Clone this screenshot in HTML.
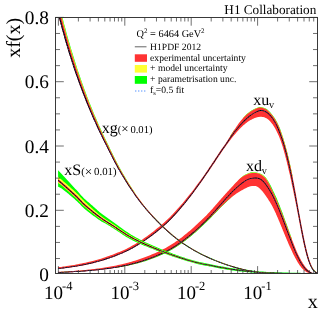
<!DOCTYPE html>
<html><head><meta charset="utf-8"><title>H1PDF 2012</title>
<style>
html,body{margin:0;padding:0;background:#fff;}
body{width:325px;height:314px;overflow:hidden;font-family:"Liberation Serif",serif;}
svg{display:block;will-change:transform;}
text{font-family:"Liberation Serif",serif;fill:#000;text-rendering:geometricPrecision;}
</style></head><body>
<svg width="325" height="314" viewBox="0 0 325 314">
<rect width="325" height="314" fill="#fff"/>
<defs><clipPath id="c"><rect x="58.1" y="17.5" width="259.4" height="256.0"/></clipPath></defs>
<g clip-path="url(#c)">
<g id="xdv">
<path d="M50.0,272.9L51.5,272.9L53.0,272.9L54.5,272.8L56.0,272.8L57.5,272.7L58.9,272.6L60.4,272.6L61.9,272.5L63.4,272.4L64.9,272.3L66.4,272.3L67.9,272.2L69.4,272.1L70.8,272.0L72.3,271.9L73.8,271.8L75.3,271.7L76.8,271.5L78.3,271.4L79.8,271.3L81.2,271.2L82.7,271.0L84.2,270.9L85.7,270.8L87.2,270.6L88.7,270.5L90.1,270.3L91.6,270.2L93.1,270.0L94.6,269.8L96.1,269.6L97.5,269.4L99.0,269.3L100.5,269.1L102.0,268.8L103.4,268.6L104.9,268.4L106.4,268.2L107.8,267.9L109.3,267.7L110.8,267.4L112.2,267.2L113.7,266.9L115.2,266.6L116.6,266.3L118.1,266.0L119.5,265.7L121.0,265.4L122.4,265.1L123.9,264.7L125.3,264.3L126.7,264.0L128.2,263.6L129.6,263.2L131.0,262.8L132.5,262.4L133.9,262.0L135.3,261.5L136.7,261.1L138.1,260.6L139.5,260.2L140.9,259.7L142.3,259.2L143.7,258.7L145.1,258.2L146.4,257.7L147.8,257.1L149.2,256.6L150.5,256.0L151.9,255.4L153.3,254.9L154.6,254.3L156.0,253.7L157.3,253.1L158.7,252.5L160.0,251.9L161.3,251.2L162.6,250.6L163.9,249.9L165.2,249.3L166.5,248.6L167.7,247.9L169.0,247.1L170.2,246.4L171.5,245.6L172.7,244.8L173.9,244.0L175.2,243.2L176.4,242.4L177.6,241.5L178.8,240.7L179.9,239.8L181.1,239.0L182.3,238.1L183.4,237.2L184.6,236.3L185.7,235.3L186.9,234.4L188.0,233.5L189.1,232.5L190.2,231.6L191.4,230.6L192.5,229.6L193.6,228.7L194.7,227.7L195.7,226.7L196.8,225.7L197.9,224.7L199.0,223.7L200.0,222.7L201.1,221.7L202.2,220.6L203.2,219.6L204.3,218.6L205.4,217.6L206.4,216.5L207.4,215.5L208.5,214.4L209.5,213.4L210.5,212.3L211.5,211.2L212.5,210.1L213.4,209.0L214.4,207.9L215.4,206.8L216.4,205.6L217.4,204.5L218.3,203.4L219.3,202.3L220.3,201.1L221.3,200.0L222.3,198.9L223.3,197.8L224.3,196.7L225.3,195.5L226.3,194.4L227.3,193.3L228.3,192.2L229.3,191.1L230.4,189.9L231.4,188.8L232.5,187.7L233.5,186.6L234.5,185.4L235.6,184.3L236.6,183.2L237.7,182.1L238.8,180.9L239.9,179.9L240.6,178.0L242.0,176.9L243.4,175.8L245.0,174.8L246.7,173.9L248.5,173.2L250.4,172.6L252.3,172.3L254.3,172.3L256.3,172.4L258.4,172.9L260.6,173.7L262.6,174.8L264.3,176.2L265.7,177.6L266.8,179.0L267.8,180.5L268.7,181.9L269.4,183.3L270.2,184.7L270.9,186.1L271.6,187.5L272.3,188.9L272.9,190.3L273.6,191.7L274.3,193.1L274.9,194.5L275.5,195.8L276.2,197.2L276.8,198.6L277.4,200.0L277.9,201.4L278.5,202.8L279.1,204.2L279.7,205.6L280.2,207.0L280.7,208.4L281.3,209.8L281.8,211.2L282.4,212.6L282.9,214.0L283.4,215.4L283.9,216.8L284.4,218.2L284.9,219.6L285.4,221.0L286.0,222.4L286.5,223.8L287.0,225.2L287.5,226.6L288.0,228.0L288.5,229.4L289.0,230.8L289.5,232.2L290.0,233.6L290.5,235.0L291.0,236.4L291.5,237.8L292.0,239.2L291.6,241.0L292.1,242.4L292.7,243.8L293.2,245.2L293.7,246.5L294.3,247.9L294.8,249.3L295.4,250.7L296.0,252.0L296.6,253.4L297.2,254.7L297.9,256.1L298.6,257.4L299.2,258.7L299.9,260.0L300.7,261.3L301.4,262.6L302.2,263.9L303.0,265.1L303.8,266.3L304.7,267.5L305.6,268.6L306.6,269.7L307.7,270.7L308.8,271.7L310.0,272.6L311.3,273.3L312.8,273.8L314.3,274.1L315.8,274.3L317.3,274.3L317.3,273.1L315.5,273.1L315.0,273.1L314.5,273.1L314.0,273.1L313.4,273.0L312.8,272.9L312.1,272.9L311.5,272.7L310.8,272.6L310.2,272.5L309.5,272.3L308.8,272.0L308.2,271.8L307.6,271.5L306.9,271.2L306.3,270.8L305.7,270.5L305.2,270.0L304.6,269.6L304.1,269.1L303.6,268.6L303.1,268.1L302.6,267.6L302.1,267.1L301.7,266.5L301.3,265.9L300.8,265.4L300.4,264.8L300.0,264.2L299.6,263.6L299.2,263.0L298.8,262.4L298.4,261.7L298.1,261.1L297.7,260.5L297.3,259.9L297.0,259.2L296.6,258.6L296.3,258.0L295.9,257.3L295.6,256.7L295.3,256.0L294.9,255.4L294.6,254.8L294.3,254.1L294.0,253.5L293.7,252.8L293.3,252.1L293.0,251.5L292.7,250.8L292.4,250.2L292.1,249.5L291.8,248.9L291.5,248.2L291.2,247.5L290.9,246.9L290.6,246.2L290.3,245.6L290.0,244.9L289.7,244.2L289.5,243.6L289.2,242.9L288.9,242.2L288.6,241.6L288.3,240.9L288.0,240.2L287.7,239.6L287.4,238.9L287.2,238.2L286.9,237.6L286.6,236.9L286.3,236.2L286.0,235.6L285.8,234.9L285.5,234.2L285.2,233.6L284.9,232.9L284.7,232.2L284.4,231.5L284.1,230.9L283.8,230.2L283.6,229.5L283.3,228.9L283.0,228.2L282.7,227.5L282.5,226.8L282.2,226.2L281.9,225.5L281.7,224.8L281.4,224.2L281.1,223.5L280.8,222.8L280.5,222.2L280.3,221.5L280.0,220.8L279.7,220.1L279.4,219.5L279.1,218.8L278.9,218.1L278.6,217.5L278.3,216.8L278.0,216.2L277.7,215.5L277.4,214.8L277.1,214.2L276.8,213.5L276.5,212.8L276.2,212.2L275.9,211.5L275.6,210.9L275.3,210.2L275.0,209.6L274.7,208.9L274.3,208.3L274.0,207.6L273.7,207.0L273.4,206.3L273.0,205.7L272.7,205.1L272.3,204.4L272.0,203.8L271.6,203.2L271.2,202.5L270.9,201.9L270.5,201.3L270.1,200.7L269.7,200.1L269.3,199.5L268.9,198.9L268.5,198.3L268.1,197.6L267.7,197.0L267.3,196.4L266.9,195.9L266.5,195.3L266.1,194.7L265.6,194.1L265.2,193.5L264.8,192.9L264.4,192.3L263.9,191.8L263.5,191.2L263.0,190.6L262.5,190.1L262.1,189.5L261.6,189.0L261.1,188.5L260.6,188.0L260.1,187.5L259.5,187.1L259.0,186.7L258.4,186.3L257.8,185.9L257.2,185.6L256.6,185.4L256.0,185.2L255.3,185.1L254.7,185.0L254.0,184.9L253.3,184.9L252.6,185.0L251.9,185.0L251.3,185.2L250.6,185.3L249.9,185.5L249.2,185.7L248.5,186.0L247.9,186.2L247.2,186.5L246.5,186.8L245.9,187.1L245.2,187.4L244.6,187.7L244.0,188.1L243.3,188.4L242.7,188.8L242.1,189.1L241.4,189.5L240.8,189.8L240.2,190.2L239.6,190.6L238.9,190.9L238.3,191.3L237.7,191.7L237.1,192.1L236.6,192.5L236.0,192.9L235.4,193.4L234.9,193.8L234.4,194.3L233.8,194.8L233.3,195.2L232.8,195.7L232.3,196.2L231.8,196.7L231.3,197.2L230.8,197.7L230.3,198.2L229.8,198.7L229.2,199.2L228.7,199.7L228.2,200.2L227.7,200.7L227.1,201.2L226.6,201.7L226.1,202.2L225.6,202.7L225.0,203.2L224.5,203.7L224.0,204.2L223.5,204.7L223.0,205.2L222.4,205.7L221.9,206.2L221.4,206.7L220.9,207.2L220.4,207.8L219.9,208.3L219.4,208.8L218.9,209.3L218.4,209.8L217.9,210.4L217.4,210.9L216.9,211.4L216.4,211.9L215.9,212.5L215.4,213.0L214.9,213.5L214.4,214.0L213.9,214.6L213.4,215.1L212.9,215.6L212.4,216.1L211.9,216.7L211.4,217.2L210.9,217.7L210.4,218.2L209.9,218.7L209.4,219.3L208.9,219.8L208.3,220.3L207.8,220.8L207.3,221.3L206.8,221.8L206.3,222.3L205.8,222.8L205.2,223.3L204.7,223.8L204.2,224.3L203.7,224.8L203.2,225.3L202.6,225.8L202.1,226.3L201.6,226.8L201.0,227.3L200.5,227.8L200.0,228.3L199.4,228.8L198.9,229.3L198.4,229.8L197.8,230.3L197.3,230.8L196.8,231.2L196.2,231.7L195.7,232.2L195.1,232.7L194.6,233.1L194.0,233.6L193.5,234.1L192.9,234.6L192.4,235.0L191.8,235.5L191.2,235.9L190.7,236.4L190.1,236.9L189.6,237.3L189.0,237.8L188.4,238.2L187.9,238.7L187.3,239.1L186.7,239.6L186.2,240.0L185.6,240.5L185.0,240.9L184.4,241.3L183.8,241.8L183.3,242.2L182.7,242.6L182.1,243.0L181.5,243.5L180.9,243.9L180.3,244.3L179.7,244.7L179.1,245.1L178.5,245.5L177.9,245.9L177.3,246.3L176.7,246.7L176.1,247.1L175.5,247.5L174.9,247.9L174.2,248.3L173.6,248.6L173.0,249.0L172.4,249.4L171.8,249.7L171.1,250.1L170.5,250.5L169.9,250.8L169.2,251.2L168.6,251.5L167.9,251.8L167.3,252.2L166.7,252.5L166.0,252.8L165.4,253.1L164.7,253.5L164.1,253.8L163.4,254.1L162.7,254.4L162.1,254.7L161.4,255.0L160.8,255.3L160.1,255.6L159.4,255.8L158.8,256.1L158.1,256.4L157.4,256.7L156.8,257.0L156.1,257.2L155.4,257.5L154.7,257.8L154.1,258.0L153.4,258.3L152.7,258.5L152.0,258.8L151.3,259.0L150.7,259.3L150.0,259.5L149.3,259.8L148.6,260.0L147.9,260.3L147.2,260.5L146.6,260.7L145.9,260.9L145.2,261.2L144.5,261.4L143.8,261.6L143.1,261.8L142.4,262.0L141.7,262.2L141.0,262.4L140.3,262.6L139.6,262.8L138.9,263.0L138.2,263.2L137.5,263.4L136.8,263.6L136.1,263.8L135.4,264.0L134.7,264.1L134.0,264.3L133.3,264.5L132.6,264.6L131.9,264.8L131.2,265.0L130.5,265.1L129.8,265.3L129.1,265.4L128.4,265.6L127.7,265.7L127.0,265.9L126.2,266.0L125.5,266.2L124.8,266.3L124.1,266.5L123.4,266.6L122.7,266.7L122.0,266.9L121.3,267.0L120.5,267.1L119.8,267.2L119.1,267.3L118.4,267.5L117.7,267.6L117.0,267.7L116.3,267.7L115.6,267.8L114.9,267.9L114.1,267.9L113.4,268.0L112.7,268.0L112.0,268.1L111.3,268.1L110.6,268.1L109.9,268.1L109.2,268.2L108.5,268.2L107.8,268.3L107.1,268.3L106.3,268.4L105.6,268.5L104.9,268.5L104.2,268.6L103.5,268.7L102.8,268.8L102.0,268.9L101.3,268.9L100.6,269.0L99.9,269.1L99.2,269.2L98.4,269.3L97.7,269.3L97.0,269.4L96.3,269.5L95.6,269.6L94.8,269.6L94.1,269.7L93.4,269.8L92.7,269.9L91.9,269.9L91.2,270.0L90.5,270.0L89.8,270.1L89.1,270.2L88.3,270.2L87.6,270.3L86.9,270.4L86.2,270.4L85.4,270.5L84.7,270.5L84.0,270.6L83.3,270.6L82.6,270.7L81.8,270.7L81.1,270.8L80.4,270.8L79.7,270.9L78.9,270.9L78.2,271.0L77.5,271.0L76.8,271.1L76.0,271.1L75.3,271.2L74.6,271.2L73.9,271.2L73.2,271.3L72.4,271.3L71.7,271.4L71.0,271.4L70.3,271.4L69.5,271.5L68.8,271.5L68.1,271.5L67.4,271.6L66.6,271.6L65.9,271.6L65.2,271.7L64.5,271.7L63.7,271.7L63.0,271.8L62.3,271.8L61.6,271.8L60.9,271.9L60.1,271.9L59.4,271.9L58.7,271.9L58.0,272.0L57.3,272.0L56.6,272.0L55.9,272.1L55.2,272.1L54.5,272.1L53.9,272.1L53.3,272.1L52.8,272.2L52.3,272.2L51.8,272.2L50.0,272.2Z" fill="#00ff00"/>
<path d="M50.0,272.5L51.5,272.5L53.0,272.4L54.5,272.4L55.9,272.3L57.4,272.3L58.9,272.2L60.4,272.1L61.9,272.0L63.4,272.0L64.9,271.9L66.4,271.8L67.8,271.7L69.3,271.6L70.8,271.5L72.3,271.4L73.8,271.3L75.3,271.2L76.8,271.1L78.2,271.0L79.7,270.9L81.2,270.7L82.7,270.6L84.2,270.5L85.7,270.3L87.1,270.2L88.6,270.0L90.1,269.9L91.6,269.7L93.1,269.5L94.5,269.4L96.0,269.2L97.5,269.0L99.0,268.8L100.4,268.6L101.9,268.4L103.4,268.2L104.8,268.0L106.3,267.7L107.8,267.5L109.2,267.2L110.7,267.0L112.2,266.7L113.6,266.4L115.1,266.2L116.5,265.9L118.0,265.6L119.4,265.3L120.9,264.9L122.3,264.6L123.8,264.3L125.2,263.9L126.6,263.5L128.1,263.2L129.5,262.8L130.9,262.4L132.3,262.0L133.8,261.5L135.2,261.1L136.6,260.7L138.0,260.2L139.4,259.7L140.8,259.3L142.1,258.8L143.5,258.3L144.9,257.8L146.3,257.2L147.6,256.7L149.0,256.2L150.4,255.6L151.7,255.0L153.1,254.5L154.5,253.9L155.8,253.3L157.1,252.7L158.5,252.1L159.8,251.5L161.1,250.8L162.4,250.2L163.7,249.5L165.0,248.9L166.3,248.2L167.5,247.5L168.8,246.7L170.0,246.0L171.3,245.2L172.5,244.4L173.7,243.6L174.9,242.8L176.1,242.0L177.3,241.2L178.5,240.3L179.7,239.5L180.8,238.6L182.0,237.7L183.2,236.8L184.3,235.9L185.4,235.0L186.6,234.1L187.7,233.1L188.8,232.2L189.9,231.2L191.1,230.3L192.2,229.3L193.3,228.3L194.4,227.4L195.4,226.4L196.5,225.4L197.6,224.4L198.7,223.4L199.7,222.4L200.8,221.3L201.9,220.3L202.9,219.3L204.0,218.3L205.0,217.2L206.1,216.2L207.1,215.2L208.1,214.1L209.1,213.0L210.2,212.0L211.1,210.9L212.1,209.8L213.1,208.7L214.1,207.6L215.1,206.5L216.0,205.3L217.0,204.2L218.0,203.1L219.0,202.0L220.0,200.8L221.0,199.7L221.9,198.6L222.9,197.5L223.9,196.4L224.9,195.2L225.9,194.1L227.0,193.0L228.0,191.9L229.0,190.7L230.0,189.6L231.1,188.5L232.1,187.4L233.2,186.3L234.2,185.1L235.3,183.9L236.3,182.8L237.4,181.7L238.5,180.6L239.6,179.5L240.6,178.0L242.0,176.9L243.5,175.9L245.1,175.0L246.7,174.2L248.5,173.5L250.4,172.9L252.4,172.6L254.3,172.6L256.3,172.7L258.4,173.2L260.5,174.0L262.4,175.1L264.1,176.4L265.5,177.8L266.6,179.3L267.5,180.7L268.3,182.2L269.0,183.6L269.7,185.0L270.4,186.5L271.0,187.9L271.7,189.3L272.3,190.6L273.0,192.0L273.6,193.4L274.3,194.8L274.9,196.2L275.5,197.5L276.1,198.9L276.7,200.3L277.3,201.7L277.9,203.1L278.4,204.5L279.0,205.9L279.6,207.2L280.1,208.6L280.7,210.0L281.2,211.4L281.8,212.8L282.3,214.2L282.9,215.6L283.4,217.0L283.9,218.4L284.5,219.8L285.0,221.2L285.5,222.6L286.0,224.0L286.6,225.4L287.1,226.8L287.6,228.2L288.1,229.6L288.6,231.0L289.2,232.4L289.7,233.7L290.2,235.1L290.8,236.5L291.4,237.9L291.9,239.3L292.0,240.8L292.5,242.2L293.1,243.6L293.6,245.0L294.2,246.4L294.7,247.7L295.3,249.1L295.8,250.5L296.4,251.9L297.0,253.2L297.6,254.5L298.3,255.9L299.0,257.2L299.6,258.5L300.3,259.8L301.1,261.1L301.8,262.4L302.6,263.6L303.3,264.8L304.2,266.0L305.0,267.2L305.9,268.3L306.9,269.4L307.9,270.4L309.0,271.3L310.2,272.2L311.5,272.9L312.9,273.4L314.3,273.7L315.8,273.8L317.3,273.9L317.3,273.6L315.5,273.6L315.0,273.6L314.5,273.5L314.0,273.5L313.4,273.5L312.8,273.4L312.2,273.3L311.5,273.2L310.8,273.1L310.2,272.9L309.5,272.7L308.8,272.5L308.2,272.3L307.6,272.0L306.9,271.7L306.3,271.4L305.7,271.0L305.2,270.6L304.6,270.2L304.1,269.7L303.6,269.2L303.0,268.7L302.6,268.2L302.1,267.7L301.6,267.1L301.2,266.6L300.7,266.0L300.3,265.4L299.9,264.9L299.5,264.3L299.1,263.7L298.7,263.1L298.3,262.4L298.0,261.8L297.6,261.2L297.2,260.6L296.9,260.0L296.5,259.3L296.2,258.7L295.8,258.1L295.5,257.4L295.1,256.8L294.8,256.1L294.5,255.5L294.2,254.9L293.8,254.2L293.5,253.6L293.2,252.9L292.9,252.3L292.6,251.6L292.3,251.0L292.0,250.3L291.7,249.6L291.4,249.0L291.1,248.3L290.8,247.7L290.5,247.0L290.2,246.4L289.9,245.7L289.6,245.0L289.3,244.4L289.0,243.7L288.7,243.1L288.5,242.4L288.2,241.7L287.9,241.1L287.6,240.4L287.3,239.7L287.0,239.1L286.7,238.4L286.5,237.7L286.2,237.1L285.9,236.4L285.6,235.7L285.3,235.1L285.1,234.4L284.8,233.7L284.5,233.1L284.2,232.4L284.0,231.7L283.7,231.1L283.4,230.4L283.2,229.7L282.9,229.1L282.6,228.4L282.3,227.7L282.1,227.1L281.8,226.4L281.5,225.7L281.3,225.1L281.0,224.4L280.7,223.7L280.4,223.0L280.2,222.4L279.9,221.7L279.6,221.0L279.3,220.4L279.0,219.7L278.8,219.1L278.5,218.4L278.2,217.7L277.9,217.1L277.6,216.4L277.3,215.7L277.0,215.1L276.7,214.4L276.4,213.8L276.1,213.1L275.8,212.4L275.5,211.8L275.2,211.1L274.9,210.5L274.6,209.8L274.3,209.2L274.0,208.5L273.7,207.9L273.3,207.2L273.0,206.6L272.7,206.0L272.3,205.3L272.0,204.7L271.6,204.1L271.2,203.5L270.9,202.8L270.5,202.2L270.1,201.6L269.8,201.0L269.4,200.4L269.0,199.8L268.6,199.2L268.2,198.6L267.8,198.0L267.4,197.4L267.0,196.8L266.6,196.2L266.2,195.6L265.7,195.0L265.3,194.4L264.9,193.8L264.5,193.2L264.0,192.7L263.6,192.1L263.1,191.5L262.7,191.0L262.2,190.4L261.8,189.9L261.3,189.4L260.8,188.8L260.3,188.4L259.8,187.9L259.2,187.4L258.7,187.0L258.1,186.7L257.5,186.3L256.9,186.0L256.3,185.8L255.7,185.6L255.0,185.5L254.4,185.4L253.7,185.4L253.0,185.4L252.4,185.5L251.7,185.6L251.0,185.7L250.3,185.9L249.6,186.1L249.0,186.3L248.3,186.5L247.6,186.8L247.0,187.1L246.3,187.4L245.7,187.7L245.0,188.0L244.4,188.3L243.8,188.7L243.1,189.0L242.5,189.4L241.9,189.7L241.2,190.1L240.6,190.4L240.0,190.8L239.4,191.2L238.8,191.5L238.1,191.9L237.5,192.3L236.9,192.7L236.3,193.1L235.7,193.5L235.1,193.9L234.6,194.3L234.0,194.8L233.4,195.2L232.8,195.6L232.3,196.1L231.7,196.5L231.1,197.0L230.6,197.4L230.0,197.9L229.5,198.4L228.9,198.8L228.4,199.3L227.8,199.8L227.3,200.2L226.7,200.7L226.2,201.2L225.7,201.7L225.1,202.2L224.6,202.7L224.1,203.2L223.6,203.7L223.0,204.2L222.5,204.7L222.0,205.2L221.5,205.7L221.0,206.2L220.4,206.7L219.9,207.2L219.4,207.7L218.9,208.2L218.4,208.7L217.9,209.2L217.4,209.7L216.9,210.3L216.4,210.8L215.9,211.3L215.4,211.8L214.9,212.3L214.4,212.8L213.9,213.4L213.4,213.9L212.9,214.4L212.4,214.9L211.9,215.4L211.3,216.0L210.8,216.5L210.3,217.0L209.8,217.5L209.3,218.0L208.8,218.5L208.3,219.0L207.8,219.5L207.3,220.1L206.8,220.6L206.2,221.1L205.7,221.6L205.2,222.1L204.7,222.6L204.2,223.1L203.6,223.6L203.1,224.1L202.6,224.6L202.1,225.1L201.6,225.6L201.0,226.1L200.5,226.6L200.0,227.0L199.4,227.5L198.9,228.0L198.4,228.5L197.8,229.0L197.3,229.5L196.8,230.0L196.2,230.4L195.7,230.9L195.1,231.4L194.6,231.9L194.0,232.3L193.5,232.8L193.0,233.3L192.4,233.7L191.8,234.2L191.3,234.7L190.7,235.1L190.2,235.6L189.6,236.0L189.1,236.5L188.5,237.0L187.9,237.4L187.4,237.9L186.8,238.3L186.2,238.7L185.7,239.2L185.1,239.6L184.5,240.1L183.9,240.5L183.4,240.9L182.8,241.4L182.2,241.8L181.6,242.2L181.0,242.6L180.4,243.0L179.8,243.4L179.2,243.9L178.7,244.3L178.1,244.7L177.5,245.1L176.8,245.5L176.2,245.9L175.6,246.3L175.0,246.6L174.4,247.0L173.8,247.4L173.2,247.8L172.6,248.2L172.0,248.5L171.3,248.9L170.7,249.2L170.1,249.6L169.4,250.0L168.8,250.3L168.2,250.6L167.5,251.0L166.9,251.3L166.3,251.6L165.6,252.0L165.0,252.3L164.3,252.6L163.7,252.9L163.0,253.2L162.4,253.5L161.7,253.8L161.0,254.1L160.4,254.4L159.7,254.7L159.1,255.0L158.4,255.3L157.7,255.6L157.1,255.8L156.4,256.1L155.7,256.4L155.1,256.7L154.4,256.9L153.7,257.2L153.0,257.4L152.4,257.7L151.7,258.0L151.0,258.2L150.3,258.5L149.7,258.7L149.0,259.0L148.3,259.2L147.6,259.4L146.9,259.7L146.3,259.9L145.6,260.1L144.9,260.4L144.2,260.6L143.5,260.8L142.8,261.0L142.1,261.3L141.5,261.5L140.8,261.7L140.1,261.9L139.4,262.1L138.7,262.3L138.0,262.5L137.3,262.7L136.6,262.9L135.9,263.1L135.2,263.3L134.5,263.4L133.8,263.6L133.1,263.8L132.4,264.0L131.7,264.1L131.0,264.3L130.3,264.5L129.6,264.7L128.9,264.8L128.2,265.0L127.5,265.1L126.8,265.3L126.1,265.4L125.4,265.6L124.7,265.7L124.0,265.9L123.3,266.0L122.5,266.2L121.8,266.3L121.1,266.4L120.4,266.6L119.7,266.7L119.0,266.8L118.3,267.0L117.6,267.1L116.9,267.2L116.2,267.3L115.4,267.4L114.7,267.6L114.0,267.7L113.3,267.8L112.6,267.9L111.9,268.0L111.2,268.1L110.4,268.2L109.7,268.3L109.0,268.4L108.3,268.5L107.6,268.6L106.9,268.7L106.2,268.8L105.4,268.9L104.7,269.0L104.0,269.1L103.3,269.2L102.6,269.3L101.9,269.3L101.1,269.4L100.4,269.5L99.7,269.6L99.0,269.7L98.3,269.7L97.6,269.8L96.8,269.9L96.1,270.0L95.4,270.0L94.7,270.1L94.0,270.2L93.2,270.2L92.5,270.3L91.8,270.4L91.1,270.4L90.4,270.5L89.6,270.6L88.9,270.6L88.2,270.7L87.5,270.8L86.8,270.8L86.0,270.9L85.3,270.9L84.6,271.0L83.9,271.0L83.2,271.1L82.4,271.1L81.7,271.2L81.0,271.2L80.3,271.3L79.6,271.3L78.8,271.4L78.1,271.4L77.4,271.5L76.7,271.5L76.0,271.6L75.2,271.6L74.5,271.7L73.8,271.7L73.1,271.7L72.4,271.8L71.6,271.8L70.9,271.9L70.2,271.9L69.5,271.9L68.8,272.0L68.0,272.0L67.3,272.0L66.6,272.1L65.9,272.1L65.2,272.1L64.4,272.2L63.7,272.2L63.0,272.2L62.3,272.3L61.5,272.3L60.8,272.3L60.1,272.3L59.4,272.4L58.7,272.4L58.0,272.4L57.2,272.5L56.5,272.5L55.9,272.5L55.2,272.5L54.5,272.5L53.9,272.6L53.3,272.6L52.8,272.6L52.3,272.6L51.8,272.6L50.0,272.7Z" fill="#ffff33"/>
<path d="M50.0,272.0L51.5,272.0L53.0,272.0L54.4,271.9L55.9,271.9L57.4,271.8L58.9,271.7L60.4,271.7L61.9,271.6L63.4,271.5L64.9,271.4L66.3,271.4L67.8,271.3L69.3,271.2L70.8,271.1L72.3,271.0L73.8,270.9L75.3,270.8L76.7,270.6L78.2,270.5L79.7,270.4L81.2,270.3L82.7,270.2L84.1,270.0L85.6,269.9L87.1,269.7L88.6,269.6L90.1,269.4L91.5,269.3L93.0,269.1L94.5,268.9L96.0,268.7L97.4,268.6L98.9,268.4L100.4,268.2L101.9,268.0L103.3,267.7L104.8,267.5L106.3,267.3L107.7,267.0L109.2,266.8L110.6,266.5L112.1,266.3L113.6,266.0L115.0,265.7L116.5,265.4L117.9,265.1L119.4,264.8L120.8,264.5L122.2,264.2L123.7,263.8L125.1,263.5L126.5,263.1L128.0,262.7L129.4,262.3L130.8,261.9L132.2,261.5L133.6,261.1L135.0,260.7L136.4,260.2L137.8,259.8L139.2,259.3L140.6,258.8L142.0,258.3L143.4,257.8L144.8,257.3L146.1,256.8L147.5,256.3L148.8,255.7L150.2,255.2L151.6,254.6L152.9,254.0L154.3,253.5L155.6,252.9L157.0,252.3L158.3,251.7L159.6,251.1L160.9,250.4L162.2,249.8L163.5,249.1L164.8,248.5L166.1,247.8L167.3,247.1L168.5,246.3L169.8,245.6L171.0,244.8L172.2,244.1L173.5,243.3L174.7,242.5L175.9,241.6L177.1,240.8L178.2,240.0L179.4,239.1L180.6,238.2L181.7,237.4L182.9,236.5L184.0,235.6L185.2,234.6L186.3,233.7L187.4,232.8L188.5,231.8L189.7,230.9L190.8,229.9L191.9,229.0L193.0,228.0L194.1,227.0L195.1,226.0L196.2,225.0L197.3,224.0L198.3,223.0L199.4,222.0L200.5,221.0L201.6,220.0L202.6,219.0L203.7,218.0L204.7,216.9L205.8,215.9L206.8,214.9L207.8,213.8L208.8,212.7L209.8,211.7L210.8,210.6L211.8,209.5L212.8,208.4L213.7,207.3L214.7,206.2L215.7,205.0L216.7,203.9L217.7,202.8L218.6,201.7L219.6,200.6L220.6,199.4L221.6,198.3L222.6,197.2L223.6,196.1L224.6,194.9L225.6,193.8L226.6,192.7L227.6,191.5L228.7,190.4L229.7,189.3L230.8,188.2L231.8,187.1L232.9,185.9L233.9,184.8L235.0,183.6L236.0,182.5L237.1,181.4L238.2,180.2L239.4,179.1L240.7,178.1L242.1,177.0L243.6,176.1L245.1,175.2L246.8,174.4L248.6,173.7L250.5,173.2L252.4,172.9L254.3,172.9L256.2,173.0L258.3,173.5L260.4,174.3L262.3,175.4L263.9,176.7L265.3,178.1L266.4,179.5L267.3,180.9L268.1,182.3L268.9,183.7L269.6,185.1L270.3,186.5L270.9,187.9L271.6,189.3L272.2,190.7L272.9,192.1L273.5,193.5L274.2,194.8L274.8,196.2L275.4,197.6L276.0,199.0L276.6,200.4L277.2,201.7L277.8,203.1L278.4,204.5L278.9,205.9L279.5,207.3L280.1,208.7L280.6,210.1L281.2,211.5L281.7,212.8L282.2,214.2L282.8,215.6L283.3,217.0L283.9,218.4L284.4,219.8L284.9,221.2L285.4,222.6L286.0,224.0L286.5,225.4L287.0,226.8L287.5,228.2L288.0,229.6L288.6,231.0L289.1,232.4L289.6,233.8L290.1,235.2L290.7,236.5L291.3,237.9L291.9,239.3L292.4,240.7L293.0,242.0L293.5,243.4L294.0,244.8L294.6,246.2L295.1,247.6L295.7,249.0L296.2,250.3L296.8,251.7L297.4,253.0L298.1,254.4L298.7,255.7L299.4,257.0L300.0,258.3L300.7,259.6L301.4,260.9L302.2,262.1L302.9,263.4L303.7,264.6L304.5,265.8L305.4,266.9L306.3,268.0L307.2,269.0L308.2,270.0L309.3,270.9L310.4,271.8L311.6,272.4L313.0,272.9L314.4,273.2L315.8,273.4L317.3,273.4L317.3,274.0L315.5,274.0L315.0,274.0L314.5,274.0L314.0,274.0L313.4,273.9L312.8,273.8L312.2,273.8L311.5,273.7L310.8,273.5L310.2,273.4L309.5,273.2L308.8,273.0L308.2,272.8L307.5,272.5L306.9,272.2L306.3,271.9L305.7,271.5L305.1,271.1L304.6,270.7L304.0,270.3L303.5,269.8L303.0,269.3L302.5,268.8L302.0,268.3L301.5,267.7L301.1,267.2L300.6,266.6L300.2,266.0L299.8,265.5L299.4,264.9L299.0,264.3L298.6,263.7L298.2,263.1L297.8,262.5L297.4,261.8L297.1,261.2L296.7,260.6L296.4,260.0L296.0,259.3L295.7,258.7L295.3,258.1L295.0,257.4L294.6,256.8L294.3,256.1L294.0,255.5L293.7,254.9L293.3,254.2L293.0,253.6L292.7,252.9L292.4,252.3L292.1,251.6L291.8,251.0L291.5,250.3L291.2,249.6L290.9,249.0L290.6,248.3L290.3,247.7L290.0,247.0L289.7,246.4L289.4,245.7L289.1,245.0L288.8,244.4L288.5,243.7L288.2,243.0L288.0,242.4L287.7,241.7L287.4,241.1L287.1,240.4L286.8,239.7L286.5,239.1L286.3,238.4L286.0,237.7L285.7,237.1L285.4,236.4L285.1,235.7L284.9,235.1L284.6,234.4L284.3,233.7L284.0,233.1L283.8,232.4L283.5,231.7L283.2,231.1L282.9,230.4L282.7,229.7L282.4,229.1L282.1,228.4L281.9,227.7L281.6,227.1L281.3,226.4L281.0,225.7L280.8,225.0L280.5,224.4L280.2,223.7L279.9,223.0L279.7,222.4L279.4,221.7L279.1,221.0L278.8,220.4L278.5,219.7L278.3,219.0L278.0,218.4L277.7,217.7L277.4,217.1L277.1,216.4L276.8,215.7L276.5,215.1L276.2,214.4L276.0,213.8L275.7,213.1L275.4,212.4L275.0,211.8L274.7,211.1L274.4,210.5L274.1,209.8L273.8,209.2L273.5,208.5L273.2,207.9L272.8,207.3L272.5,206.6L272.2,206.0L271.8,205.3L271.5,204.7L271.1,204.1L270.7,203.5L270.4,202.8L270.0,202.2L269.6,201.6L269.2,201.0L268.8,200.4L268.5,199.8L268.1,199.2L267.7,198.6L267.3,198.0L266.9,197.4L266.5,196.8L266.0,196.2L265.6,195.6L265.2,195.0L264.8,194.4L264.4,193.8L263.9,193.3L263.5,192.7L263.1,192.1L262.6,191.6L262.1,191.0L261.7,190.5L261.2,189.9L260.7,189.4L260.2,188.9L259.7,188.4L259.2,188.0L258.6,187.6L258.1,187.2L257.5,186.8L256.9,186.6L256.3,186.3L255.7,186.1L255.0,186.0L254.4,185.9L253.7,185.9L253.0,185.9L252.4,185.9L251.7,186.0L251.0,186.2L250.3,186.3L249.6,186.5L249.0,186.8L248.3,187.0L247.6,187.3L247.0,187.6L246.3,187.9L245.7,188.2L245.1,188.5L244.4,188.8L243.8,189.2L243.1,189.5L242.5,189.9L241.9,190.2L241.3,190.6L240.6,190.9L240.0,191.3L239.4,191.7L238.8,192.0L238.2,192.4L237.6,192.8L237.0,193.2L236.4,193.6L235.8,194.0L235.2,194.4L234.6,194.9L234.0,195.3L233.4,195.7L232.9,196.2L232.3,196.6L231.7,197.1L231.2,197.5L230.6,198.0L230.1,198.4L229.5,198.9L229.0,199.4L228.4,199.8L227.9,200.3L227.3,200.8L226.8,201.3L226.3,201.8L225.7,202.2L225.2,202.7L224.7,203.2L224.1,203.7L223.6,204.2L223.1,204.7L222.6,205.2L222.1,205.7L221.5,206.2L221.0,206.7L220.5,207.2L220.0,207.7L219.5,208.2L219.0,208.8L218.5,209.3L218.0,209.8L217.4,210.3L216.9,210.8L216.4,211.3L215.9,211.9L215.4,212.4L214.9,212.9L214.4,213.4L213.9,213.9L213.4,214.5L212.9,215.0L212.4,215.5L211.9,216.0L211.4,216.5L210.9,217.0L210.4,217.6L209.9,218.1L209.4,218.6L208.9,219.1L208.4,219.6L207.9,220.1L207.3,220.6L206.8,221.1L206.3,221.6L205.8,222.1L205.3,222.6L204.8,223.1L204.2,223.6L203.7,224.1L203.2,224.6L202.7,225.1L202.1,225.6L201.6,226.1L201.1,226.6L200.6,227.1L200.0,227.6L199.5,228.1L199.0,228.6L198.4,229.1L197.9,229.5L197.4,230.0L196.8,230.5L196.3,231.0L195.7,231.5L195.2,231.9L194.7,232.4L194.1,232.9L193.6,233.3L193.0,233.8L192.5,234.3L191.9,234.7L191.4,235.2L190.8,235.7L190.2,236.1L189.7,236.6L189.1,237.0L188.6,237.5L188.0,237.9L187.4,238.4L186.9,238.8L186.3,239.3L185.7,239.7L185.1,240.2L184.6,240.6L184.0,241.0L183.4,241.4L182.8,241.9L182.2,242.3L181.7,242.7L181.1,243.1L180.5,243.6L179.9,244.0L179.3,244.4L178.7,244.8L178.1,245.2L177.5,245.6L176.9,246.0L176.3,246.4L175.7,246.8L175.1,247.1L174.5,247.5L173.8,247.9L173.2,248.3L172.6,248.7L172.0,249.0L171.4,249.4L170.7,249.7L170.1,250.1L169.5,250.5L168.8,250.8L168.2,251.1L167.6,251.5L166.9,251.8L166.3,252.1L165.6,252.5L165.0,252.8L164.3,253.1L163.7,253.4L163.0,253.7L162.4,254.0L161.7,254.3L161.1,254.6L160.4,254.9L159.7,255.2L159.1,255.5L158.4,255.8L157.8,256.0L157.1,256.3L156.4,256.6L155.7,256.9L155.1,257.1L154.4,257.4L153.7,257.7L153.1,257.9L152.4,258.2L151.7,258.4L151.0,258.7L150.4,258.9L149.7,259.2L149.0,259.4L148.3,259.7L147.6,259.9L147.0,260.1L146.3,260.4L145.6,260.6L144.9,260.8L144.2,261.1L143.5,261.3L142.9,261.5L142.2,261.7L141.5,261.9L140.8,262.2L140.1,262.4L139.4,262.6L138.7,262.8L138.0,263.0L137.3,263.2L136.6,263.3L135.9,263.5L135.2,263.7L134.5,263.9L133.8,264.1L133.1,264.3L132.4,264.4L131.7,264.6L131.0,264.8L130.3,264.9L129.6,265.1L128.9,265.3L128.2,265.4L127.5,265.6L126.8,265.7L126.1,265.9L125.4,266.0L124.7,266.2L124.0,266.3L123.3,266.5L122.6,266.6L121.9,266.8L121.1,266.9L120.4,267.0L119.7,267.2L119.0,267.3L118.3,267.4L117.6,267.5L116.9,267.7L116.2,267.8L115.5,267.9L114.7,268.0L114.0,268.1L113.3,268.2L112.6,268.3L111.9,268.5L111.2,268.6L110.5,268.7L109.7,268.8L109.0,268.9L108.3,269.0L107.6,269.1L106.9,269.2L106.2,269.3L105.5,269.3L104.7,269.4L104.0,269.5L103.3,269.6L102.6,269.7L101.9,269.8L101.2,269.9L100.4,270.0L99.7,270.0L99.0,270.1L98.3,270.2L97.6,270.3L96.8,270.3L96.1,270.4L95.4,270.5L94.7,270.6L94.0,270.6L93.3,270.7L92.5,270.8L91.8,270.8L91.1,270.9L90.4,271.0L89.7,271.0L88.9,271.1L88.2,271.1L87.5,271.2L86.8,271.3L86.1,271.3L85.3,271.4L84.6,271.4L83.9,271.5L83.2,271.5L82.5,271.6L81.7,271.6L81.0,271.7L80.3,271.7L79.6,271.8L78.9,271.8L78.1,271.9L77.4,271.9L76.7,272.0L76.0,272.0L75.3,272.1L74.5,272.1L73.8,272.1L73.1,272.2L72.4,272.2L71.7,272.3L70.9,272.3L70.2,272.3L69.5,272.4L68.8,272.4L68.0,272.4L67.3,272.5L66.6,272.5L65.9,272.6L65.2,272.6L64.4,272.6L63.7,272.6L63.0,272.7L62.3,272.7L61.6,272.7L60.8,272.8L60.1,272.8L59.4,272.8L58.7,272.8L58.0,272.9L57.3,272.9L56.6,272.9L55.9,273.0L55.2,273.0L54.5,273.0L53.9,273.0L53.3,273.0L52.8,273.1L52.3,273.1L51.8,273.1L50.0,273.1Z" fill="#ff3333"/>
<path d="M50.0,272.4L51.5,272.4L53.0,272.3L54.5,272.3L55.9,272.2L57.4,272.2L58.9,272.1L60.4,272.0L61.9,272.0L63.4,271.9L64.9,271.8L66.4,271.8L67.8,271.7L69.3,271.6L70.8,271.5L72.3,271.4L73.8,271.4L75.3,271.3L76.8,271.2L78.3,271.1L79.7,271.0L81.2,270.9L82.7,270.8L84.2,270.6L85.7,270.5L87.2,270.4L88.6,270.3L90.1,270.1L91.6,270.0L93.1,269.9L94.6,269.7L96.1,269.6L97.5,269.4L99.0,269.2L100.5,269.1L102.0,268.9L103.4,268.7L104.9,268.5L106.4,268.3L107.9,268.1L109.3,267.9L110.8,267.7L112.3,267.4L113.8,267.2L115.2,267.0L116.7,266.7L118.2,266.5L119.6,266.2L121.1,265.9L122.5,265.6L124.0,265.3L125.4,265.0L126.9,264.7L128.4,264.4L129.8,264.0L131.2,263.7L132.7,263.3L134.1,263.0L135.6,262.6L137.0,262.2L138.4,261.8L139.9,261.3L141.3,260.9L142.7,260.5L144.1,260.0L145.5,259.5L146.9,259.0L148.3,258.5L149.7,258.0L151.1,257.5L152.5,257.0L153.9,256.4L155.3,255.9L156.6,255.3L158.0,254.7L159.4,254.1L160.7,253.5L162.1,252.9L163.4,252.3L164.8,251.7L166.1,251.0L167.4,250.3L168.7,249.6L170.0,248.9L171.3,248.1L172.5,247.3L173.8,246.6L175.1,245.8L176.3,245.0L177.5,244.1L178.8,243.3L180.0,242.4L181.2,241.6L182.4,240.7L183.6,239.8L184.8,238.9L186.0,238.0L187.1,237.1L188.3,236.2L189.4,235.2L190.6,234.3L191.7,233.3L192.8,232.3L194.0,231.4L195.1,230.4L196.2,229.4L197.3,228.4L198.4,227.4L199.5,226.4L200.6,225.4L201.6,224.3L202.7,223.3L203.8,222.3L204.8,221.2L205.9,220.2L206.9,219.1L208.0,218.0L209.0,217.0L210.0,215.9L211.0,214.8L212.0,213.7L213.0,212.6L214.0,211.5L215.0,210.4L216.0,209.3L217.0,208.1L218.0,207.0L218.9,205.9L219.9,204.8L220.9,203.7L221.9,202.5L222.9,201.4L223.9,200.3L224.8,199.2L225.8,198.1L226.8,197.0L227.9,195.9L228.9,194.8L229.9,193.7L230.9,192.6L232.0,191.5L233.0,190.5L234.1,189.4L235.2,188.4L236.3,187.4L237.4,186.4L238.6,185.5L239.7,184.5L240.9,183.5L242.0,182.6L243.2,181.7L244.5,180.9L245.8,180.1L247.1,179.4L248.5,178.8L250.0,178.3L251.5,177.9L253.0,177.7L254.5,177.6L256.0,177.6L257.5,177.7L259.0,178.1L260.4,178.8L261.7,179.6L262.9,180.6L264.0,181.7L265.0,182.8L265.9,184.0L266.8,185.2L267.7,186.4L268.5,187.7L269.3,188.9L270.1,190.2L270.8,191.5L271.6,192.8L272.3,194.1L273.0,195.5L273.7,196.8L274.3,198.1L275.0,199.5L275.6,200.8L276.2,202.2L276.8,203.5L277.4,204.9L278.0,206.3L278.6,207.7L279.2,209.0L279.8,210.4L280.3,211.8L280.9,213.2L281.4,214.6L282.0,215.9L282.5,217.3L283.1,218.7L283.6,220.1L284.1,221.5L284.7,222.9L285.2,224.3L285.7,225.7L286.2,227.1L286.8,228.5L287.3,229.9L287.8,231.3L288.3,232.7L288.9,234.1L289.4,235.5L289.9,236.8L290.4,238.2L291.0,239.6L291.5,241.0L292.0,242.4L292.6,243.8L293.1,245.2L293.7,246.6L294.3,247.9L294.8,249.3L295.4,250.7L296.0,252.0L296.6,253.4L297.2,254.7L297.9,256.1L298.5,257.4L299.2,258.7L299.9,260.1L300.6,261.4L301.3,262.6L302.1,263.9L302.9,265.1L303.8,266.3L304.7,267.5L305.6,268.6L306.7,269.6L307.8,270.6L308.9,271.4L310.2,272.1L311.5,272.7L312.9,273.0L314.4,273.2L315.8,273.3L317.3,273.3L317.3,274.1L315.8,274.1L314.3,274.0L312.8,273.8L311.3,273.4L309.9,272.8L308.5,272.1L307.3,271.2L306.1,270.2L305.0,269.1L304.1,268.0L303.1,266.8L302.2,265.6L301.4,264.3L300.6,263.1L299.9,261.8L299.2,260.4L298.5,259.1L297.8,257.8L297.1,256.4L296.5,255.1L295.9,253.7L295.3,252.4L294.7,251.0L294.1,249.6L293.5,248.2L293.0,246.9L292.4,245.5L291.8,244.1L291.3,242.7L290.8,241.3L290.2,239.9L289.7,238.5L289.2,237.1L288.6,235.7L288.1,234.3L287.6,232.9L287.1,231.6L286.5,230.2L286.0,228.8L285.5,227.4L285.0,226.0L284.4,224.6L283.9,223.2L283.4,221.8L282.9,220.4L282.3,219.0L281.8,217.6L281.2,216.2L280.7,214.9L280.1,213.5L279.6,212.1L279.0,210.7L278.5,209.3L277.9,208.0L277.3,206.6L276.7,205.2L276.1,203.9L275.5,202.5L274.9,201.2L274.2,199.8L273.6,198.5L272.9,197.1L272.3,195.8L271.6,194.5L270.9,193.2L270.1,191.9L269.4,190.6L268.6,189.4L267.8,188.1L267.0,186.9L266.2,185.7L265.3,184.5L264.4,183.3L263.4,182.2L262.4,181.2L261.3,180.2L260.1,179.5L258.8,178.9L257.4,178.5L256.0,178.4L254.5,178.4L253.0,178.5L251.6,178.7L250.2,179.1L248.8,179.5L247.5,180.1L246.2,180.8L244.9,181.5L243.7,182.4L242.5,183.2L241.4,184.2L240.2,185.1L239.1,186.1L237.9,187.0L236.8,188.0L235.7,189.0L234.7,190.0L233.6,191.0L232.5,192.1L231.5,193.2L230.5,194.2L229.5,195.3L228.4,196.4L227.4,197.5L226.4,198.6L225.4,199.7L224.5,200.8L223.5,201.9L222.5,203.1L221.5,204.2L220.5,205.3L219.5,206.4L218.6,207.5L217.6,208.7L216.6,209.8L215.6,210.9L214.6,212.0L213.6,213.1L212.6,214.2L211.6,215.3L210.6,216.4L209.6,217.5L208.5,218.6L207.5,219.7L206.4,220.7L205.4,221.8L204.3,222.8L203.3,223.9L202.2,224.9L201.1,225.9L200.0,227.0L198.9,228.0L197.8,229.0L196.7,230.0L195.6,231.0L194.5,232.0L193.4,232.9L192.2,233.9L191.1,234.9L189.9,235.8L188.8,236.8L187.6,237.7L186.4,238.6L185.3,239.6L184.1,240.5L182.9,241.4L181.7,242.2L180.5,243.1L179.2,244.0L178.0,244.8L176.8,245.6L175.5,246.4L174.2,247.2L173.0,248.0L171.7,248.8L170.4,249.6L169.1,250.3L167.8,251.0L166.4,251.7L165.1,252.4L163.8,253.0L162.4,253.7L161.1,254.3L159.7,254.9L158.3,255.5L156.9,256.0L155.6,256.6L154.2,257.2L152.8,257.7L151.4,258.2L150.0,258.8L148.6,259.3L147.2,259.8L145.8,260.3L144.4,260.8L142.9,261.2L141.5,261.7L140.1,262.1L138.6,262.5L137.2,262.9L135.8,263.3L134.3,263.7L132.9,264.1L131.4,264.5L130.0,264.8L128.5,265.2L127.1,265.5L125.6,265.8L124.2,266.1L122.7,266.4L121.2,266.7L119.8,267.0L118.3,267.2L116.8,267.5L115.4,267.7L113.9,268.0L112.4,268.2L110.9,268.4L109.5,268.7L108.0,268.9L106.5,269.1L105.0,269.3L103.5,269.5L102.1,269.6L100.6,269.8L99.1,270.0L97.6,270.2L96.1,270.3L94.6,270.5L93.2,270.6L91.7,270.8L90.2,270.9L88.7,271.0L87.2,271.1L85.7,271.3L84.3,271.4L82.8,271.5L81.3,271.6L79.8,271.7L78.3,271.8L76.8,271.9L75.3,272.0L73.8,272.1L72.3,272.2L70.9,272.3L69.4,272.3L67.9,272.4L66.4,272.5L64.9,272.5L63.4,272.6L61.9,272.7L60.4,272.7L58.9,272.8L57.5,272.8L56.0,272.9L54.5,273.0L53.0,273.0L51.5,273.1L50.0,273.1Z" fill="#000"/>
<path d="M50.0,272.7L51.5,272.7L53.0,272.7L54.5,272.6L56.0,272.6L57.4,272.5L58.9,272.4L60.4,272.4L61.9,272.3L63.4,272.3L64.9,272.2L66.4,272.1L67.9,272.0L69.4,272.0L70.8,271.9L72.3,271.8L73.8,271.7L75.3,271.6L76.8,271.5L78.3,271.4L79.8,271.3L81.3,271.2L82.7,271.1L84.2,271.0L85.7,270.9L87.2,270.8L88.7,270.6L90.2,270.5L91.6,270.4L93.1,270.2L94.6,270.1L96.1,269.9L97.6,269.8L99.1,269.6L100.5,269.4L102.0,269.3L103.5,269.1L105.0,268.9L106.4,268.7L107.9,268.5L109.4,268.3L110.9,268.1L112.3,267.8L113.8,267.6L115.3,267.4L116.8,267.1L118.2,266.8L119.7,266.6L121.2,266.3L122.6,266.0L124.1,265.7L125.5,265.4L127.0,265.1L128.4,264.8L129.9,264.4L131.3,264.1L132.8,263.7L134.2,263.3L135.7,263.0L137.1,262.6L138.5,262.1L140.0,261.7L141.4,261.3L142.8,260.8L144.2,260.4L145.6,259.9L147.0,259.4L148.4,258.9L149.8,258.4L151.2,257.9L152.6,257.3L154.0,256.8L155.4,256.2L156.8,255.7L158.2,255.1L159.5,254.5L160.9,253.9L162.2,253.3L163.6,252.7L164.9,252.0L166.3,251.3L167.6,250.6L168.9,249.9L170.2,249.2L171.5,248.5L172.8,247.7L174.0,246.9L175.3,246.1L176.5,245.3L177.8,244.5L179.0,243.6L180.2,242.8L181.4,241.9L182.6,241.0L183.8,240.1L185.0,239.2L186.2,238.3L187.4,237.4L188.5,236.5L189.7,235.5L190.8,234.6L192.0,233.6L193.1,232.6L194.2,231.7L195.3,230.7L196.5,229.7L197.6,228.7L198.7,227.7L199.8,226.7L200.8,225.6L201.9,224.6L203.0,223.6L204.0,222.5L205.1,221.5L206.2,220.4L207.2,219.4L208.2,218.3L209.3,217.2L210.3,216.2L211.3,215.1L212.3,214.0L213.3,212.9L214.3,211.8L215.3,210.6L216.3,209.5L217.3,208.4L218.3,207.3L219.2,206.2L220.2,205.0L221.2,203.9L222.2,202.8L223.2,201.7L224.2,200.6L225.1,199.4L226.1,198.3L227.1,197.2L228.1,196.1L229.2,195.0L230.2,194.0L231.2,192.9L232.3,191.8L233.3,190.8L234.4,189.7L235.5,188.7L236.6,187.7L237.7,186.7L238.8,185.8L240.0,184.8L241.1,183.8L242.3,182.9L243.5,182.0L244.7,181.2L246.0,180.4L247.3,179.8L248.7,179.2L250.1,178.7L251.5,178.3L253.0,178.1L254.5,178.0L256.0,178.0L257.5,178.1L258.9,178.5L260.3,179.1L261.5,179.9L262.6,180.9L263.7,181.9L264.7,183.1L265.6,184.2L266.5,185.4L267.3,186.7L268.2,187.9L268.9,189.2L269.7,190.4L270.5,191.7L271.2,193.0L271.9,194.3L272.6,195.6L273.3,197.0L274.0,198.3L274.6,199.6L275.2,201.0L275.9,202.3L276.5,203.7L277.1,205.1L277.7,206.4L278.2,207.8L278.8,209.2L279.4,210.6L280.0,211.9L280.5,213.3L281.1,214.7L281.6,216.1L282.2,217.5L282.7,218.9L283.2,220.3L283.8,221.6L284.3,223.0L284.8,224.4L285.3,225.8L285.9,227.2L286.4,228.6L286.9,230.0L287.4,231.4L288.0,232.8L288.5,234.2L289.0,235.6L289.5,237.0L290.1,238.4L290.6,239.8L291.1,241.2L291.7,242.6L292.2,243.9L292.8,245.3L293.3,246.7L293.9,248.1L294.5,249.5L295.0,250.8L295.6,252.2L296.2,253.6L296.9,254.9L297.5,256.3L298.1,257.6L298.8,258.9L299.5,260.3L300.2,261.6L301.0,262.8L301.8,264.1L302.6,265.4L303.4,266.6L304.4,267.7L305.3,268.9L306.4,269.9L307.5,270.9L308.7,271.8L310.0,272.5L311.4,273.0L312.8,273.4L314.3,273.6L315.8,273.7L317.3,273.7" fill="none" stroke="#4a6cf0" stroke-width="0.77" stroke-dasharray="1.1,1.7" opacity="0.7"/>
</g>
<g id="xuv">
<path d="M50.0,269.0L51.9,268.8L53.7,268.7L55.6,268.5L57.5,268.3L59.4,268.0L61.3,267.8L63.2,267.5L65.0,267.2L66.9,267.0L68.8,266.7L70.7,266.4L72.5,266.1L74.4,265.7L76.3,265.4L78.1,265.1L80.0,264.7L81.9,264.3L83.7,263.9L85.6,263.5L87.4,263.1L89.3,262.7L91.1,262.2L92.9,261.8L94.8,261.3L96.6,260.8L98.4,260.3L100.2,259.8L102.0,259.2L103.8,258.6L105.6,258.1L107.4,257.4L109.2,256.8L111.0,256.2L112.8,255.5L114.5,254.8L116.3,254.2L118.0,253.5L119.8,252.7L121.5,252.0L123.3,251.3L125.0,250.5L126.7,249.7L128.4,248.8L130.0,247.9L131.7,247.0L133.3,246.1L135.0,245.2L136.6,244.2L138.2,243.2L139.8,242.2L141.4,241.2L142.9,240.1L144.5,239.1L146.1,238.0L147.6,236.9L149.1,235.8L150.6,234.7L152.2,233.5L153.6,232.4L155.1,231.2L156.6,230.0L158.1,228.8L159.5,227.6L161.0,226.4L162.4,225.2L163.9,224.0L165.3,222.7L166.7,221.5L168.0,220.2L169.4,218.8L170.7,217.5L172.0,216.1L173.3,214.8L174.6,213.4L175.9,212.0L177.2,210.6L178.5,209.2L179.7,207.8L181.0,206.4L182.2,204.9L183.5,203.5L184.7,202.0L185.9,200.6L187.1,199.1L188.3,197.7L189.5,196.2L190.7,194.7L191.9,193.2L193.0,191.7L194.2,190.2L195.3,188.7L196.5,187.2L197.6,185.7L198.8,184.1L199.9,182.6L201.0,181.1L202.1,179.5L203.2,178.0L204.3,176.4L205.4,174.9L206.5,173.3L207.6,171.7L208.6,170.2L209.7,168.6L210.8,167.0L211.8,165.4L212.9,163.8L213.9,162.2L215.0,160.7L216.0,159.1L217.1,157.5L218.1,155.9L219.2,154.3L220.2,152.7L221.3,151.2L222.4,149.6L223.5,148.1L224.6,146.5L225.6,144.9L226.7,143.4L227.7,141.8L228.8,140.2L229.8,138.6L230.0,136.4L231.0,134.8L232.1,133.2L233.2,131.6L234.2,130.0L236.0,129.0L237.1,127.3L238.2,125.8L239.3,124.2L240.5,122.6L241.7,121.1L242.9,119.6L243.6,117.5L244.9,116.0L246.3,114.6L247.8,113.2L249.4,111.9L251.2,110.7L253.0,109.7L254.8,108.8L256.7,107.9L259.4,107.1L262.1,107.3L264.5,108.0L266.7,109.1L268.4,110.5L270.0,112.1L271.4,113.7L272.6,115.3L273.9,116.9L275.0,118.6L276.0,120.3L277.0,122.0L277.8,123.7L278.7,125.5L279.4,127.3L280.2,129.1L280.8,130.9L281.5,132.7L282.1,134.5L282.7,136.4L283.3,138.2L283.8,140.0L284.4,141.9L284.9,143.7L285.4,145.5L285.9,147.4L286.4,149.2L286.9,151.1L287.4,152.9L287.8,154.8L288.3,156.6L288.7,158.5L289.2,160.3L289.6,162.2L290.0,164.1L290.4,165.9L290.8,167.8L291.2,169.7L291.6,171.5L292.0,173.4L292.4,175.2L291.8,177.3L292.2,179.2L292.5,181.0L292.9,182.9L293.2,184.8L293.6,186.6L293.9,188.5L294.3,190.4L294.6,192.3L295.0,194.1L295.3,196.0L295.6,197.9L296.0,199.7L296.3,201.6L296.6,203.5L297.0,205.3L297.3,207.2L297.6,209.1L298.0,211.0L298.3,212.8L298.7,214.7L299.0,216.6L299.4,218.4L299.7,220.3L300.0,222.2L300.4,224.0L300.7,225.9L301.1,227.8L301.5,229.7L301.8,231.5L302.2,233.4L302.6,235.2L302.9,237.1L303.3,239.0L303.7,240.8L304.1,242.7L304.5,244.6L304.9,246.4L305.4,248.3L305.8,250.1L306.2,252.0L306.7,253.8L307.2,255.6L307.7,257.5L308.3,259.3L308.9,261.1L309.5,262.9L310.2,264.7L310.9,266.4L311.8,268.1L312.8,269.8L314.0,271.3L315.4,272.6L317.2,273.4L317.4,272.8L315.6,271.4L315.2,271.1L314.8,270.6L314.3,270.1L313.8,269.6L313.3,269.0L312.9,268.3L312.4,267.6L311.9,266.9L311.5,266.1L311.1,265.3L310.7,264.5L310.3,263.7L309.9,262.8L309.6,261.9L309.3,261.1L308.9,260.2L308.6,259.3L308.4,258.4L308.1,257.5L307.8,256.7L307.5,255.8L307.3,254.9L307.0,254.0L306.8,253.1L306.6,252.2L306.3,251.3L306.1,250.4L305.9,249.4L305.7,248.5L305.5,247.6L305.2,246.7L305.0,245.8L304.8,244.9L304.6,244.0L304.4,243.1L304.2,242.2L304.0,241.3L303.8,240.3L303.6,239.4L303.4,238.5L303.3,237.6L303.1,236.7L302.9,235.8L302.7,234.9L302.5,233.9L302.3,233.0L302.2,232.1L302.0,231.2L301.8,230.3L301.6,229.4L301.4,228.4L301.3,227.5L301.1,226.6L300.9,225.7L300.7,224.8L300.6,223.9L300.4,222.9L300.2,222.0L300.1,221.1L299.9,220.2L299.7,219.3L299.5,218.4L299.4,217.4L299.2,216.5L299.0,215.6L298.9,214.7L298.7,213.8L298.5,212.9L298.3,211.9L298.2,211.0L298.0,210.1L297.8,209.2L297.6,208.3L297.5,207.3L297.3,206.4L297.1,205.5L296.9,204.6L296.8,203.7L296.6,202.8L296.4,201.9L296.2,200.9L296.0,200.0L295.8,199.1L295.7,198.2L295.5,197.3L295.3,196.4L295.1,195.4L294.9,194.5L294.7,193.6L294.5,192.7L294.4,191.8L294.2,190.9L294.0,190.0L293.8,189.0L293.6,188.1L293.4,187.2L293.2,186.3L293.0,185.4L292.8,184.5L292.6,183.6L292.4,182.7L292.2,181.7L292.0,180.8L291.8,179.9L291.6,179.0L291.4,178.1L291.2,177.2L291.0,176.3L290.8,175.4L290.6,174.4L290.4,173.5L290.2,172.6L290.0,171.7L289.8,170.8L289.6,169.9L289.4,169.0L289.2,168.1L289.0,167.2L288.8,166.3L288.5,165.4L288.3,164.4L288.1,163.5L287.9,162.6L287.7,161.7L287.4,160.8L287.2,159.9L287.0,159.0L286.7,158.1L286.5,157.2L286.3,156.3L286.0,155.4L285.8,154.5L285.6,153.6L285.3,152.7L285.1,151.8L284.8,150.9L284.6,150.0L284.3,149.1L284.0,148.2L283.8,147.3L283.5,146.4L283.2,145.5L283.0,144.6L282.7,143.7L282.4,142.9L282.1,142.0L281.8,141.1L281.5,140.2L281.1,139.3L280.8,138.5L280.5,137.6L280.1,136.7L279.8,135.9L279.4,135.0L279.0,134.2L278.6,133.3L278.2,132.5L277.8,131.6L277.4,130.8L277.0,130.0L276.5,129.2L276.1,128.3L275.6,127.5L275.2,126.7L274.7,125.9L274.2,125.1L273.7,124.4L273.1,123.6L272.6,122.9L272.0,122.1L271.5,121.4L270.9,120.7L270.2,120.1L269.6,119.5L268.9,118.9L268.2,118.3L267.5,117.8L266.7,117.4L265.9,117.0L265.1,116.6L264.3,116.4L263.5,116.1L262.6,116.0L261.8,115.9L260.9,115.9L260.0,115.9L259.1,116.0L258.2,116.1L257.4,116.3L256.5,116.5L255.6,116.8L254.8,117.1L253.9,117.4L253.1,117.8L252.2,118.2L251.4,118.6L250.6,119.0L249.8,119.5L249.0,120.0L248.2,120.5L247.4,121.0L246.7,121.5L245.9,122.1L245.2,122.6L244.5,123.2L243.8,123.8L243.0,124.4L242.4,125.0L241.7,125.7L241.0,126.3L240.3,126.9L239.7,127.6L239.0,128.3L238.4,128.9L237.7,129.6L237.1,130.3L236.5,131.0L235.9,131.7L235.3,132.4L234.7,133.1L234.1,133.8L233.5,134.6L232.9,135.3L232.3,136.0L231.7,136.7L231.1,137.5L230.5,138.2L230.0,138.9L229.4,139.7L228.8,140.4L228.3,141.2L227.7,141.9L227.2,142.7L226.6,143.4L226.1,144.2L225.5,144.9L225.0,145.7L224.5,146.5L223.9,147.2L223.4,148.0L222.8,148.8L222.3,149.5L221.8,150.3L221.3,151.1L220.7,151.8L220.2,152.6L219.7,153.4L219.1,154.1L218.6,154.9L218.1,155.7L217.6,156.5L217.1,157.2L216.6,158.0L216.0,158.8L215.5,159.6L215.0,160.3L214.5,161.1L214.0,161.9L213.5,162.7L212.9,163.5L212.4,164.2L211.9,165.0L211.4,165.8L210.9,166.6L210.3,167.3L209.8,168.1L209.3,168.9L208.8,169.7L208.3,170.4L207.7,171.2L207.2,172.0L206.7,172.7L206.1,173.5L205.6,174.3L205.1,175.1L204.6,175.8L204.0,176.6L203.5,177.3L202.9,178.1L202.4,178.9L201.9,179.6L201.3,180.4L200.8,181.2L200.2,181.9L199.7,182.7L199.1,183.4L198.6,184.2L198.1,184.9L197.5,185.7L197.0,186.4L196.4,187.2L195.9,188.0L195.3,188.7L194.7,189.5L194.2,190.2L193.6,191.0L193.1,191.7L192.5,192.4L191.9,193.2L191.4,193.9L190.8,194.7L190.2,195.4L189.7,196.2L189.1,196.9L188.5,197.6L188.0,198.4L187.4,199.1L186.8,199.8L186.2,200.6L185.6,201.3L185.1,202.0L184.5,202.7L183.9,203.5L183.3,204.2L182.7,204.9L182.1,205.6L181.5,206.3L180.9,207.1L180.3,207.8L179.7,208.5L179.1,209.2L178.5,209.9L177.9,210.6L177.2,211.3L176.6,212.0L176.0,212.7L175.4,213.4L174.7,214.1L174.1,214.8L173.5,215.4L172.8,216.1L172.2,216.8L171.6,217.5L170.9,218.2L170.3,218.8L169.6,219.5L168.9,220.1L168.3,220.8L167.6,221.4L166.9,222.1L166.3,222.7L165.6,223.4L164.9,224.0L164.2,224.6L163.5,225.2L162.8,225.9L162.1,226.5L161.4,227.1L160.7,227.7L159.9,228.3L159.2,228.9L158.5,229.5L157.8,230.1L157.1,230.6L156.3,231.2L155.6,231.8L154.9,232.4L154.1,233.0L153.4,233.5L152.7,234.1L151.9,234.7L151.2,235.2L150.4,235.8L149.7,236.3L148.9,236.9L148.2,237.4L147.4,238.0L146.6,238.5L145.9,239.0L145.1,239.6L144.3,240.1L143.6,240.6L142.8,241.1L142.0,241.7L141.2,242.2L140.4,242.7L139.7,243.2L138.9,243.7L138.1,244.2L137.3,244.6L136.5,245.1L135.7,245.6L134.9,246.1L134.1,246.5L133.2,247.0L132.4,247.5L131.6,247.9L130.8,248.3L130.0,248.8L129.1,249.2L128.3,249.6L127.5,250.0L126.6,250.5L125.8,250.9L125.0,251.3L124.1,251.7L123.3,252.0L122.4,252.4L121.5,252.8L120.7,253.2L119.8,253.5L119.0,253.9L118.1,254.2L117.2,254.6L116.4,254.9L115.5,255.3L114.6,255.6L113.8,255.9L112.9,256.2L112.0,256.6L111.1,256.9L110.2,257.2L109.4,257.5L108.5,257.8L107.6,258.1L106.7,258.4L105.8,258.7L104.9,259.0L104.0,259.2L103.2,259.5L102.3,259.8L101.4,260.0L100.5,260.3L99.6,260.6L98.7,260.8L97.8,261.1L96.9,261.3L96.0,261.5L95.1,261.8L94.2,262.0L93.3,262.2L92.4,262.5L91.4,262.7L90.5,262.9L89.6,263.1L88.7,263.3L87.8,263.5L86.9,263.7L86.0,263.9L85.1,264.1L84.2,264.3L83.2,264.5L82.3,264.6L81.4,264.8L80.5,265.0L79.6,265.1L78.6,265.3L77.7,265.5L76.8,265.6L75.9,265.8L75.0,265.9L74.0,266.1L73.1,266.2L72.2,266.4L71.3,266.5L70.4,266.6L69.4,266.8L68.5,266.9L67.6,267.0L66.7,267.1L65.7,267.3L64.8,267.4L63.9,267.5L63.0,267.6L62.0,267.7L61.1,267.8L60.2,267.9L59.3,268.0L58.4,268.2L57.5,268.2L56.6,268.3L55.8,268.4L55.0,268.5L54.2,268.6L53.5,268.7L52.9,268.7L52.3,268.8L50.0,269.0Z" fill="#00ff00"/>
<path d="M49.9,268.6L51.8,268.4L53.7,268.2L55.6,268.0L57.5,267.8L59.4,267.6L61.2,267.3L63.1,267.1L65.0,266.8L66.9,266.5L68.7,266.2L70.6,265.9L72.5,265.6L74.3,265.3L76.2,265.0L78.1,264.6L79.9,264.3L81.8,263.9L83.6,263.5L85.5,263.1L87.3,262.7L89.2,262.3L91.0,261.8L92.8,261.4L94.7,260.9L96.5,260.4L98.3,259.9L100.1,259.3L101.9,258.8L103.7,258.2L105.5,257.6L107.3,257.0L109.1,256.4L110.8,255.8L112.6,255.1L114.4,254.4L116.1,253.7L117.9,253.0L119.6,252.3L121.4,251.6L123.1,250.8L124.8,250.1L126.5,249.3L128.2,248.4L129.8,247.6L131.5,246.7L133.1,245.7L134.7,244.8L136.3,243.8L137.9,242.8L139.5,241.8L141.1,240.8L142.7,239.8L144.3,238.7L145.8,237.6L147.3,236.6L148.9,235.4L150.4,234.3L151.9,233.2L153.4,232.0L154.8,230.9L156.3,229.7L157.8,228.5L159.3,227.3L160.7,226.1L162.1,224.9L163.6,223.6L165.0,222.4L166.4,221.1L167.7,219.8L169.1,218.5L170.4,217.2L171.7,215.8L173.0,214.5L174.3,213.1L175.6,211.7L176.9,210.3L178.1,208.9L179.4,207.5L180.6,206.1L181.9,204.6L183.1,203.2L184.3,201.8L185.5,200.3L186.8,198.8L188.0,197.4L189.1,195.9L190.3,194.4L191.5,192.9L192.7,191.4L193.8,189.9L195.0,188.4L196.1,186.9L197.3,185.4L198.4,183.9L199.5,182.3L200.7,180.8L201.8,179.3L202.9,177.7L204.0,176.2L205.1,174.6L206.1,173.1L207.2,171.5L208.3,169.9L209.3,168.3L210.4,166.7L211.4,165.2L212.5,163.6L213.5,162.0L214.6,160.4L215.6,158.8L216.7,157.2L217.7,155.7L218.8,154.1L219.8,152.5L220.9,150.9L222.0,149.3L223.1,147.8L224.2,146.3L225.3,144.7L226.3,143.1L227.4,141.5L228.4,139.9L229.4,138.3L230.4,136.7L231.5,135.1L232.5,133.5L233.6,131.9L234.6,130.3L235.7,128.7L236.7,127.1L237.8,125.5L239.0,123.9L240.1,122.3L241.3,120.8L242.6,119.3L243.6,117.5L245.0,116.1L246.4,114.7L247.9,113.4L249.6,112.1L251.4,111.0L253.2,109.9L254.9,109.1L256.8,108.1L259.4,107.4L262.1,107.6L264.4,108.3L266.5,109.4L268.3,110.8L269.8,112.3L271.1,113.9L272.4,115.5L273.6,117.1L274.7,118.7L275.8,120.4L276.7,122.1L277.6,123.9L278.4,125.6L279.2,127.4L279.9,129.2L280.6,131.0L281.3,132.8L281.9,134.6L282.5,136.4L283.1,138.3L283.6,140.1L284.2,141.9L284.8,143.8L285.3,145.6L285.8,147.4L286.3,149.3L286.8,151.1L287.3,153.0L287.7,154.8L288.2,156.7L288.6,158.5L289.1,160.4L289.5,162.2L289.9,164.1L290.3,165.9L290.8,167.8L291.2,169.7L291.5,171.5L291.9,173.4L292.3,175.3L292.2,177.2L292.6,179.1L293.0,181.0L293.3,182.8L293.7,184.7L294.0,186.6L294.4,188.4L294.7,190.3L295.1,192.2L295.4,194.0L295.8,195.9L296.1,197.8L296.4,199.7L296.8,201.5L297.1,203.4L297.4,205.3L297.8,207.1L298.1,209.0L298.4,210.9L298.8,212.8L299.1,214.6L299.4,216.5L299.8,218.4L300.1,220.2L300.5,222.1L300.8,224.0L301.2,225.8L301.5,227.7L301.9,229.6L302.3,231.4L302.6,233.3L303.0,235.2L303.4,237.0L303.8,238.9L304.1,240.7L304.5,242.6L304.9,244.5L305.4,246.3L305.8,248.2L306.2,250.0L306.7,251.8L307.2,253.7L307.6,255.5L308.2,257.3L308.7,259.2L309.3,261.0L309.9,262.7L310.6,264.5L311.3,266.2L312.2,267.9L313.1,269.5L314.3,271.0L315.7,272.2L317.3,273.0L317.3,273.2L315.4,271.9L315.0,271.5L314.6,271.1L314.1,270.6L313.6,270.0L313.1,269.4L312.6,268.8L312.1,268.1L311.7,267.3L311.2,266.6L310.8,265.8L310.4,265.0L310.0,264.1L309.6,263.3L309.3,262.4L309.0,261.6L308.6,260.7L308.3,259.8L308.0,258.9L307.8,258.1L307.5,257.2L307.2,256.3L307.0,255.4L306.7,254.5L306.5,253.6L306.2,252.7L306.0,251.8L305.8,250.9L305.6,250.0L305.3,249.1L305.1,248.2L304.9,247.2L304.7,246.3L304.5,245.4L304.3,244.5L304.1,243.6L303.9,242.7L303.7,241.8L303.5,240.9L303.3,240.0L303.1,239.0L302.9,238.1L302.7,237.2L302.5,236.3L302.4,235.4L302.2,234.5L302.0,233.6L301.8,232.6L301.6,231.7L301.4,230.8L301.3,229.9L301.1,229.0L300.9,228.1L300.7,227.1L300.6,226.2L300.4,225.3L300.2,224.4L300.0,223.5L299.9,222.6L299.7,221.6L299.5,220.7L299.4,219.8L299.2,218.9L299.0,218.0L298.8,217.1L298.7,216.1L298.5,215.2L298.3,214.3L298.2,213.4L298.0,212.5L297.8,211.6L297.6,210.6L297.5,209.7L297.3,208.8L297.1,207.9L296.9,207.0L296.8,206.1L296.6,205.1L296.4,204.2L296.2,203.3L296.0,202.4L295.9,201.5L295.7,200.6L295.5,199.7L295.3,198.7L295.1,197.8L294.9,196.9L294.8,196.0L294.6,195.1L294.4,194.2L294.2,193.3L294.0,192.3L293.8,191.4L293.6,190.5L293.4,189.6L293.2,188.7L293.1,187.8L292.9,186.9L292.7,185.9L292.5,185.0L292.3,184.1L292.1,183.2L291.9,182.3L291.7,181.4L291.5,180.5L291.3,179.6L291.1,178.6L290.9,177.7L290.7,176.8L290.5,175.9L290.3,175.0L290.1,174.1L289.9,173.2L289.7,172.3L289.5,171.4L289.3,170.5L289.1,169.5L288.9,168.6L288.6,167.7L288.4,166.8L288.2,165.9L288.0,165.0L287.8,164.1L287.6,163.2L287.3,162.3L287.1,161.4L286.9,160.5L286.7,159.6L286.4,158.7L286.2,157.8L286.0,156.9L285.7,156.0L285.5,155.1L285.2,154.2L285.0,153.3L284.8,152.4L284.5,151.5L284.3,150.6L284.0,149.7L283.7,148.8L283.5,147.9L283.2,147.0L282.9,146.1L282.7,145.2L282.4,144.3L282.1,143.4L281.8,142.5L281.5,141.7L281.2,140.8L280.9,139.9L280.5,139.0L280.2,138.2L279.9,137.3L279.5,136.4L279.1,135.6L278.8,134.7L278.4,133.9L278.0,133.0L277.6,132.2L277.2,131.3L276.8,130.5L276.3,129.7L275.9,128.9L275.4,128.1L275.0,127.3L274.5,126.5L274.0,125.7L273.5,124.9L273.0,124.1L272.4,123.4L271.9,122.6L271.3,121.9L270.7,121.2L270.1,120.6L269.4,119.9L268.7,119.4L268.1,118.8L267.3,118.3L266.6,117.8L265.8,117.4L265.0,117.1L264.2,116.8L263.4,116.6L262.5,116.4L261.7,116.4L260.8,116.3L259.9,116.4L259.0,116.5L258.2,116.6L257.3,116.8L256.4,117.0L255.6,117.3L254.7,117.6L253.9,118.0L253.0,118.3L252.2,118.7L251.4,119.1L250.5,119.6L249.7,120.0L249.0,120.5L248.2,121.0L247.4,121.6L246.7,122.1L245.9,122.6L245.2,123.2L244.5,123.8L243.7,124.4L243.0,125.0L242.4,125.6L241.7,126.3L241.0,126.9L240.3,127.6L239.7,128.2L239.0,128.9L238.4,129.6L237.8,130.3L237.1,130.9L236.5,131.6L235.9,132.3L235.3,133.1L234.7,133.8L234.1,134.5L233.5,135.2L232.9,135.9L232.3,136.6L231.8,137.4L231.2,138.1L230.6,138.8L230.0,139.6L229.5,140.3L228.9,141.1L228.4,141.8L227.8,142.6L227.3,143.3L226.7,144.1L226.2,144.8L225.6,145.6L225.1,146.4L224.5,147.1L224.0,147.9L223.5,148.6L222.9,149.4L222.4,150.2L221.9,150.9L221.3,151.7L220.8,152.5L220.3,153.3L219.8,154.0L219.2,154.8L218.7,155.6L218.2,156.3L217.7,157.1L217.2,157.9L216.7,158.7L216.1,159.5L215.6,160.2L215.1,161.0L214.6,161.8L214.1,162.6L213.6,163.3L213.0,164.1L212.5,164.9L212.0,165.7L211.5,166.4L211.0,167.2L210.4,168.0L209.9,168.8L209.4,169.5L208.9,170.3L208.4,171.1L207.8,171.9L207.3,172.6L206.8,173.4L206.2,174.2L205.7,174.9L205.2,175.7L204.7,176.5L204.1,177.2L203.6,178.0L203.0,178.8L202.5,179.5L202.0,180.3L201.4,181.0L200.9,181.8L200.3,182.6L199.8,183.3L199.2,184.1L198.7,184.8L198.1,185.6L197.6,186.3L197.0,187.1L196.5,187.8L195.9,188.6L195.4,189.3L194.8,190.1L194.3,190.8L193.7,191.6L193.2,192.3L192.6,193.1L192.0,193.8L191.5,194.6L190.9,195.3L190.3,196.0L189.8,196.8L189.2,197.5L188.6,198.3L188.0,199.0L187.5,199.7L186.9,200.5L186.3,201.2L185.7,201.9L185.1,202.6L184.6,203.4L184.0,204.1L183.4,204.8L182.8,205.5L182.2,206.2L181.6,207.0L181.0,207.7L180.4,208.4L179.8,209.1L179.2,209.8L178.5,210.5L177.9,211.2L177.3,211.9L176.7,212.6L176.1,213.3L175.4,214.0L174.8,214.7L174.2,215.4L173.5,216.0L172.9,216.7L172.3,217.4L171.6,218.1L171.0,218.7L170.3,219.4L169.7,220.1L169.0,220.7L168.3,221.4L167.7,222.0L167.0,222.7L166.3,223.3L165.6,223.9L164.9,224.6L164.2,225.2L163.5,225.8L162.8,226.4L162.1,227.0L161.4,227.6L160.7,228.2L160.0,228.8L159.3,229.4L158.5,230.0L157.8,230.6L157.1,231.2L156.4,231.8L155.6,232.4L154.9,232.9L154.2,233.5L153.4,234.1L152.7,234.6L151.9,235.2L151.2,235.8L150.5,236.3L149.7,236.9L148.9,237.4L148.2,238.0L147.4,238.5L146.7,239.0L145.9,239.6L145.1,240.1L144.4,240.6L143.6,241.1L142.8,241.7L142.0,242.2L141.2,242.7L140.5,243.2L139.7,243.7L138.9,244.2L138.1,244.7L137.3,245.2L136.5,245.6L135.7,246.1L134.9,246.6L134.1,247.0L133.3,247.5L132.5,248.0L131.6,248.4L130.8,248.8L130.0,249.3L129.2,249.7L128.3,250.1L127.5,250.5L126.7,251.0L125.8,251.4L125.0,251.7L124.1,252.1L123.3,252.5L122.4,252.9L121.6,253.3L120.7,253.6L119.8,254.0L119.0,254.4L118.1,254.7L117.3,255.1L116.4,255.4L115.5,255.7L114.6,256.1L113.8,256.4L112.9,256.7L112.0,257.0L111.1,257.3L110.3,257.7L109.4,258.0L108.5,258.3L107.6,258.6L106.7,258.9L105.8,259.1L105.0,259.4L104.1,259.7L103.2,260.0L102.3,260.2L101.4,260.5L100.5,260.8L99.6,261.0L98.7,261.3L97.8,261.5L96.9,261.8L96.0,262.0L95.1,262.2L94.2,262.5L93.3,262.7L92.4,262.9L91.5,263.1L90.6,263.3L89.7,263.6L88.7,263.8L87.8,264.0L86.9,264.2L86.0,264.4L85.1,264.5L84.2,264.7L83.3,264.9L82.3,265.1L81.4,265.3L80.5,265.4L79.6,265.6L78.7,265.8L77.8,265.9L76.8,266.1L75.9,266.2L75.0,266.4L74.1,266.5L73.2,266.7L72.2,266.8L71.3,266.9L70.4,267.1L69.5,267.2L68.5,267.3L67.6,267.5L66.7,267.6L65.8,267.7L64.8,267.8L63.9,268.0L63.0,268.1L62.1,268.2L61.1,268.3L60.2,268.4L59.3,268.5L58.4,268.6L57.5,268.7L56.7,268.8L55.8,268.9L55.0,269.0L54.3,269.0L53.6,269.1L52.9,269.2L52.4,269.2L50.0,269.5Z" fill="#ffff33"/>
<path d="M49.9,268.1L51.8,268.0L53.7,267.8L55.5,267.6L57.4,267.4L59.3,267.1L61.2,266.9L63.1,266.6L64.9,266.4L66.8,266.1L68.7,265.8L70.5,265.5L72.4,265.2L74.3,264.9L76.1,264.5L78.0,264.2L79.8,263.8L81.7,263.4L83.5,263.1L85.4,262.7L87.2,262.2L89.1,261.8L90.9,261.4L92.7,260.9L94.6,260.4L96.4,259.9L98.2,259.4L100.0,258.9L101.8,258.4L103.6,257.8L105.4,257.2L107.1,256.6L108.9,256.0L110.7,255.3L112.5,254.7L114.2,254.0L116.0,253.3L117.7,252.6L119.5,251.9L121.2,251.2L122.9,250.4L124.6,249.7L126.3,248.9L127.9,248.0L129.6,247.2L131.2,246.3L132.9,245.3L134.5,244.4L136.1,243.4L137.7,242.5L139.3,241.5L140.9,240.4L142.4,239.4L144.0,238.3L145.5,237.3L147.1,236.2L148.6,235.1L150.1,234.0L151.6,232.8L153.1,231.7L154.6,230.5L156.0,229.3L157.5,228.1L159.0,226.9L160.4,225.7L161.9,224.5L163.3,223.3L164.7,222.1L166.0,220.8L167.4,219.5L168.7,218.2L170.1,216.9L171.4,215.5L172.7,214.2L174.0,212.8L175.2,211.4L176.5,210.0L177.8,208.6L179.0,207.2L180.3,205.8L181.5,204.4L182.8,202.9L184.0,201.5L185.2,200.0L186.4,198.6L187.6,197.1L188.8,195.6L190.0,194.1L191.2,192.7L192.3,191.2L193.5,189.7L194.6,188.2L195.8,186.6L196.9,185.1L198.0,183.6L199.2,182.1L200.3,180.6L201.4,179.0L202.5,177.5L203.6,175.9L204.7,174.4L205.8,172.8L206.8,171.2L207.9,169.7L208.9,168.1L210.0,166.5L211.1,164.9L212.1,163.3L213.2,161.7L214.2,160.2L215.3,158.6L216.3,157.0L217.4,155.4L218.4,153.8L219.5,152.2L220.5,150.6L221.6,149.1L222.7,147.5L223.8,146.0L224.9,144.4L226.0,142.9L227.0,141.3L228.0,139.7L229.0,138.1L230.1,136.4L231.1,134.8L232.2,133.2L233.2,131.6L234.3,130.0L235.3,128.4L236.4,126.8L237.5,125.2L238.6,123.6L239.8,122.0L241.0,120.5L242.3,119.0L243.6,117.6L245.0,116.2L246.5,114.8L248.0,113.5L249.7,112.3L251.5,111.1L253.3,110.1L255.0,109.3L256.9,108.3L259.4,107.6L262.1,107.8L264.4,108.5L266.4,109.6L268.2,111.0L269.6,112.5L271.0,114.1L272.3,115.6L273.5,117.2L274.6,118.8L275.6,120.5L276.6,122.2L277.5,123.9L278.3,125.7L279.1,127.4L279.8,129.2L280.5,131.0L281.1,132.9L281.7,134.7L282.3,136.5L282.9,138.3L283.5,140.1L284.1,142.0L284.6,143.8L285.2,145.6L285.7,147.5L286.2,149.3L286.7,151.1L287.2,153.0L287.6,154.8L288.1,156.7L288.5,158.5L289.0,160.4L289.4,162.2L289.8,164.1L290.3,166.0L290.7,167.8L291.1,169.7L291.5,171.5L291.9,173.4L292.3,175.3L292.7,177.1L293.0,179.0L293.4,180.9L293.8,182.7L294.1,184.6L294.5,186.5L294.8,188.3L295.2,190.2L295.5,192.1L295.9,194.0L296.2,195.8L296.5,197.7L296.9,199.6L297.2,201.4L297.5,203.3L297.9,205.2L298.2,207.1L298.5,208.9L298.9,210.8L299.2,212.7L299.5,214.5L299.9,216.4L300.2,218.3L300.6,220.1L300.9,222.0L301.3,223.9L301.6,225.7L302.0,227.6L302.3,229.5L302.7,231.3L303.1,233.2L303.4,235.1L303.8,236.9L304.2,238.8L304.6,240.7L305.0,242.5L305.4,244.4L305.8,246.2L306.2,248.1L306.7,249.9L307.1,251.7L307.6,253.6L308.1,255.4L308.6,257.2L309.1,259.0L309.7,260.8L310.3,262.6L311.0,264.3L311.7,266.0L312.6,267.7L313.5,269.3L314.6,270.7L315.9,271.8L317.5,272.6L317.1,273.6L315.2,272.3L314.8,271.9L314.4,271.5L313.9,271.0L313.4,270.5L312.9,269.9L312.4,269.2L311.9,268.5L311.4,267.8L311.0,267.1L310.5,266.3L310.1,265.5L309.7,264.6L309.4,263.8L309.0,262.9L308.7,262.1L308.3,261.2L308.0,260.3L307.7,259.5L307.5,258.6L307.2,257.7L306.9,256.8L306.6,255.9L306.4,255.0L306.1,254.1L305.9,253.2L305.7,252.3L305.4,251.4L305.2,250.5L305.0,249.6L304.8,248.7L304.6,247.8L304.3,246.9L304.1,245.9L303.9,245.0L303.7,244.1L303.5,243.2L303.3,242.3L303.1,241.4L302.9,240.5L302.8,239.6L302.6,238.7L302.4,237.7L302.2,236.8L302.0,235.9L301.8,235.0L301.6,234.1L301.4,233.2L301.3,232.3L301.1,231.3L300.9,230.4L300.7,229.5L300.6,228.6L300.4,227.7L300.2,226.8L300.0,225.8L299.9,224.9L299.7,224.0L299.5,223.1L299.3,222.2L299.2,221.3L299.0,220.4L298.8,219.4L298.7,218.5L298.5,217.6L298.3,216.7L298.1,215.8L298.0,214.8L297.8,213.9L297.6,213.0L297.5,212.1L297.3,211.2L297.1,210.3L296.9,209.4L296.8,208.4L296.6,207.5L296.4,206.6L296.2,205.7L296.0,204.8L295.9,203.9L295.7,202.9L295.5,202.0L295.3,201.1L295.1,200.2L295.0,199.3L294.8,198.4L294.6,197.5L294.4,196.5L294.2,195.6L294.0,194.7L293.8,193.8L293.7,192.9L293.5,192.0L293.3,191.1L293.1,190.1L292.9,189.2L292.7,188.3L292.5,187.4L292.3,186.5L292.1,185.6L291.9,184.7L291.7,183.8L291.5,182.8L291.4,181.9L291.2,181.0L291.0,180.1L290.8,179.2L290.6,178.3L290.4,177.4L290.2,176.5L290.0,175.6L289.8,174.6L289.6,173.7L289.4,172.8L289.1,171.9L288.9,171.0L288.7,170.1L288.5,169.2L288.3,168.3L288.1,167.4L287.9,166.5L287.7,165.6L287.4,164.7L287.2,163.7L287.0,162.8L286.8,161.9L286.6,161.0L286.3,160.1L286.1,159.2L285.9,158.3L285.6,157.4L285.4,156.5L285.2,155.6L284.9,154.7L284.7,153.8L284.4,152.9L284.2,152.0L283.9,151.1L283.7,150.2L283.4,149.3L283.2,148.4L282.9,147.5L282.6,146.6L282.4,145.7L282.1,144.9L281.8,144.0L281.5,143.1L281.2,142.2L280.9,141.3L280.6,140.4L280.3,139.6L279.9,138.7L279.6,137.8L279.2,137.0L278.9,136.1L278.5,135.3L278.1,134.4L277.7,133.6L277.3,132.7L276.9,131.9L276.5,131.1L276.1,130.2L275.7,129.4L275.2,128.6L274.7,127.8L274.3,127.0L273.8,126.2L273.3,125.4L272.8,124.6L272.2,123.9L271.7,123.2L271.1,122.4L270.5,121.7L269.9,121.1L269.3,120.4L268.6,119.8L267.9,119.3L267.2,118.8L266.5,118.3L265.7,117.9L264.9,117.5L264.1,117.3L263.3,117.0L262.4,116.9L261.6,116.8L260.7,116.8L259.8,116.8L259.0,116.9L258.1,117.1L257.2,117.3L256.4,117.5L255.5,117.8L254.6,118.1L253.8,118.5L253.0,118.8L252.1,119.2L251.3,119.7L250.5,120.1L249.7,120.6L248.9,121.1L248.2,121.6L247.4,122.1L246.6,122.7L245.9,123.2L245.2,123.8L244.5,124.4L243.7,125.0L243.1,125.6L242.4,126.2L241.7,126.9L241.0,127.5L240.4,128.2L239.7,128.8L239.1,129.5L238.4,130.2L237.8,130.9L237.2,131.6L236.6,132.3L236.0,133.0L235.4,133.7L234.8,134.4L234.2,135.1L233.6,135.8L233.0,136.6L232.4,137.3L231.8,138.0L231.2,138.8L230.7,139.5L230.1,140.2L229.5,141.0L229.0,141.7L228.4,142.5L227.9,143.2L227.3,144.0L226.8,144.7L226.2,145.5L225.7,146.3L225.2,147.0L224.6,147.8L224.1,148.5L223.6,149.3L223.0,150.1L222.5,150.8L222.0,151.6L221.4,152.4L220.9,153.1L220.4,153.9L219.9,154.7L219.3,155.5L218.8,156.2L218.3,157.0L217.8,157.8L217.3,158.6L216.8,159.3L216.2,160.1L215.7,160.9L215.2,161.7L214.7,162.4L214.2,163.2L213.7,164.0L213.1,164.8L212.6,165.5L212.1,166.3L211.6,167.1L211.1,167.9L210.5,168.6L210.0,169.4L209.5,170.2L209.0,171.0L208.5,171.7L207.9,172.5L207.4,173.3L206.9,174.0L206.3,174.8L205.8,175.6L205.3,176.3L204.7,177.1L204.2,177.9L203.7,178.6L203.1,179.4L202.6,180.2L202.1,180.9L201.5,181.7L201.0,182.4L200.4,183.2L199.9,183.9L199.3,184.7L198.8,185.5L198.2,186.2L197.7,187.0L197.1,187.7L196.6,188.5L196.0,189.2L195.5,190.0L194.9,190.7L194.4,191.5L193.8,192.2L193.2,193.0L192.7,193.7L192.1,194.4L191.6,195.2L191.0,195.9L190.4,196.7L189.9,197.4L189.3,198.1L188.7,198.9L188.1,199.6L187.6,200.3L187.0,201.1L186.4,201.8L185.8,202.5L185.2,203.3L184.6,204.0L184.0,204.7L183.4,205.4L182.9,206.1L182.3,206.8L181.7,207.6L181.1,208.3L180.4,209.0L179.8,209.7L179.2,210.4L178.6,211.1L178.0,211.8L177.4,212.5L176.8,213.2L176.1,213.9L175.5,214.6L174.9,215.3L174.2,215.9L173.6,216.6L173.0,217.3L172.3,218.0L171.7,218.7L171.0,219.3L170.4,220.0L169.7,220.6L169.0,221.3L168.4,221.9L167.7,222.6L167.0,223.2L166.4,223.9L165.7,224.5L165.0,225.1L164.3,225.7L163.6,226.4L162.9,227.0L162.2,227.6L161.5,228.2L160.7,228.8L160.0,229.4L159.3,230.0L158.6,230.6L157.9,231.2L157.1,231.7L156.4,232.3L155.7,232.9L154.9,233.5L154.2,234.0L153.5,234.6L152.7,235.2L152.0,235.7L151.2,236.3L150.5,236.8L149.7,237.4L149.0,237.9L148.2,238.5L147.5,239.0L146.7,239.6L145.9,240.1L145.2,240.6L144.4,241.1L143.6,241.7L142.8,242.2L142.1,242.7L141.3,243.2L140.5,243.7L139.7,244.2L138.9,244.7L138.1,245.2L137.3,245.7L136.5,246.1L135.7,246.6L134.9,247.1L134.1,247.5L133.3,248.0L132.5,248.5L131.7,248.9L130.8,249.3L130.0,249.8L129.2,250.2L128.3,250.6L127.5,251.0L126.7,251.4L125.8,251.8L125.0,252.2L124.1,252.6L123.3,253.0L122.4,253.4L121.6,253.8L120.7,254.1L119.9,254.5L119.0,254.8L118.1,255.2L117.3,255.5L116.4,255.9L115.5,256.2L114.7,256.5L113.8,256.9L112.9,257.2L112.0,257.5L111.2,257.8L110.3,258.1L109.4,258.4L108.5,258.7L107.6,259.0L106.8,259.3L105.9,259.6L105.0,259.9L104.1,260.2L103.2,260.4L102.3,260.7L101.4,261.0L100.5,261.2L99.6,261.5L98.7,261.7L97.8,262.0L96.9,262.2L96.0,262.5L95.1,262.7L94.2,262.9L93.3,263.2L92.4,263.4L91.5,263.6L90.6,263.8L89.7,264.0L88.8,264.2L87.9,264.4L86.9,264.6L86.0,264.8L85.1,265.0L84.2,265.2L83.3,265.4L82.4,265.5L81.5,265.7L80.5,265.9L79.6,266.0L78.7,266.2L77.8,266.4L76.9,266.5L76.0,266.7L75.0,266.8L74.1,267.0L73.2,267.1L72.3,267.3L71.3,267.4L70.4,267.5L69.5,267.7L68.6,267.8L67.7,267.9L66.7,268.0L65.8,268.2L64.9,268.3L64.0,268.4L63.0,268.5L62.1,268.6L61.2,268.7L60.3,268.8L59.4,268.9L58.5,269.0L57.6,269.1L56.7,269.2L55.9,269.3L55.1,269.4L54.3,269.5L53.6,269.6L53.0,269.6L52.4,269.7L50.0,269.9Z" fill="#ff3333"/>
<path d="M50.0,269.1L51.9,268.9L53.7,268.7L55.6,268.5L57.5,268.3L59.4,268.1L61.3,267.9L63.2,267.6L65.1,267.4L66.9,267.1L68.8,266.9L70.7,266.6L72.6,266.3L74.5,266.0L76.3,265.7L78.2,265.4L80.1,265.0L81.9,264.7L83.8,264.3L85.7,263.9L87.5,263.5L89.4,263.1L91.2,262.7L93.1,262.3L94.9,261.8L96.7,261.3L98.6,260.8L100.4,260.3L102.2,259.8L104.0,259.2L105.8,258.6L107.6,258.0L109.4,257.4L111.2,256.8L113.0,256.2L114.8,255.5L116.5,254.8L118.3,254.1L120.1,253.4L121.8,252.7L123.5,251.9L125.3,251.1L127.0,250.3L128.7,249.4L130.4,248.6L132.0,247.7L133.7,246.7L135.3,245.8L136.9,244.8L138.6,243.8L140.2,242.8L141.8,241.8L143.3,240.7L144.9,239.7L146.5,238.6L148.0,237.5L149.5,236.4L151.1,235.2L152.6,234.1L154.1,232.9L155.6,231.8L157.0,230.6L158.5,229.4L160.0,228.2L161.5,227.0L162.9,225.7L164.3,224.5L165.7,223.2L167.1,221.9L168.5,220.6L169.8,219.3L171.1,217.9L172.4,216.5L173.7,215.1L175.0,213.7L176.3,212.3L177.5,210.9L178.8,209.5L180.0,208.0L181.2,206.6L182.4,205.1L183.7,203.7L184.9,202.2L186.0,200.7L187.2,199.2L188.4,197.7L189.6,196.2L190.7,194.7L191.9,193.2L193.0,191.7L194.1,190.2L195.3,188.6L196.4,187.1L197.5,185.5L198.6,184.0L199.7,182.4L200.8,180.9L201.9,179.3L202.9,177.8L204.0,176.2L205.1,174.6L206.1,173.1L207.2,171.5L208.3,169.9L209.3,168.3L210.4,166.7L211.4,165.2L212.5,163.6L213.5,162.0L214.6,160.4L215.6,158.8L216.7,157.2L217.7,155.7L218.8,154.1L219.8,152.5L220.9,150.9L222.0,149.3L223.1,147.8L224.2,146.3L225.3,144.7L226.3,143.1L227.4,141.5L228.4,139.9L229.5,138.4L230.5,136.8L231.6,135.2L232.8,133.7L233.9,132.2L235.1,130.6L236.3,129.2L237.5,127.7L238.7,126.2L240.0,124.8L241.2,123.4L242.6,122.0L243.9,120.6L245.3,119.3L246.7,118.0L248.1,116.8L249.6,115.5L251.2,114.4L252.8,113.4L254.5,112.4L256.2,111.6L257.9,110.7L259.8,110.1L261.8,110.1L263.7,110.6L265.6,111.3L267.2,112.3L268.8,113.5L270.2,114.9L271.4,116.3L272.6,117.8L273.7,119.4L274.7,121.0L275.7,122.7L276.6,124.4L277.4,126.1L278.2,127.8L279.0,129.6L279.7,131.4L280.4,133.1L281.0,134.9L281.7,136.7L282.3,138.5L282.9,140.3L283.5,142.1L284.0,144.0L284.6,145.8L285.1,147.6L285.6,149.5L286.1,151.3L286.6,153.1L287.0,155.0L287.5,156.8L288.0,158.7L288.4,160.5L288.8,162.4L289.3,164.2L289.7,166.1L290.1,167.9L290.5,169.8L290.9,171.7L291.3,173.5L291.7,175.4L292.1,177.3L292.4,179.1L292.8,181.0L293.2,182.8L293.6,184.7L293.9,186.6L294.3,188.4L294.6,190.3L295.0,192.2L295.4,194.0L295.7,195.9L296.1,197.8L296.4,199.7L296.7,201.5L297.1,203.4L297.4,205.3L297.8,207.1L298.1,209.0L298.5,210.9L298.8,212.7L299.2,214.6L299.5,216.5L299.8,218.4L300.2,220.2L300.5,222.1L300.9,224.0L301.2,225.8L301.6,227.7L302.0,229.6L302.3,231.4L302.7,233.3L303.1,235.2L303.4,237.0L303.8,238.9L304.2,240.7L304.6,242.6L305.0,244.4L305.4,246.3L305.8,248.1L306.3,250.0L306.7,251.8L307.2,253.7L307.7,255.5L308.2,257.3L308.8,259.1L309.3,260.9L310.0,262.7L310.6,264.5L311.4,266.2L312.2,267.9L313.2,269.5L314.4,270.9L315.8,272.0L317.5,272.7L317.1,273.5L315.4,272.7L313.8,271.4L312.6,269.9L311.5,268.3L310.7,266.5L309.9,264.8L309.2,263.0L308.6,261.2L308.0,259.4L307.4,257.6L306.9,255.7L306.4,253.9L306.0,252.0L305.5,250.2L305.1,248.3L304.6,246.5L304.2,244.6L303.8,242.8L303.4,240.9L303.0,239.0L302.6,237.2L302.3,235.3L301.9,233.4L301.5,231.6L301.2,229.7L300.8,227.8L300.5,226.0L300.1,224.1L299.8,222.2L299.4,220.4L299.1,218.5L298.7,216.6L298.4,214.8L298.0,212.9L297.7,211.0L297.3,209.1L297.0,207.3L296.7,205.4L296.3,203.5L296.0,201.7L295.6,199.8L295.3,197.9L294.9,196.1L294.6,194.2L294.2,192.3L293.9,190.5L293.5,188.6L293.1,186.7L292.8,184.9L292.4,183.0L292.0,181.1L291.7,179.3L291.3,177.4L290.9,175.6L290.5,173.7L290.1,171.8L289.7,170.0L289.3,168.1L288.9,166.3L288.5,164.4L288.1,162.6L287.6,160.7L287.2,158.9L286.7,157.0L286.3,155.2L285.8,153.3L285.3,151.5L284.8,149.7L284.3,147.8L283.8,146.0L283.2,144.2L282.7,142.4L282.1,140.6L281.5,138.8L280.9,137.0L280.3,135.2L279.6,133.4L278.9,131.7L278.2,129.9L277.5,128.2L276.7,126.4L275.9,124.7L275.0,123.1L274.0,121.4L273.0,119.8L272.0,118.3L270.8,116.8L269.6,115.4L268.2,114.1L266.8,113.0L265.2,112.0L263.5,111.3L261.7,110.9L259.9,110.9L258.2,111.5L256.5,112.3L254.8,113.1L253.2,114.1L251.6,115.1L250.1,116.2L248.6,117.4L247.2,118.6L245.8,119.9L244.5,121.2L243.1,122.5L241.8,123.9L240.6,125.3L239.3,126.7L238.1,128.2L236.9,129.7L235.7,131.1L234.5,132.6L233.4,134.2L232.3,135.7L231.2,137.2L230.1,138.8L229.1,140.4L228.0,142.0L227.0,143.6L225.9,145.1L224.9,146.7L223.8,148.3L222.6,149.8L221.5,151.4L220.5,152.9L219.4,154.5L218.4,156.1L217.3,157.7L216.3,159.3L215.2,160.9L214.2,162.4L213.1,164.0L212.1,165.6L211.0,167.2L210.0,168.8L208.9,170.4L207.9,171.9L206.8,173.5L205.7,175.1L204.7,176.7L203.6,178.2L202.5,179.8L201.4,181.3L200.3,182.9L199.2,184.5L198.1,186.0L197.0,187.6L195.9,189.1L194.8,190.6L193.6,192.2L192.5,193.7L191.3,195.2L190.2,196.7L189.0,198.2L187.8,199.7L186.7,201.2L185.5,202.7L184.3,204.2L183.1,205.6L181.8,207.1L180.6,208.5L179.4,210.0L178.1,211.4L176.9,212.8L175.6,214.3L174.3,215.7L173.0,217.1L171.7,218.4L170.4,219.8L169.0,221.2L167.7,222.5L166.3,223.8L164.8,225.1L163.4,226.3L162.0,227.6L160.5,228.8L159.0,230.0L157.5,231.2L156.1,232.4L154.6,233.6L153.1,234.7L151.5,235.9L150.0,237.0L148.5,238.1L146.9,239.2L145.4,240.3L143.8,241.4L142.2,242.4L140.6,243.5L139.0,244.5L137.4,245.5L135.7,246.5L134.1,247.4L132.4,248.4L130.7,249.3L129.0,250.2L127.3,251.0L125.6,251.8L123.9,252.6L122.1,253.4L120.4,254.1L118.6,254.8L116.8,255.5L115.1,256.2L113.3,256.9L111.5,257.6L109.7,258.2L107.9,258.8L106.1,259.4L104.3,260.0L102.4,260.5L100.6,261.1L98.8,261.6L96.9,262.1L95.1,262.5L93.2,263.0L91.4,263.5L89.5,263.9L87.7,264.3L85.8,264.7L83.9,265.1L82.1,265.4L80.2,265.8L78.3,266.1L76.5,266.4L74.6,266.8L72.7,267.1L70.8,267.3L68.9,267.6L67.1,267.9L65.2,268.1L63.3,268.4L61.4,268.6L59.5,268.8L57.6,269.0L55.7,269.2L53.8,269.4L51.9,269.6L50.0,269.8Z" fill="#000"/>
<path d="M50.0,269.4L51.9,269.2L53.8,269.1L55.7,268.9L57.6,268.7L59.5,268.5L61.3,268.2L63.2,268.0L65.1,267.8L67.0,267.5L68.9,267.2L70.8,267.0L72.6,266.7L74.5,266.4L76.4,266.1L78.3,265.7L80.1,265.4L82.0,265.1L83.9,264.7L85.7,264.3L87.6,263.9L89.4,263.5L91.3,263.1L93.2,262.6L95.0,262.2L96.8,261.7L98.7,261.2L100.5,260.7L102.3,260.1L104.1,259.6L106.0,259.0L107.8,258.4L109.6,257.8L111.4,257.2L113.1,256.5L114.9,255.9L116.7,255.2L118.5,254.5L120.2,253.8L122.0,253.0L123.7,252.3L125.4,251.5L127.2,250.7L128.9,249.8L130.5,248.9L132.2,248.0L133.9,247.1L135.5,246.1L137.1,245.2L138.8,244.2L140.4,243.1L142.0,242.1L143.6,241.1L145.1,240.0L146.7,238.9L148.2,237.8L149.8,236.7L151.3,235.6L152.8,234.4L154.3,233.3L155.8,232.1L157.3,230.9L158.8,229.7L160.3,228.5L161.7,227.3L163.2,226.0L164.6,224.8L166.0,223.5L167.4,222.2L168.7,220.9L170.1,219.5L171.4,218.2L172.7,216.8L174.0,215.4L175.3,214.0L176.6,212.6L177.8,211.2L179.1,209.7L180.3,208.3L181.5,206.8L182.8,205.4L184.0,203.9L185.2,202.4L186.4,200.9L187.5,199.5L188.7,198.0L189.9,196.5L191.0,194.9L192.2,193.4L193.3,191.9L194.5,190.4L195.6,188.9L196.7,187.3L197.8,185.8L198.9,184.2L200.0,182.7L201.1,181.1L202.2,179.6L203.3,178.0L204.3,176.4L205.4,174.9L206.5,173.3L207.5,171.7L208.6,170.1L209.7,168.5L210.7,167.0L211.8,165.4L212.8,163.8L213.9,162.2L214.9,160.6L216.0,159.0L217.0,157.5L218.1,155.9L219.1,154.3L220.2,152.7L221.2,151.1L222.3,149.6L223.4,148.0L224.5,146.5L225.6,144.9L226.7,143.3L227.7,141.8L228.8,140.2L229.8,138.6L230.9,137.0L232.0,135.4L233.1,133.9L234.2,132.4L235.4,130.9L236.6,129.4L237.8,127.9L239.0,126.5L240.3,125.1L241.5,123.6L242.8,122.3L244.2,120.9L245.6,119.6L247.0,118.3L248.4,117.1L249.9,115.9L251.4,114.7L253.0,113.7L254.7,112.8L256.4,112.0L258.1,111.1L259.9,110.5L261.8,110.5L263.6,110.9L265.4,111.7L267.0,112.7L268.5,113.8L269.9,115.1L271.1,116.6L272.3,118.1L273.4,119.6L274.4,121.2L275.3,122.9L276.2,124.6L277.0,126.3L277.8,128.0L278.6,129.7L279.3,131.5L280.0,133.3L280.7,135.1L281.3,136.8L281.9,138.6L282.5,140.5L283.1,142.3L283.6,144.1L284.2,145.9L284.7,147.7L285.2,149.6L285.7,151.4L286.2,153.2L286.7,155.1L287.1,156.9L287.6,158.8L288.0,160.6L288.4,162.5L288.9,164.3L289.3,166.2L289.7,168.0L290.1,169.9L290.5,171.8L290.9,173.6L291.3,175.5L291.7,177.3L292.1,179.2L292.4,181.1L292.8,182.9L293.2,184.8L293.5,186.7L293.9,188.5L294.3,190.4L294.6,192.3L295.0,194.1L295.3,196.0L295.7,197.9L296.0,199.7L296.4,201.6L296.7,203.5L297.0,205.3L297.4,207.2L297.7,209.1L298.1,210.9L298.4,212.8L298.8,214.7L299.1,216.6L299.5,218.4L299.8,220.3L300.1,222.2L300.5,224.0L300.8,225.9L301.2,227.8L301.6,229.6L301.9,231.5L302.3,233.4L302.7,235.2L303.0,237.1L303.4,239.0L303.8,240.8L304.2,242.7L304.6,244.5L305.0,246.4L305.4,248.2L305.9,250.1L306.3,251.9L306.8,253.8L307.3,255.6L307.8,257.4L308.4,259.3L309.0,261.1L309.6,262.9L310.3,264.6L311.0,266.4L311.9,268.1L312.9,269.7L314.1,271.2L315.6,272.4L317.3,273.1" fill="none" stroke="#4a6cf0" stroke-width="0.78" stroke-dasharray="1.1,1.7" opacity="0.7"/>
</g>
<g id="xS">
<path d="M50.0,164.1L51.0,164.8L52.0,165.5L53.0,166.3L54.0,167.0L55.0,167.8L56.0,168.5L56.9,169.3L57.9,170.1L58.8,171.0L59.8,172.0L60.7,173.0L61.7,174.0L62.6,175.0L63.5,176.0L64.5,177.0L65.4,178.1L66.3,179.1L67.2,180.1L68.1,181.1L69.1,182.1L70.0,183.1L70.9,184.1L71.8,185.0L72.7,186.0L73.6,187.0L74.5,187.9L75.4,188.9L76.3,189.8L77.2,190.8L78.1,191.8L78.9,192.7L79.8,193.7L80.6,194.7L81.5,195.7L82.3,196.6L83.2,197.5L84.1,198.4L85.0,199.2L85.9,200.1L86.9,200.9L87.8,201.7L88.8,202.5L89.7,203.3L90.7,204.2L91.6,205.0L92.6,205.8L93.5,206.7L94.5,207.6L95.5,208.5L96.5,209.3L97.4,210.2L98.4,211.1L99.4,211.9L100.4,212.7L101.4,213.5L102.4,214.3L103.4,215.1L104.5,215.8L105.5,216.6L106.6,217.3L107.6,218.0L108.6,218.8L109.7,219.5L110.7,220.2L111.8,220.9L112.8,221.7L113.9,222.4L114.9,223.2L115.9,223.9L117.0,224.7L118.0,225.4L119.0,226.2L120.0,226.9L121.1,227.7L122.1,228.4L123.1,229.2L124.1,229.9L125.2,230.7L126.2,231.4L127.3,232.1L128.3,232.8L129.4,233.5L130.5,234.2L131.6,234.9L132.7,235.5L133.8,236.2L134.9,236.8L136.0,237.4L137.1,238.0L138.2,238.6L139.3,239.2L140.4,239.7L141.5,240.3L142.6,240.8L143.7,241.4L144.9,241.9L146.0,242.4L147.1,243.0L148.2,243.5L149.4,244.0L150.5,244.5L151.7,245.0L152.8,245.5L153.9,246.0L155.1,246.5L156.2,247.0L157.4,247.5L158.5,248.0L159.7,248.4L160.8,248.9L162.0,249.4L163.1,249.9L164.3,250.3L165.4,250.8L166.6,251.3L167.7,251.7L168.9,252.2L170.1,252.6L171.2,253.1L172.4,253.5L173.5,253.9L174.7,254.3L175.9,254.8L177.0,255.2L178.2,255.6L179.4,256.0L180.6,256.4L181.7,256.8L182.9,257.2L184.1,257.6L185.3,258.0L186.4,258.4L187.6,258.7L188.8,259.1L190.0,259.5L191.2,259.8L192.4,260.2L193.6,260.5L194.7,260.8L195.9,261.1L197.1,261.4L198.3,261.7L199.5,262.0L200.8,262.3L202.0,262.6L203.2,262.8L204.4,263.1L205.6,263.3L206.8,263.5L208.0,263.8L209.2,264.0L210.4,264.2L211.7,264.5L212.9,264.7L214.1,265.0L215.3,265.2L216.5,265.4L217.7,265.7L218.9,265.9L220.1,266.1L221.4,266.4L222.6,266.6L223.8,266.8L225.0,267.0L226.2,267.2L227.4,267.5L228.7,267.7L229.9,267.9L231.1,268.0L232.3,268.2L233.5,268.4L234.8,268.6L236.0,268.8L237.2,269.0L238.4,269.1L239.7,269.3L240.9,269.5L242.1,269.6L243.3,269.8L244.6,269.9L245.8,270.1L247.0,270.2L248.2,270.3L249.5,270.5L250.7,270.6L251.9,270.7L253.2,270.8L254.4,271.0L255.6,271.1L256.8,271.2L258.1,271.3L259.3,271.4L260.5,271.5L261.8,271.6L263.0,271.6L264.2,271.7L265.5,271.8L266.7,271.9L267.9,271.9L269.2,272.0L270.4,272.1L271.6,272.1L272.9,272.2L274.1,272.2L275.3,272.3L276.6,272.3L277.8,272.4L279.0,272.4L280.3,272.4L281.5,272.5L282.7,272.5L284.0,272.5L285.2,272.6L286.4,272.6L287.7,272.6L288.9,272.7L290.1,272.7L291.4,272.7L292.6,272.7L293.8,272.7L295.1,272.8L296.3,272.8L297.5,272.8L298.8,272.8L300.0,272.8L301.3,272.9L302.5,272.9L303.7,272.9L305.0,272.9L306.2,272.9L307.4,273.0L308.7,273.0L309.9,273.0L311.1,273.0L312.4,273.1L313.6,273.1L314.8,273.1L316.1,273.1L317.3,273.2L317.3,273.8L316.1,273.8L314.8,273.8L313.6,273.8L312.4,273.8L311.1,273.8L309.9,273.8L308.7,273.8L307.4,273.8L306.2,273.8L305.0,273.8L303.7,273.8L302.5,273.8L301.3,273.8L300.0,273.8L298.8,273.8L297.5,273.8L296.3,273.8L295.1,273.8L293.8,273.8L292.6,273.8L291.4,273.8L290.1,273.8L288.9,273.8L287.7,273.8L286.4,273.8L285.2,273.8L284.0,273.8L282.7,273.8L281.5,273.7L280.3,273.7L279.0,273.7L277.8,273.7L276.6,273.6L275.3,273.6L274.1,273.6L272.9,273.6L271.6,273.5L270.4,273.5L269.2,273.4L267.9,273.4L266.7,273.3L265.5,273.3L264.2,273.2L263.0,273.2L261.8,273.1L260.5,273.1L259.3,273.0L258.1,272.9L256.8,272.8L255.6,272.8L254.4,272.7L253.2,272.6L251.9,272.5L250.7,272.4L249.5,272.3L248.2,272.2L247.0,272.1L245.8,272.0L244.6,271.9L243.3,271.7L242.1,271.6L240.9,271.5L239.7,271.4L238.4,271.2L237.2,271.1L236.0,270.9L234.8,270.7L233.5,270.6L232.3,270.4L231.1,270.2L229.9,270.1L228.7,269.9L227.4,269.7L226.2,269.5L225.0,269.3L223.8,269.1L222.6,268.9L221.4,268.7L220.1,268.4L218.9,268.2L217.7,268.0L216.5,267.8L215.3,267.5L214.1,267.3L212.9,267.0L211.7,266.8L210.4,266.6L209.2,266.4L208.0,266.1L206.8,265.9L205.6,265.7L204.4,265.4L203.2,265.2L202.0,264.9L200.8,264.7L199.5,264.4L198.3,264.2L197.1,263.9L195.9,263.6L194.7,263.3L193.6,263.0L192.4,262.6L191.2,262.3L190.0,262.0L188.8,261.6L187.6,261.3L186.4,260.9L185.3,260.5L184.1,260.2L182.9,259.8L181.7,259.4L180.6,259.1L179.4,258.7L178.2,258.3L177.0,257.9L175.9,257.6L174.7,257.2L173.5,256.8L172.4,256.4L171.2,256.0L170.1,255.6L168.9,255.2L167.7,254.7L166.6,254.3L165.4,253.9L164.3,253.5L163.1,253.1L162.0,252.6L160.8,252.2L159.7,251.8L158.5,251.3L157.4,250.9L156.2,250.4L155.1,250.0L153.9,249.5L152.8,249.1L151.7,248.6L150.5,248.2L149.4,247.7L148.2,247.3L147.1,246.8L146.0,246.3L144.9,245.9L143.7,245.4L142.6,245.0L141.5,244.5L140.4,244.0L139.3,243.5L138.2,243.0L137.1,242.5L136.0,242.0L134.9,241.4L133.8,240.9L132.7,240.4L131.6,239.8L130.5,239.3L129.4,238.7L128.3,238.1L127.3,237.5L126.2,236.9L125.2,236.2L124.1,235.6L123.1,234.9L122.1,234.2L121.1,233.5L120.0,232.8L119.0,232.1L118.0,231.4L117.0,230.8L115.9,230.1L114.9,229.4L113.9,228.7L112.8,228.0L111.8,227.4L110.7,226.7L109.7,226.1L108.6,225.4L107.6,224.8L106.6,224.2L105.5,223.6L104.5,223.1L103.4,222.5L102.4,222.0L101.4,221.4L100.4,220.8L99.4,220.1L98.4,219.4L97.4,218.7L96.5,218.0L95.5,217.3L94.5,216.6L93.5,215.9L92.6,215.2L91.6,214.4L90.7,213.7L89.7,213.0L88.8,212.2L87.8,211.5L86.9,210.7L85.9,210.0L85.0,209.2L84.1,208.4L83.2,207.6L82.3,206.7L81.5,205.9L80.6,205.0L79.8,204.1L78.9,203.3L78.1,202.4L77.2,201.5L76.3,200.7L75.4,199.9L74.5,199.1L73.6,198.3L72.7,197.5L71.8,196.7L70.9,195.9L70.0,195.2L69.1,194.4L68.1,193.6L67.2,192.9L66.3,192.1L65.4,191.4L64.5,190.7L63.5,190.0L62.6,189.3L61.7,188.6L60.7,188.0L59.8,187.4L58.8,187.1L57.9,186.6L56.9,185.8L56.0,185.0L55.0,184.3L54.0,183.5L53.0,182.8L52.0,182.0L51.0,181.3L50.0,180.6Z" fill="#00ff00"/>
<path d="M50.0,170.7L51.0,171.4L52.0,172.1L53.0,172.9L54.0,173.6L55.0,174.4L56.0,175.1L56.9,175.9L57.9,176.7L58.8,177.5L59.8,178.2L60.7,179.0L61.7,179.8L62.6,180.6L63.5,181.4L64.5,182.2L65.4,183.0L66.3,183.8L67.2,184.6L68.1,185.4L69.1,186.3L70.0,187.1L70.9,187.9L71.8,188.7L72.7,189.5L73.6,190.3L74.5,191.2L75.4,192.0L76.3,192.9L77.2,193.7L78.1,194.6L78.9,195.6L79.8,196.5L80.6,197.4L81.5,198.3L82.3,199.2L83.2,200.1L84.1,201.0L85.0,201.9L85.9,202.7L86.9,203.6L87.8,204.5L88.8,205.4L89.7,206.2L90.7,207.1L91.6,207.9L92.6,208.8L93.5,209.7L94.5,210.5L95.5,211.4L96.5,212.3L97.4,213.1L98.4,213.9L99.4,214.7L100.4,215.5L101.4,216.3L102.4,217.0L103.4,217.8L104.5,218.5L105.5,219.2L106.6,219.9L107.6,220.6L108.6,221.2L109.7,221.9L110.7,222.6L111.8,223.3L112.8,224.0L113.9,224.6L114.9,225.3L115.9,226.0L117.0,226.7L118.0,227.5L119.0,228.2L120.0,228.9L121.1,229.6L122.1,230.3L123.1,231.0L124.1,231.7L125.2,232.4L126.2,233.1L127.3,233.7L128.3,234.4L129.4,235.0L130.5,235.6L131.6,236.2L132.7,236.9L133.8,237.4L134.9,238.0L136.0,238.6L137.1,239.2L138.2,239.8L139.3,240.3L140.4,240.9L141.5,241.4L142.6,242.0L143.7,242.5L144.9,243.0L146.0,243.6L147.1,244.1L148.2,244.6L149.4,245.1L150.5,245.6L151.7,246.1L152.8,246.6L153.9,247.1L155.1,247.5L156.2,248.0L157.4,248.5L158.5,249.0L159.7,249.4L160.8,249.9L162.0,250.4L163.1,250.8L164.3,251.3L165.4,251.7L166.6,252.2L167.7,252.6L168.9,253.0L170.1,253.5L171.2,253.9L172.4,254.3L173.5,254.7L174.7,255.2L175.9,255.6L177.0,256.0L178.2,256.4L179.4,256.8L180.6,257.1L181.7,257.5L182.9,257.9L184.1,258.3L185.3,258.7L186.4,259.1L187.6,259.4L188.8,259.8L190.0,260.2L191.2,260.5L192.4,260.9L193.6,261.2L194.7,261.5L195.9,261.8L197.1,262.1L198.3,262.4L199.5,262.7L200.8,263.0L202.0,263.3L203.2,263.5L204.4,263.8L205.6,264.0L206.8,264.2L208.0,264.5L209.2,264.7L210.4,265.0L211.7,265.2L212.9,265.4L214.1,265.7L215.3,265.9L216.5,266.2L217.7,266.4L218.9,266.6L220.1,266.9L221.4,267.1L222.6,267.3L223.8,267.5L225.0,267.7L226.2,268.0L227.4,268.2L228.7,268.4L229.9,268.6L231.1,268.7L232.3,268.9L233.5,269.1L234.8,269.3L236.0,269.5L237.2,269.6L238.4,269.8L239.7,270.0L240.9,270.1L242.1,270.3L243.3,270.4L244.6,270.6L245.8,270.7L247.0,270.8L248.2,270.9L249.5,271.1L250.7,271.2L251.9,271.3L253.2,271.4L254.4,271.5L255.6,271.6L256.8,271.7L258.1,271.8L259.3,271.9L260.5,272.0L261.8,272.1L263.0,272.2L264.2,272.2L265.5,272.3L266.7,272.4L267.9,272.4L269.2,272.5L270.4,272.5L271.6,272.6L272.9,272.7L274.1,272.7L275.3,272.7L276.6,272.8L277.8,272.8L279.0,272.9L280.3,272.9L281.5,272.9L282.7,273.0L284.0,273.0L285.2,273.0L286.4,273.0L287.7,273.1L288.9,273.1L290.1,273.1L291.4,273.1L292.6,273.1L293.8,273.2L295.1,273.2L296.3,273.2L297.5,273.2L298.8,273.2L300.0,273.2L301.3,273.2L302.5,273.3L303.7,273.3L305.0,273.3L306.2,273.3L307.4,273.3L308.7,273.3L309.9,273.3L311.1,273.8L312.4,273.8L313.6,273.8L314.8,273.8L316.1,273.8L317.3,273.8L317.3,273.1L316.1,273.1L314.8,273.1L313.6,273.1L312.4,273.1L311.1,273.1L309.9,273.6L308.7,273.6L307.4,273.6L306.2,273.6L305.0,273.6L303.7,273.6L302.5,273.6L301.3,273.6L300.0,273.6L298.8,273.6L297.5,273.6L296.3,273.6L295.1,273.6L293.8,273.6L292.6,273.6L291.4,273.6L290.1,273.6L288.9,273.6L287.7,273.5L286.4,273.5L285.2,273.5L284.0,273.5L282.7,273.5L281.5,273.4L280.3,273.4L279.0,273.4L277.8,273.4L276.6,273.3L275.3,273.3L274.1,273.3L272.9,273.2L271.6,273.2L270.4,273.1L269.2,273.1L267.9,273.0L266.7,273.0L265.5,272.9L264.2,272.8L263.0,272.8L261.8,272.7L260.5,272.6L259.3,272.5L258.1,272.5L256.8,272.4L255.6,272.3L254.4,272.2L253.2,272.1L251.9,272.0L250.7,271.9L249.5,271.8L248.2,271.6L247.0,271.5L245.8,271.4L244.6,271.3L243.3,271.1L242.1,271.0L240.9,270.8L239.7,270.7L238.4,270.5L237.2,270.4L236.0,270.2L234.8,270.1L233.5,269.9L232.3,269.7L231.1,269.5L229.9,269.4L228.7,269.2L227.4,269.0L226.2,268.8L225.0,268.6L223.8,268.4L222.6,268.2L221.4,268.0L220.1,267.7L218.9,267.5L217.7,267.3L216.5,267.1L215.3,266.8L214.1,266.6L212.9,266.4L211.7,266.1L210.4,265.9L209.2,265.7L208.0,265.5L206.8,265.2L205.6,265.0L204.4,264.8L203.2,264.6L202.0,264.3L200.8,264.1L199.5,263.8L198.3,263.5L197.1,263.3L195.9,263.0L194.7,262.7L193.6,262.4L192.4,262.0L191.2,261.7L190.0,261.4L188.8,261.0L187.6,260.7L186.4,260.3L185.3,260.0L184.1,259.6L182.9,259.2L181.7,258.9L180.6,258.5L179.4,258.1L178.2,257.7L177.0,257.4L175.9,257.0L174.7,256.6L173.5,256.2L172.4,255.8L171.2,255.4L170.1,255.0L168.9,254.6L167.7,254.2L166.6,253.7L165.4,253.3L164.3,252.9L163.1,252.5L162.0,252.0L160.8,251.6L159.7,251.1L158.5,250.7L157.4,250.2L156.2,249.8L155.1,249.3L153.9,248.9L152.8,248.4L151.7,247.9L150.5,247.5L149.4,247.0L148.2,246.5L147.1,246.0L146.0,245.5L144.9,245.0L143.7,244.5L142.6,244.0L141.5,243.5L140.4,243.0L139.3,242.5L138.2,241.9L137.1,241.4L136.0,240.9L134.9,240.3L133.8,239.8L132.7,239.2L131.6,238.6L130.5,238.1L129.4,237.5L128.3,236.9L127.3,236.3L126.2,235.7L125.2,235.0L124.1,234.4L123.1,233.7L122.1,233.0L121.1,232.3L120.0,231.7L119.0,231.0L118.0,230.3L117.0,229.6L115.9,228.9L114.9,228.2L113.9,227.6L112.8,226.9L111.8,226.3L110.7,225.6L109.7,225.0L108.6,224.3L107.6,223.7L106.6,223.0L105.5,222.4L104.5,221.8L103.4,221.1L102.4,220.4L101.4,219.8L100.4,219.1L99.4,218.4L98.4,217.7L97.4,216.9L96.5,216.2L95.5,215.5L94.5,214.7L93.5,214.0L92.6,213.2L91.6,212.5L90.7,211.7L89.7,210.9L88.8,210.2L87.8,209.4L86.9,208.6L85.9,207.8L85.0,207.0L84.1,206.2L83.2,205.4L82.3,204.5L81.5,203.6L80.6,202.8L79.8,201.9L78.9,201.0L78.1,200.1L77.2,199.3L76.3,198.4L75.4,197.6L74.5,196.8L73.6,196.0L72.7,195.2L71.8,194.3L70.9,193.5L70.0,192.7L69.1,191.9L68.1,191.1L67.2,190.3L66.3,189.5L65.4,188.7L64.5,187.9L63.5,187.1L62.6,186.3L61.7,185.6L60.7,184.8L59.8,184.1L58.8,183.4L57.9,182.7L56.9,181.9L56.0,181.1L55.0,180.4L54.0,179.6L53.0,178.9L52.0,178.1L51.0,177.4L50.0,176.7Z" fill="#ffff33"/>
<path d="M50.0,172.9L51.0,173.6L52.0,174.3L53.0,175.1L54.0,175.8L55.0,176.6L56.0,177.3L56.9,178.1L57.9,178.9L58.8,179.7L59.8,180.4L60.7,181.2L61.7,182.0L62.6,182.8L63.5,183.7L64.5,184.5L65.4,185.3L66.3,186.1L67.2,186.9L68.1,187.8L69.1,188.6L70.0,189.4L70.9,190.2L71.8,191.1L72.7,191.9L73.6,192.7L74.5,193.6L75.4,194.4L76.3,195.3L77.2,196.1L78.1,197.0L78.9,197.9L79.8,198.8L80.6,199.7L81.5,200.6L82.3,201.5L83.2,202.4L84.1,203.3L85.0,204.1L85.9,205.0L86.9,205.8L87.8,206.6L88.8,207.4L89.7,208.2L90.7,209.0L91.6,209.8L92.6,210.6L93.5,211.4L94.5,212.2L95.5,212.9L96.5,213.7L97.4,214.4L98.4,215.2L99.4,215.9L100.4,216.7L101.4,217.4L102.4,218.1L103.4,218.8L104.5,219.5L105.5,220.2L106.6,220.9L107.6,221.6L108.6,222.2L109.7,222.9L110.7,223.6L111.8,224.2L112.8,224.9L113.9,225.6L114.9,226.2L115.9,226.9L117.0,227.6L118.0,228.3L119.0,229.0L120.0,229.7L121.1,230.4L122.1,231.1L123.1,231.8L124.1,232.5L125.2,233.1L126.2,233.8L127.3,234.5L128.3,235.1L129.4,235.7L130.5,236.3L131.6,236.9L132.7,237.5L133.8,238.1L134.9,238.7L136.0,239.2L137.1,239.8L138.2,240.4L139.3,240.9L140.4,241.4L141.5,242.0L142.6,242.5L143.7,243.0L144.9,243.6L146.0,244.1L147.1,244.6L148.2,245.1L149.4,245.6L150.5,246.1L151.7,246.6L152.8,247.1L153.9,247.5L155.1,248.0L156.2,248.5L157.4,248.9L158.5,249.4L159.7,249.9L160.8,250.3L162.0,250.8L163.1,251.2L164.3,251.7L165.4,252.1L166.6,252.6L167.7,253.0L168.9,253.4L170.1,253.9L171.2,254.3L172.4,254.7L173.5,255.1L174.7,255.5L175.9,255.9L177.0,256.3L178.2,256.7L179.4,257.1L180.6,257.5L181.7,257.9L182.9,258.2L184.1,258.6L185.3,259.0L186.4,259.4L187.6,259.7L188.8,260.1L190.0,260.5L191.2,260.8L192.4,261.2L193.6,261.5L194.7,261.8L195.9,262.1L197.1,262.4L198.3,262.7L199.5,263.0L200.8,263.3L202.0,263.5L203.2,263.8L204.4,264.0L205.6,264.3L206.8,264.5L208.0,264.7L209.2,265.0L210.4,265.2L211.7,265.4L212.9,265.7L214.1,265.9L215.3,266.1L216.5,266.4L217.7,266.6L218.9,266.8L220.1,267.1L221.4,267.3L222.6,267.5L223.8,267.7L225.0,267.9L226.2,268.2L227.4,268.4L228.7,268.6L229.9,268.8L231.1,268.9L232.3,269.1L233.5,269.3L234.8,269.5L236.0,269.7L237.2,269.8L238.4,270.0L239.7,270.2L240.9,270.3L242.1,270.5L243.3,270.6L244.6,270.8L245.8,270.9L247.0,271.0L248.2,271.2L249.5,271.3L250.7,271.4L251.9,271.5L253.2,271.6L254.4,271.7L255.6,271.8L256.8,271.9L258.1,272.0L259.3,272.1L260.5,272.2L261.8,272.3L263.0,272.4L264.2,272.4L265.5,272.5L266.7,272.6L267.9,272.6L269.2,272.7L270.4,272.7L271.6,272.8L272.9,272.8L274.1,272.9L275.3,272.9L276.6,273.0L277.8,273.0L279.0,273.0L280.3,273.1L281.5,273.1L282.7,273.1L284.0,273.1L285.2,273.2L286.4,273.2L287.7,273.2L288.9,273.2L290.1,273.2L291.4,273.3L292.6,273.3L293.8,273.3L295.1,273.3L296.3,273.3L297.5,273.3L298.8,273.3L300.0,273.3L301.3,273.3L302.5,273.3L303.7,273.4L305.0,273.4L306.2,273.4L307.4,273.4L308.7,273.4L309.9,273.4L311.1,273.4L312.4,273.4L313.6,273.4L314.8,273.4L316.1,273.4L317.3,273.4L317.3,273.6L316.1,273.6L314.8,273.6L313.6,273.6L312.4,273.6L311.1,273.6L309.9,273.6L308.7,273.6L307.4,273.6L306.2,273.6L305.0,273.6L303.7,273.6L302.5,273.5L301.3,273.5L300.0,273.5L298.8,273.5L297.5,273.5L296.3,273.5L295.1,273.5L293.8,273.5L292.6,273.5L291.4,273.5L290.1,273.4L288.9,273.4L287.7,273.4L286.4,273.4L285.2,273.4L284.0,273.3L282.7,273.3L281.5,273.3L280.3,273.3L279.0,273.2L277.8,273.2L276.6,273.2L275.3,273.1L274.1,273.1L272.9,273.0L271.6,273.0L270.4,272.9L269.2,272.9L267.9,272.8L266.7,272.8L265.5,272.7L264.2,272.6L263.0,272.6L261.8,272.5L260.5,272.4L259.3,272.3L258.1,272.2L256.8,272.2L255.6,272.1L254.4,272.0L253.2,271.9L251.9,271.8L250.7,271.7L249.5,271.5L248.2,271.4L247.0,271.3L245.8,271.2L244.6,271.1L243.3,270.9L242.1,270.8L240.9,270.6L239.7,270.5L238.4,270.3L237.2,270.2L236.0,270.0L234.8,269.9L233.5,269.7L232.3,269.5L231.1,269.3L229.9,269.2L228.7,269.0L227.4,268.8L226.2,268.6L225.0,268.4L223.8,268.2L222.6,268.0L221.4,267.7L220.1,267.5L218.9,267.3L217.7,267.1L216.5,266.8L215.3,266.6L214.1,266.4L212.9,266.1L211.7,265.9L210.4,265.7L209.2,265.5L208.0,265.2L206.8,265.0L205.6,264.8L204.4,264.5L203.2,264.3L202.0,264.0L200.8,263.8L199.5,263.5L198.3,263.3L197.1,263.0L195.9,262.7L194.7,262.4L193.6,262.1L192.4,261.7L191.2,261.4L190.0,261.1L188.8,260.7L187.6,260.4L186.4,260.0L185.3,259.6L184.1,259.3L182.9,258.9L181.7,258.5L180.6,258.2L179.4,257.8L178.2,257.4L177.0,257.0L175.9,256.7L174.7,256.3L173.5,255.9L172.4,255.5L171.2,255.1L170.1,254.7L168.9,254.3L167.7,253.8L166.6,253.4L165.4,253.0L164.3,252.6L163.1,252.1L162.0,251.7L160.8,251.3L159.7,250.8L158.5,250.4L157.4,249.9L156.2,249.5L155.1,249.0L153.9,248.6L152.8,248.1L151.7,247.6L150.5,247.2L149.4,246.7L148.2,246.2L147.1,245.7L146.0,245.2L144.9,244.7L143.7,244.2L142.6,243.7L141.5,243.2L140.4,242.7L139.3,242.2L138.2,241.6L137.1,241.1L136.0,240.5L134.9,240.0L133.8,239.4L132.7,238.9L131.6,238.3L130.5,237.7L129.4,237.1L128.3,236.5L127.3,235.9L126.2,235.3L125.2,234.6L124.1,234.0L123.1,233.3L122.1,232.6L121.1,231.9L120.0,231.3L119.0,230.6L118.0,229.9L117.0,229.2L115.9,228.5L114.9,227.8L113.9,227.2L112.8,226.5L111.8,225.9L110.7,225.2L109.7,224.6L108.6,223.9L107.6,223.3L106.6,222.6L105.5,222.0L104.5,221.3L103.4,220.7L102.4,220.0L101.4,219.3L100.4,218.6L99.4,217.9L98.4,217.1L97.4,216.4L96.5,215.7L95.5,214.9L94.5,214.2L93.5,213.4L92.6,212.7L91.6,211.9L90.7,211.1L89.7,210.3L88.8,209.6L87.8,208.8L86.9,208.0L85.9,207.2L85.0,206.4L84.1,205.6L83.2,204.8L82.3,203.9L81.5,203.0L80.6,202.1L79.8,201.3L78.9,200.4L78.1,199.5L77.2,198.6L76.3,197.7L75.4,196.9L74.5,196.1L73.6,195.2L72.7,194.4L71.8,193.6L70.9,192.8L70.0,191.9L69.1,191.1L68.1,190.3L67.2,189.5L66.3,188.7L65.4,187.8L64.5,187.0L63.5,186.2L62.6,185.4L61.7,184.6L60.7,183.8L59.8,183.0L58.8,182.3L57.9,181.6L56.9,180.8L56.0,180.0L55.0,179.3L54.0,178.5L53.0,177.8L52.0,177.0L51.0,176.3L50.0,175.6Z" fill="#ff3333"/>
<path d="M50.2,173.8L51.2,174.5L52.3,175.2L53.3,175.9L54.2,176.7L55.2,177.4L56.2,178.2L57.2,179.0L58.1,179.8L59.1,180.5L60.0,181.3L61.0,182.1L61.9,182.9L62.9,183.7L63.8,184.6L64.7,185.4L65.6,186.2L66.6,187.0L67.5,187.8L68.4,188.7L69.3,189.5L70.2,190.3L71.1,191.1L72.1,192.0L73.0,192.8L73.9,193.6L74.8,194.5L75.7,195.3L76.6,196.2L77.5,197.1L78.4,197.9L79.2,198.8L80.1,199.7L80.9,200.6L81.8,201.5L82.6,202.4L83.5,203.3L84.4,204.1L85.3,204.9L86.2,205.7L87.1,206.6L88.1,207.4L89.0,208.1L90.0,208.9L90.9,209.7L91.9,210.5L92.8,211.3L93.8,212.0L94.7,212.8L95.7,213.6L96.7,214.3L97.7,215.1L98.7,215.8L99.7,216.5L100.6,217.3L101.6,218.0L102.6,218.7L103.7,219.4L104.7,220.1L105.7,220.7L106.8,221.4L107.8,222.0L108.9,222.7L109.9,223.3L111.0,224.0L112.0,224.7L113.0,225.3L114.1,226.0L115.1,226.7L116.2,227.3L117.2,228.0L118.2,228.7L119.2,229.4L120.2,230.1L121.3,230.8L122.3,231.5L123.3,232.2L124.4,232.8L125.4,233.5L126.4,234.2L127.5,234.8L128.5,235.4L129.6,236.0L130.7,236.6L131.8,237.2L132.8,237.8L133.9,238.4L135.0,238.9L136.1,239.5L137.2,240.1L138.3,240.6L139.4,241.1L140.6,241.7L141.7,242.2L142.8,242.7L143.9,243.2L145.0,243.8L146.1,244.3L147.3,244.8L148.4,245.3L149.5,245.7L150.7,246.2L151.8,246.7L152.9,247.2L154.1,247.7L155.2,248.1L156.4,248.6L157.5,249.1L158.7,249.5L159.8,250.0L160.9,250.4L162.1,250.9L163.2,251.3L164.4,251.7L165.6,252.2L166.7,252.6L167.9,253.0L169.0,253.5L170.2,253.9L171.3,254.3L172.5,254.7L173.7,255.1L174.8,255.5L176.0,255.9L177.2,256.3L178.3,256.7L179.5,257.1L180.7,257.5L181.9,257.8L183.0,258.2L184.2,258.6L185.4,259.0L186.6,259.3L187.7,259.7L188.9,260.1L190.1,260.4L191.3,260.8L192.5,261.1L193.7,261.4L194.8,261.7L196.0,262.0L197.2,262.3L198.4,262.6L199.6,262.9L200.8,263.2L202.0,263.4L203.2,263.7L204.5,263.9L205.7,264.1L206.9,264.4L208.1,264.6L209.3,264.8L210.5,265.1L211.7,265.3L212.9,265.5L214.1,265.8L215.4,266.0L216.6,266.2L217.8,266.5L219.0,266.7L220.2,266.9L221.4,267.2L222.6,267.4L223.8,267.6L225.1,267.8L226.3,268.0L227.5,268.2L228.7,268.4L229.9,268.6L231.1,268.8L232.4,269.0L233.6,269.1L234.8,269.3L236.0,269.5L237.3,269.6L238.5,269.8L239.7,270.0L240.9,270.1L242.1,270.3L243.4,270.4L244.6,270.5L245.8,270.7L247.0,270.8L248.3,270.9L249.5,271.1L250.7,271.2L252.0,271.3L253.2,271.4L254.4,271.5L255.6,271.6L256.9,271.7L258.1,271.8L259.3,271.9L260.6,271.9L261.8,272.0L263.0,272.1L264.3,272.2L265.5,272.2L266.7,272.3L268.0,272.4L269.2,272.4L270.4,272.5L271.6,272.5L272.9,272.6L274.1,272.6L275.3,272.7L276.6,272.7L277.8,272.7L279.0,272.8L280.3,272.8L281.5,272.8L282.7,272.9L284.0,272.9L285.2,272.9L286.4,272.9L287.7,273.0L288.9,273.0L290.1,273.0L291.4,273.0L292.6,273.0L293.9,273.0L295.1,273.0L296.3,273.1L297.6,273.1L298.8,273.1L300.0,273.1L301.3,273.1L302.5,273.1L303.7,273.1L305.0,273.1L306.2,273.1L307.4,273.1L308.7,273.1L309.9,273.1L311.1,273.1L312.4,273.1L313.6,273.1L314.8,273.1L316.1,273.1L317.3,273.1L317.3,273.8L316.1,273.8L314.8,273.8L313.6,273.8L312.4,273.8L311.1,273.8L309.9,273.8L308.7,273.8L307.4,273.8L306.2,273.8L305.0,273.8L303.7,273.8L302.5,273.8L301.3,273.8L300.0,273.8L298.8,273.8L297.5,273.8L296.3,273.8L295.1,273.8L293.8,273.7L292.6,273.7L291.4,273.7L290.1,273.7L288.9,273.7L287.7,273.7L286.4,273.6L285.2,273.6L284.0,273.6L282.7,273.6L281.5,273.5L280.3,273.5L279.0,273.5L277.8,273.5L276.6,273.4L275.3,273.4L274.1,273.3L272.9,273.3L271.6,273.2L270.4,273.2L269.2,273.1L267.9,273.1L266.7,273.0L265.4,273.0L264.2,272.9L263.0,272.8L261.7,272.7L260.5,272.7L259.3,272.6L258.1,272.5L256.8,272.4L255.6,272.3L254.4,272.2L253.1,272.1L251.9,272.0L250.7,271.9L249.4,271.8L248.2,271.7L247.0,271.5L245.7,271.4L244.5,271.3L243.3,271.1L242.1,271.0L240.8,270.8L239.6,270.7L238.4,270.5L237.2,270.4L235.9,270.2L234.7,270.0L233.5,269.9L232.3,269.7L231.0,269.5L229.8,269.3L228.6,269.1L227.4,268.9L226.2,268.7L224.9,268.5L223.7,268.3L222.5,268.1L221.3,267.9L220.1,267.7L218.9,267.4L217.6,267.2L216.4,267.0L215.2,266.7L214.0,266.5L212.8,266.3L211.6,266.0L210.4,265.8L209.2,265.6L207.9,265.3L206.7,265.1L205.5,264.9L204.3,264.6L203.1,264.4L201.9,264.1L200.7,263.9L199.5,263.6L198.3,263.3L197.1,263.1L195.9,262.8L194.7,262.5L193.5,262.1L192.3,261.8L191.1,261.5L189.9,261.1L188.7,260.8L187.5,260.4L186.3,260.0L185.2,259.7L184.0,259.3L182.8,258.9L181.6,258.6L180.5,258.2L179.3,257.8L178.1,257.4L176.9,257.0L175.8,256.6L174.6,256.2L173.4,255.8L172.3,255.4L171.1,255.0L169.9,254.6L168.8,254.2L167.6,253.8L166.4,253.3L165.3,252.9L164.1,252.5L163.0,252.0L161.8,251.6L160.7,251.1L159.5,250.7L158.4,250.2L157.2,249.8L156.1,249.3L154.9,248.8L153.8,248.4L152.6,247.9L151.5,247.4L150.4,246.9L149.2,246.4L148.1,246.0L147.0,245.5L145.8,245.0L144.7,244.5L143.6,243.9L142.5,243.4L141.3,242.9L140.2,242.4L139.1,241.8L138.0,241.3L136.9,240.7L135.8,240.2L134.7,239.6L133.6,239.1L132.5,238.5L131.4,237.9L130.3,237.3L129.2,236.7L128.1,236.1L127.1,235.5L126.0,234.8L125.0,234.2L123.9,233.5L122.9,232.8L121.9,232.1L120.8,231.4L119.8,230.8L118.8,230.1L117.8,229.4L116.7,228.7L115.7,228.0L114.7,227.3L113.7,226.6L112.6,226.0L111.6,225.3L110.5,224.7L109.5,224.0L108.4,223.4L107.4,222.7L106.3,222.0L105.3,221.4L104.3,220.7L103.2,220.0L102.2,219.3L101.2,218.6L100.2,217.9L99.2,217.2L98.2,216.4L97.2,215.7L96.2,214.9L95.2,214.2L94.3,213.4L93.3,212.7L92.3,211.9L91.4,211.1L90.4,210.3L89.5,209.5L88.5,208.8L87.6,208.0L86.6,207.1L85.7,206.3L84.8,205.5L83.8,204.7L82.9,203.8L82.1,202.9L81.2,202.1L80.3,201.2L79.5,200.3L78.6,199.4L77.8,198.5L76.9,197.6L76.1,196.7L75.2,195.9L74.3,195.1L73.4,194.2L72.4,193.4L71.5,192.6L70.6,191.7L69.7,190.9L68.8,190.1L67.9,189.3L67.0,188.4L66.0,187.6L65.1,186.8L64.2,186.0L63.3,185.2L62.3,184.3L61.4,183.5L60.5,182.7L59.5,181.9L58.6,181.2L57.6,180.4L56.7,179.6L55.7,178.8L54.7,178.1L53.8,177.3L52.8,176.6L51.8,175.9L50.8,175.1L49.8,174.4Z" fill="#000"/>
<path d="M50.0,174.1L51.0,174.8L52.0,175.5L53.0,176.3L54.0,177.0L55.0,177.8L56.0,178.5L56.9,179.3L57.9,180.1L58.8,180.9L59.8,181.6L60.7,182.4L61.7,183.2L62.6,184.0L63.5,184.9L64.5,185.7L65.4,186.5L66.3,187.3L67.2,188.1L68.1,189.0L69.1,189.8L70.0,190.6L70.9,191.4L71.8,192.3L72.7,193.1L73.6,193.9L74.5,194.8L75.4,195.6L76.3,196.5L77.2,197.3L78.1,198.2L78.9,199.1L79.8,200.0L80.6,200.9L81.5,201.8L82.3,202.7L83.2,203.5L84.1,204.4L85.0,205.2L85.9,206.0L86.9,206.9L87.8,207.7L88.8,208.5L89.7,209.2L90.7,210.0L91.6,210.8L92.6,211.6L93.5,212.4L94.5,213.1L95.5,213.9L96.5,214.6L97.4,215.4L98.4,216.1L99.4,216.9L100.4,217.6L101.4,218.3L102.4,219.0L103.4,219.7L104.5,220.4L105.5,221.1L106.6,221.7L107.6,222.4L108.6,223.0L109.7,223.7L110.7,224.3L111.8,225.0L112.8,225.6L113.9,226.3L114.9,227.0L115.9,227.7L117.0,228.4L118.0,229.0L119.0,229.7L120.0,230.4L121.1,231.1L122.1,231.8L123.1,232.5L124.1,233.2L125.2,233.8L126.2,234.5L127.3,235.1L128.3,235.8L129.4,236.4L130.5,237.0L131.6,237.6L132.7,238.1L133.8,238.7L134.9,239.3L136.0,239.8L137.1,240.4L138.2,240.9L139.3,241.5L140.4,242.0L141.5,242.6L142.6,243.1L143.7,243.6L144.9,244.1L146.0,244.6L147.1,245.1L148.2,245.6L149.4,246.1L150.5,246.6L151.7,247.1L152.8,247.5L153.9,248.0L155.1,248.5L156.2,248.9L157.4,249.4L158.5,249.9L159.7,250.3L160.8,250.8L162.0,251.2L163.1,251.7L164.3,252.1L165.4,252.5L166.6,253.0L167.7,253.4L168.9,253.8L170.1,254.2L171.2,254.7L172.4,255.1L173.5,255.5L174.7,255.9L175.9,256.3L177.0,256.7L178.2,257.1L179.4,257.4L180.6,257.8L181.7,258.2L182.9,258.6L184.1,258.9L185.3,259.3L186.4,259.7L187.6,260.1L188.8,260.4L190.0,260.8L191.2,261.1L192.4,261.4L193.6,261.8L194.7,262.1L195.9,262.4L197.1,262.7L198.3,263.0L199.5,263.3L200.8,263.5L202.0,263.8L203.2,264.0L204.4,264.3L205.6,264.5L206.8,264.7L208.0,265.0L209.2,265.2L210.4,265.4L211.7,265.7L212.9,265.9L214.1,266.1L215.3,266.4L216.5,266.6L217.7,266.8L218.9,267.1L220.1,267.3L221.4,267.5L222.6,267.7L223.8,268.0L225.0,268.2L226.2,268.4L227.4,268.6L228.7,268.8L229.9,269.0L231.1,269.1L232.3,269.3L233.5,269.5L234.8,269.7L236.0,269.8L237.2,270.0L238.4,270.2L239.7,270.3L240.9,270.5L242.1,270.6L243.3,270.8L244.6,270.9L245.8,271.0L247.0,271.2L248.2,271.3L249.5,271.4L250.7,271.5L251.9,271.6L253.2,271.7L254.4,271.9L255.6,271.9L256.8,272.0L258.1,272.1L259.3,272.2L260.5,272.3L261.8,272.4L263.0,272.5L264.2,272.5L265.5,272.6L266.7,272.7L267.9,272.7L269.2,272.8L270.4,272.8L271.6,272.9L272.9,272.9L274.1,273.0L275.3,273.0L276.6,273.1L277.8,273.1L279.0,273.1L280.3,273.2L281.5,273.2L282.7,273.2L284.0,273.2L285.2,273.3L286.4,273.3L287.7,273.3L288.9,273.3L290.1,273.3L291.4,273.4L292.6,273.4L293.8,273.4L295.1,273.4L296.3,273.4L297.5,273.4L298.8,273.4L300.0,273.4L301.3,273.4L302.5,273.4L303.7,273.5L305.0,273.5L306.2,273.5L307.4,273.5L308.7,273.5L309.9,273.5L311.1,273.5L312.4,273.5L313.6,273.5L314.8,273.5L316.1,273.5L317.3,273.5" fill="none" stroke="#4a6cf0" stroke-width="0.75" stroke-dasharray="1.1,1.7" opacity="0.7"/>
</g>
<g id="xg">
<path d="M52.7,-25.0L53.1,-23.2L53.5,-21.3L53.9,-19.5L54.3,-17.7L54.6,-15.9L55.0,-14.1L55.4,-12.2L55.8,-10.4L56.2,-8.6L56.6,-6.8L57.1,-5.0L57.5,-3.2L57.9,-1.4L58.3,0.5L58.7,2.3L59.2,4.1L59.6,5.9L60.0,7.7L60.5,9.5L60.9,11.3L61.4,13.1L61.8,14.9L62.3,16.7L62.7,18.5L63.2,20.3L63.6,22.1L64.1,23.9L64.6,25.7L65.1,27.5L65.6,29.3L66.0,31.1L66.5,32.9L67.0,34.7L67.5,36.5L68.0,38.2L68.5,40.0L69.0,41.8L69.6,43.6L70.1,45.4L70.6,47.2L71.1,48.9L71.7,50.7L72.2,52.5L72.8,54.3L73.3,56.1L73.9,57.8L74.4,59.6L75.0,61.4L75.5,63.1L76.1,64.9L76.7,66.7L77.2,68.4L77.8,70.2L78.4,72.0L79.0,73.7L79.6,75.5L80.2,77.2L80.8,79.0L81.4,80.8L82.0,82.5L82.6,84.3L83.3,86.0L83.9,87.8L84.5,89.5L85.2,91.2L85.8,93.0L86.5,94.7L87.1,96.5L87.8,98.2L88.5,99.9L89.1,101.7L89.8,103.4L90.5,105.1L91.2,106.8L91.9,108.6L92.6,110.3L93.3,112.0L94.0,113.7L94.7,115.4L95.5,117.1L96.2,118.8L96.9,120.6L97.7,122.3L98.4,124.0L99.2,125.7L99.9,127.3L100.7,129.0L101.5,130.7L102.2,132.4L103.0,134.1L103.8,135.8L104.6,137.5L105.4,139.1L106.2,140.8L107.1,142.5L107.9,144.2L108.7,145.8L109.5,147.5L110.3,149.2L111.1,150.9L111.9,152.5L112.8,154.2L113.6,155.9L114.4,157.6L115.2,159.2L116.1,160.9L116.9,162.5L117.8,164.2L118.6,165.8L119.5,167.4L120.4,169.1L121.3,170.7L122.2,172.3L123.1,173.9L124.1,175.5L125.0,177.1L126.0,178.7L126.9,180.3L127.9,181.9L128.9,183.5L129.8,185.1L130.8,186.6L131.8,188.2L132.9,189.7L133.9,191.3L134.9,192.8L135.4,194.7L136.5,196.3L137.6,197.8L138.7,199.3L139.8,200.8L140.9,202.3L142.1,203.7L143.2,205.2L144.0,206.9L145.2,208.4L146.4,209.8L147.6,211.2L148.9,212.6L150.1,214.0L151.4,215.4L152.6,216.8L153.9,218.2L155.2,219.5L156.5,220.9L157.8,222.2L159.1,223.5L160.4,224.8L161.7,226.2L163.1,227.5L164.4,228.7L165.8,230.0L167.2,231.3L168.6,232.5L170.0,233.7L171.4,235.0L172.8,236.2L174.3,237.3L175.7,238.5L177.2,239.7L178.7,240.8L180.2,241.9L181.7,243.0L183.2,244.1L184.8,245.1L186.3,246.1L187.9,247.2L189.5,248.1L191.1,249.1L192.7,250.1L194.3,251.0L196.0,251.9L197.6,252.8L199.3,253.7L200.9,254.5L202.6,255.3L204.3,256.2L206.0,257.0L207.7,257.7L209.4,258.5L211.1,259.3L212.8,260.0L214.5,260.7L216.3,261.4L218.0,262.1L219.7,262.8L221.5,263.4L223.3,264.0L225.0,264.7L226.8,265.3L228.6,265.8L230.3,266.4L232.1,267.0L233.9,267.5L235.7,268.0L237.5,268.5L239.3,269.0L241.1,269.5L242.9,269.9L244.8,270.3L246.6,270.8L248.4,271.1L250.3,271.5L252.1,271.9L253.9,272.2L255.8,272.5L257.6,272.7L259.5,273.0L261.3,273.2L263.2,273.4L265.1,273.6L266.9,273.7L268.8,273.8L270.7,273.9L272.5,274.0L274.4,274.1L276.3,274.1L278.1,274.2L280.0,274.2L281.9,274.2L283.7,274.2L285.6,274.2L287.5,274.2L289.3,274.2L291.2,274.2L293.1,274.2L294.9,274.2L296.8,274.2L298.7,274.2L300.5,274.2L302.4,274.1L304.3,274.1L306.1,274.1L308.0,274.1L309.8,274.1L311.7,274.1L313.6,274.1L315.4,274.1L317.3,274.1L317.3,272.9L315.4,272.9L313.6,272.9L311.7,272.9L309.8,272.9L308.0,273.0L306.1,273.0L304.2,273.0L302.4,273.0L300.5,273.0L298.6,273.0L296.8,273.0L294.9,273.1L293.1,273.1L291.2,273.1L289.3,273.1L287.5,273.1L285.6,273.1L283.7,273.1L281.9,273.1L280.0,273.1L278.2,273.1L276.3,273.1L274.4,273.0L272.6,272.9L270.7,272.9L268.9,272.8L267.0,272.7L265.2,272.5L263.3,272.3L261.5,272.2L259.6,271.9L257.8,271.7L255.9,271.4L254.1,271.1L252.3,270.8L250.4,270.5L248.6,270.1L246.8,269.7L245.0,269.3L243.2,268.9L241.4,268.5L239.6,268.0L237.8,267.5L236.0,267.0L234.2,266.5L232.4,266.0L230.6,265.4L228.9,264.9L227.1,264.3L225.3,263.7L223.6,263.1L221.8,262.5L220.1,261.8L218.4,261.2L216.6,260.5L214.9,259.8L213.2,259.1L211.5,258.3L209.8,257.6L208.1,256.8L206.4,256.1L204.7,255.3L203.0,254.5L201.4,253.6L199.7,252.8L198.1,251.9L196.4,251.0L194.8,250.1L193.2,249.2L191.6,248.3L190.0,247.3L188.4,246.3L186.9,245.3L185.3,244.3L183.8,243.3L182.3,242.2L180.7,241.1L179.3,240.0L177.8,238.9L176.3,237.8L174.8,236.6L173.4,235.5L172.0,234.3L170.6,233.1L169.2,231.8L167.8,230.6L166.4,229.4L165.0,228.1L163.7,226.8L162.3,225.5L161.0,224.2L159.7,222.9L158.4,221.6L157.0,220.3L155.8,219.0L154.5,217.6L153.2,216.3L151.9,214.9L150.7,213.5L149.4,212.1L148.2,210.7L147.0,209.3L145.8,207.9L144.6,206.5L143.4,205.1L142.2,203.6L141.1,202.1L140.0,200.7L138.9,199.2L137.7,197.7L136.6,196.2L135.6,194.7L134.5,193.1L133.4,191.6L132.4,190.1L131.3,188.5L130.3,187.0L129.3,185.4L128.3,183.9L127.3,182.3L126.3,180.7L125.3,179.1L124.3,177.6L123.3,176.0L122.4,174.4L121.4,172.8L120.5,171.2L119.5,169.6L118.6,167.9L117.7,166.3L116.8,164.7L116.0,163.0L115.1,161.4L114.2,159.7L113.4,158.1L112.5,156.4L111.7,154.8L110.9,153.1L110.0,151.4L109.2,149.8L108.4,148.1L107.5,146.4L106.7,144.8L105.8,143.1L105.0,141.4L104.2,139.8L103.3,138.1L102.5,136.4L101.7,134.7L100.9,133.1L100.1,131.4L99.3,129.7L98.5,128.0L97.7,126.3L97.0,124.6L96.2,122.9L95.4,121.2L94.7,119.5L93.9,117.8L93.2,116.1L92.4,114.4L91.7,112.7L90.9,111.0L90.2,109.3L89.5,107.5L88.8,105.8L88.1,104.1L87.4,102.4L86.7,100.6L86.0,98.9L85.3,97.2L84.6,95.4L84.0,93.7L83.3,92.0L82.6,90.2L82.0,88.5L81.3,86.7L80.7,85.0L80.0,83.2L79.4,81.5L78.8,79.7L78.1,78.0L77.5,76.2L76.9,74.5L76.3,72.7L75.7,70.9L75.1,69.2L74.5,67.4L73.9,65.6L73.3,63.9L72.7,62.1L72.2,60.3L71.6,58.5L71.0,56.8L70.5,55.0L69.9,53.2L69.4,51.4L68.8,49.6L68.3,47.9L67.7,46.1L67.2,44.3L66.7,42.5L66.2,40.7L65.6,38.9L65.1,37.1L64.6,35.3L64.1,33.5L63.6,31.7L63.1,29.9L62.6,28.1L62.2,26.3L61.7,24.5L61.2,22.7L60.7,20.9L60.3,19.1L59.8,17.3L59.3,15.5L58.9,13.7L58.4,11.9L58.0,10.1L57.5,8.3L57.1,6.5L56.7,4.7L56.2,2.8L55.8,1.0L55.4,-0.8L55.0,-2.6L54.6,-4.4L54.2,-6.2L53.7,-8.1L53.3,-9.9L52.9,-11.7L52.5,-13.5L52.2,-15.3L51.8,-17.2L51.4,-19.0L51.0,-20.8L50.6,-22.6L50.2,-24.5Z" fill="#00ff00"/>
<path d="M52.4,-24.9L52.7,-23.1L53.1,-21.2L53.5,-19.4L53.9,-17.6L54.3,-15.8L54.7,-14.0L55.0,-12.2L55.4,-10.3L55.8,-8.5L56.3,-6.7L56.7,-4.9L57.1,-3.1L57.5,-1.3L57.9,0.5L58.3,2.4L58.8,4.2L59.2,6.0L59.6,7.8L60.1,9.6L60.5,11.4L61.0,13.2L61.4,15.0L61.9,16.8L62.3,18.6L62.8,20.4L63.3,22.2L63.7,24.0L64.2,25.8L64.7,27.6L65.2,29.4L65.7,31.2L66.1,33.0L66.6,34.8L67.1,36.6L67.6,38.4L68.1,40.1L68.7,41.9L69.2,43.7L69.7,45.5L70.2,47.3L70.8,49.1L71.3,50.8L71.8,52.6L72.4,54.4L72.9,56.2L73.5,57.9L74.0,59.7L74.6,61.5L75.2,63.3L75.7,65.0L76.3,66.8L76.9,68.6L77.5,70.3L78.0,72.1L78.6,73.9L79.2,75.6L79.8,77.4L80.4,79.1L81.1,80.9L81.7,82.6L82.3,84.4L82.9,86.1L83.6,87.9L84.2,89.6L84.8,91.4L85.5,93.1L86.1,94.9L86.8,96.6L87.5,98.3L88.1,100.1L88.8,101.8L89.5,103.5L90.2,105.2L90.9,107.0L91.6,108.7L92.3,110.4L93.0,112.1L93.7,113.8L94.4,115.6L95.2,117.3L95.9,119.0L96.6,120.7L97.4,122.4L98.1,124.1L98.9,125.8L99.6,127.5L100.4,129.2L101.2,130.9L102.0,132.5L102.8,134.2L103.6,135.9L104.4,137.6L105.2,139.3L106.0,140.9L106.8,142.6L107.6,144.3L108.4,146.0L109.3,147.6L110.1,149.3L110.9,151.0L111.7,152.7L112.5,154.3L113.4,156.0L114.2,157.7L115.0,159.3L115.9,161.0L116.7,162.6L117.6,164.3L118.4,165.9L119.3,167.6L120.2,169.2L121.1,170.8L122.1,172.4L123.0,174.0L123.9,175.6L124.9,177.2L125.8,178.8L126.8,180.4L127.8,182.0L128.8,183.5L129.8,185.1L130.8,186.7L131.8,188.2L132.8,189.8L133.8,191.3L134.9,192.9L135.9,194.4L137.0,195.9L138.1,197.4L139.2,198.9L140.2,200.4L141.4,201.9L142.5,203.4L143.6,204.9L144.4,206.7L145.6,208.1L146.8,209.5L148.0,210.9L149.2,212.3L150.4,213.7L151.7,215.1L152.9,216.5L154.2,217.8L155.5,219.2L156.8,220.5L158.1,221.9L159.4,223.2L160.7,224.5L162.0,225.8L163.4,227.1L164.7,228.4L166.1,229.7L167.5,230.9L168.9,232.2L170.3,233.4L171.7,234.6L173.1,235.8L174.5,237.0L176.0,238.2L177.5,239.3L179.0,240.4L180.5,241.5L182.0,242.6L183.5,243.7L185.0,244.7L186.6,245.8L188.2,246.8L189.7,247.8L191.3,248.7L192.9,249.7L194.6,250.6L196.2,251.5L197.8,252.4L199.5,253.3L201.1,254.1L202.8,254.9L204.5,255.8L206.2,256.6L207.9,257.3L209.6,258.1L211.3,258.8L213.0,259.6L214.7,260.3L216.4,261.0L218.2,261.7L219.9,262.3L221.7,263.0L223.4,263.6L225.2,264.2L226.9,264.8L228.7,265.4L230.5,266.0L232.3,266.5L234.0,267.1L235.8,267.6L237.6,268.1L239.4,268.6L241.2,269.0L243.0,269.5L244.9,269.9L246.7,270.3L248.5,270.7L250.3,271.1L252.2,271.4L254.0,271.7L255.8,272.0L257.7,272.3L259.5,272.5L261.4,272.8L263.2,272.9L265.1,273.1L267.0,273.3L268.8,273.4L270.7,273.5L272.5,273.6L274.4,273.6L276.3,273.7L278.1,273.7L280.0,273.7L281.9,273.8L283.7,273.8L285.6,273.8L287.5,273.8L289.3,273.8L291.2,273.7L293.1,273.7L294.9,273.7L296.8,273.7L298.7,273.7L300.5,273.7L302.4,273.7L304.2,273.7L306.1,273.7L308.0,273.7L309.8,273.7L311.7,273.7L313.6,273.7L315.4,273.7L317.3,273.7L317.3,273.4L315.4,273.4L313.6,273.4L311.7,273.4L309.8,273.4L308.0,273.4L306.1,273.4L304.2,273.4L302.4,273.4L300.5,273.5L298.7,273.5L296.8,273.5L294.9,273.5L293.1,273.5L291.2,273.5L289.3,273.5L287.5,273.6L285.6,273.6L283.7,273.6L281.9,273.6L280.0,273.6L278.1,273.5L276.3,273.5L274.4,273.5L272.6,273.4L270.7,273.3L268.8,273.2L267.0,273.1L265.1,273.0L263.3,272.8L261.4,272.6L259.6,272.4L257.7,272.1L255.9,271.9L254.0,271.6L252.2,271.3L250.4,270.9L248.5,270.6L246.7,270.2L244.9,269.8L243.1,269.4L241.3,268.9L239.5,268.5L237.7,268.0L235.9,267.5L234.1,267.0L232.3,266.4L230.5,265.9L228.7,265.3L227.0,264.7L225.2,264.1L223.4,263.5L221.7,262.9L219.9,262.2L218.2,261.6L216.5,260.9L214.7,260.2L213.0,259.5L211.3,258.8L209.6,258.0L207.9,257.3L206.2,256.5L204.5,255.7L202.8,254.9L201.2,254.0L199.5,253.2L197.9,252.3L196.2,251.4L194.6,250.5L193.0,249.6L191.4,248.7L189.8,247.7L188.2,246.7L186.6,245.7L185.1,244.7L183.5,243.6L182.0,242.6L180.5,241.5L179.0,240.4L177.5,239.3L176.0,238.1L174.6,237.0L173.1,235.8L171.7,234.6L170.3,233.4L168.9,232.2L167.5,230.9L166.1,229.7L164.7,228.4L163.4,227.2L162.0,225.9L160.7,224.6L159.3,223.3L158.0,221.9L156.7,220.6L155.4,219.3L154.1,217.9L152.9,216.6L151.6,215.2L150.3,213.8L149.1,212.4L147.9,211.0L146.6,209.6L145.4,208.2L144.2,206.8L143.1,205.3L141.9,203.9L140.7,202.4L139.6,200.9L138.5,199.4L137.4,197.9L136.3,196.4L135.2,194.9L134.1,193.4L133.1,191.9L132.0,190.3L131.0,188.8L129.9,187.2L128.9,185.7L127.9,184.1L126.9,182.5L125.9,181.0L124.9,179.4L123.9,177.8L123.0,176.2L122.0,174.6L121.0,173.0L120.1,171.4L119.2,169.8L118.2,168.2L117.3,166.5L116.4,164.9L115.6,163.2L114.7,161.6L113.8,159.9L113.0,158.3L112.1,156.6L111.3,155.0L110.5,153.3L109.6,151.6L108.8,150.0L107.9,148.3L107.1,146.6L106.3,145.0L105.4,143.3L104.6,141.6L103.8,140.0L102.9,138.3L102.1,136.6L101.3,134.9L100.5,133.2L99.7,131.6L98.9,129.9L98.1,128.2L97.3,126.5L96.5,124.8L95.8,123.1L95.0,121.4L94.2,119.7L93.5,118.0L92.7,116.3L92.0,114.6L91.3,112.9L90.5,111.2L89.8,109.4L89.1,107.7L88.4,106.0L87.7,104.3L87.0,102.5L86.3,100.8L85.6,99.1L84.9,97.3L84.2,95.6L83.5,93.9L82.9,92.1L82.2,90.4L81.5,88.6L80.9,86.9L80.2,85.1L79.6,83.4L79.0,81.6L78.3,79.9L77.7,78.1L77.1,76.4L76.5,74.6L75.9,72.8L75.3,71.1L74.7,69.3L74.1,67.5L73.5,65.8L72.9,64.0L72.3,62.2L71.7,60.5L71.2,58.7L70.6,56.9L70.0,55.1L69.5,53.3L68.9,51.6L68.4,49.8L67.8,48.0L67.3,46.2L66.8,44.4L66.3,42.6L65.7,40.8L65.2,39.0L64.7,37.3L64.2,35.5L63.7,33.7L63.2,31.9L62.7,30.1L62.2,28.3L61.7,26.5L61.2,24.7L60.8,22.9L60.3,21.1L59.8,19.2L59.4,17.4L58.9,15.6L58.4,13.8L58.0,12.0L57.5,10.2L57.1,8.4L56.7,6.6L56.2,4.8L55.8,3.0L55.4,1.1L55.0,-0.7L54.5,-2.5L54.1,-4.3L53.7,-6.1L53.3,-8.0L52.9,-9.8L52.5,-11.6L52.1,-13.4L51.7,-15.2L51.3,-17.1L50.9,-18.9L50.6,-20.7L50.2,-22.5L49.8,-24.4Z" fill="#ffff33"/>
<path d="M51.9,-24.8L52.2,-23.0L52.6,-21.1L53.0,-19.3L53.4,-17.5L53.8,-15.7L54.2,-13.9L54.6,-12.0L55.0,-10.2L55.4,-8.4L55.8,-6.6L56.2,-4.8L56.6,-3.0L57.0,-1.2L57.4,0.7L57.9,2.5L58.3,4.3L58.7,6.1L59.1,7.9L59.6,9.7L60.0,11.5L60.5,13.3L60.9,15.1L61.4,16.9L61.8,18.7L62.3,20.5L62.8,22.3L63.2,24.1L63.7,25.9L64.2,27.7L64.7,29.5L65.2,31.3L65.7,33.1L66.1,34.9L66.6,36.7L67.2,38.5L67.7,40.3L68.2,42.1L68.7,43.9L69.2,45.6L69.7,47.4L70.3,49.2L70.8,51.0L71.3,52.8L71.9,54.5L72.4,56.3L73.0,58.1L73.6,59.9L74.1,61.6L74.7,63.4L75.3,65.2L75.8,67.0L76.4,68.7L77.0,70.5L77.6,72.2L78.2,74.0L78.8,75.8L79.4,77.5L80.0,79.3L80.6,81.0L81.3,82.8L81.9,84.5L82.5,86.3L83.2,88.0L83.8,89.8L84.4,91.5L85.1,93.3L85.8,95.0L86.4,96.7L87.1,98.5L87.8,100.2L88.5,101.9L89.1,103.7L89.8,105.4L90.5,107.1L91.2,108.8L91.9,110.6L92.7,112.3L93.4,114.0L94.1,115.7L94.8,117.4L95.6,119.1L96.3,120.8L97.1,122.5L97.8,124.2L98.6,125.9L99.4,127.6L100.1,129.3L100.9,131.0L101.7,132.7L102.5,134.4L103.3,136.0L104.1,137.7L104.9,139.4L105.7,141.1L106.6,142.7L107.4,144.4L108.2,146.1L109.0,147.7L109.8,149.4L110.7,151.1L111.5,152.8L112.3,154.4L113.1,156.1L114.0,157.8L114.8,159.4L115.7,161.1L116.5,162.7L117.4,164.4L118.3,166.0L119.1,167.7L120.0,169.3L121.0,170.9L121.9,172.5L122.8,174.1L123.8,175.7L124.7,177.3L125.7,178.9L126.6,180.5L127.6,182.1L128.6,183.6L129.6,185.2L130.6,186.8L131.6,188.3L132.7,189.9L133.7,191.4L134.7,193.0L135.8,194.5L136.9,196.0L138.0,197.5L139.1,199.0L140.2,200.5L141.3,202.0L142.4,203.5L143.6,204.9L144.7,206.4L145.9,207.8L147.1,209.2L148.3,210.6L149.5,212.0L150.8,213.4L152.0,214.8L153.3,216.2L154.5,217.5L155.8,218.9L157.1,220.2L158.4,221.6L159.7,222.9L161.0,224.2L162.4,225.5L163.7,226.8L165.0,228.1L166.4,229.3L167.8,230.6L169.2,231.8L170.6,233.1L172.0,234.3L173.4,235.5L174.8,236.6L176.3,237.8L177.7,238.9L179.2,240.1L180.7,241.2L182.2,242.3L183.7,243.3L185.3,244.4L186.8,245.4L188.4,246.4L190.0,247.4L191.6,248.3L193.2,249.3L194.8,250.2L196.4,251.1L198.0,252.0L199.7,252.9L201.3,253.7L203.0,254.5L204.7,255.4L206.4,256.1L208.0,256.9L209.7,257.7L211.4,258.4L213.2,259.2L214.9,259.9L216.6,260.6L218.3,261.3L220.1,261.9L221.8,262.6L223.6,263.2L225.3,263.8L227.1,264.4L228.8,265.0L230.6,265.6L232.4,266.1L234.2,266.6L236.0,267.2L237.8,267.7L239.5,268.1L241.3,268.6L243.2,269.0L245.0,269.5L246.8,269.9L248.6,270.3L250.4,270.6L252.2,271.0L254.1,271.3L255.9,271.6L257.8,271.8L259.6,272.1L261.4,272.3L263.3,272.5L265.1,272.7L267.0,272.8L268.9,272.9L270.7,273.0L272.6,273.1L274.4,273.2L276.3,273.2L278.1,273.3L280.0,273.3L281.9,273.3L283.7,273.3L285.6,273.3L287.5,273.3L289.3,273.3L291.2,273.3L293.1,273.3L294.9,273.3L296.8,273.3L298.7,273.3L300.5,273.3L302.4,273.2L304.2,273.2L306.1,273.2L308.0,273.2L309.8,273.2L311.7,273.2L313.6,273.2L315.4,273.2L317.3,273.2L317.3,273.8L315.4,273.8L313.6,273.8L311.7,273.8L309.8,273.8L308.0,273.9L306.1,273.9L304.2,273.9L302.4,273.9L300.5,273.9L298.7,273.9L296.8,273.9L294.9,274.0L293.1,274.0L291.2,274.0L289.3,274.0L287.5,274.0L285.6,274.0L283.7,274.0L281.9,274.0L280.0,274.0L278.1,274.0L276.3,274.0L274.4,273.9L272.5,273.8L270.7,273.8L268.8,273.7L266.9,273.6L265.1,273.4L263.2,273.2L261.4,273.0L259.5,272.8L257.7,272.6L255.8,272.3L254.0,272.0L252.1,271.7L250.3,271.4L248.4,271.0L246.6,270.6L244.8,270.2L243.0,269.8L241.2,269.4L239.4,268.9L237.5,268.4L235.7,267.9L234.0,267.4L232.2,266.9L230.4,266.3L228.6,265.7L226.8,265.2L225.1,264.6L223.3,263.9L221.5,263.3L219.8,262.7L218.0,262.0L216.3,261.3L214.6,260.6L212.8,259.9L211.1,259.2L209.4,258.4L207.7,257.7L206.0,256.9L204.3,256.1L202.6,255.3L201.0,254.4L199.3,253.6L197.7,252.7L196.0,251.8L194.4,250.9L192.8,250.0L191.1,249.0L189.5,248.1L188.0,247.1L186.4,246.1L184.8,245.1L183.3,244.0L181.7,242.9L180.2,241.9L178.7,240.8L177.2,239.6L175.7,238.5L174.3,237.3L172.8,236.1L171.4,235.0L170.0,233.7L168.6,232.5L167.2,231.3L165.8,230.0L164.4,228.8L163.0,227.5L161.7,226.2L160.4,224.9L159.0,223.6L157.7,222.2L156.4,220.9L155.1,219.6L153.8,218.2L152.5,216.9L151.3,215.5L150.0,214.1L148.7,212.7L147.5,211.3L146.3,209.9L145.1,208.5L143.9,207.1L142.7,205.6L141.5,204.2L140.4,202.7L139.3,201.2L138.1,199.7L137.0,198.2L135.9,196.7L134.8,195.2L133.8,193.7L132.7,192.1L131.6,190.6L130.6,189.0L129.6,187.5L128.5,185.9L127.5,184.4L126.5,182.8L125.5,181.2L124.5,179.6L123.5,178.0L122.6,176.4L121.6,174.8L120.6,173.2L119.7,171.6L118.8,170.0L117.8,168.4L116.9,166.7L116.1,165.1L115.2,163.5L114.3,161.8L113.4,160.1L112.6,158.5L111.7,156.8L110.9,155.2L110.1,153.5L109.2,151.8L108.4,150.2L107.5,148.5L106.7,146.8L105.9,145.2L105.0,143.5L104.2,141.8L103.4,140.2L102.5,138.5L101.7,136.8L100.9,135.1L100.1,133.4L99.3,131.8L98.5,130.1L97.7,128.4L96.9,126.7L96.1,125.0L95.4,123.3L94.6,121.6L93.8,119.9L93.1,118.2L92.3,116.5L91.6,114.8L90.9,113.0L90.1,111.3L89.4,109.6L88.7,107.9L88.0,106.2L87.2,104.4L86.5,102.7L85.8,101.0L85.2,99.2L84.5,97.5L83.8,95.8L83.1,94.0L82.4,92.3L81.8,90.5L81.1,88.8L80.5,87.0L79.8,85.3L79.2,83.5L78.5,81.8L77.9,80.0L77.3,78.3L76.7,76.5L76.0,74.8L75.4,73.0L74.8,71.2L74.2,69.5L73.6,67.7L73.0,65.9L72.5,64.1L71.9,62.4L71.3,60.6L70.7,58.8L70.2,57.0L69.6,55.3L69.1,53.5L68.5,51.7L68.0,49.9L67.4,48.1L66.9,46.3L66.3,44.5L65.8,42.8L65.3,41.0L64.8,39.2L64.3,37.4L63.8,35.6L63.3,33.8L62.8,32.0L62.3,30.2L61.8,28.4L61.3,26.6L60.8,24.8L60.3,23.0L59.9,21.2L59.4,19.4L58.9,17.6L58.5,15.7L58.0,13.9L57.6,12.1L57.1,10.3L56.7,8.5L56.2,6.7L55.8,4.9L55.4,3.1L54.9,1.2L54.5,-0.6L54.1,-2.4L53.7,-4.2L53.3,-6.0L52.9,-7.9L52.5,-9.7L52.1,-11.5L51.7,-13.3L51.3,-15.1L50.9,-17.0L50.5,-18.8L50.1,-20.6L49.7,-22.5L49.4,-24.3Z" fill="#ff3333"/>
<path d="M50.6,-24.5L51.0,-22.7L51.4,-20.9L51.8,-19.1L52.2,-17.2L52.5,-15.4L52.9,-13.6L53.3,-11.8L53.7,-10.0L54.1,-8.1L54.5,-6.3L55.0,-4.5L55.4,-2.7L55.8,-0.9L56.2,0.9L56.6,2.8L57.1,4.6L57.5,6.4L57.9,8.2L58.4,10.0L58.8,11.8L59.3,13.6L59.7,15.4L60.2,17.2L60.6,19.0L61.1,20.8L61.6,22.7L62.0,24.5L62.5,26.3L63.0,28.1L63.5,29.9L64.0,31.7L64.5,33.4L65.0,35.2L65.5,37.0L66.0,38.8L66.5,40.6L67.0,42.4L67.5,44.2L68.1,46.0L68.6,47.8L69.1,49.6L69.7,51.3L70.2,53.1L70.8,54.9L71.3,56.7L71.9,58.5L72.4,60.2L73.0,62.0L73.6,63.8L74.2,65.5L74.7,67.3L75.3,69.1L75.9,70.8L76.5,72.6L77.1,74.4L77.7,76.1L78.4,77.9L79.0,79.6L79.6,81.4L80.2,83.2L80.9,84.9L81.5,86.7L82.2,88.4L82.8,90.1L83.5,91.9L84.1,93.6L84.8,95.4L85.5,97.1L86.2,98.8L86.9,100.6L87.5,102.3L88.2,104.0L88.9,105.8L89.7,107.5L90.4,109.2L91.1,110.9L91.8,112.6L92.5,114.3L93.3,116.1L94.0,117.8L94.8,119.5L95.5,121.2L96.3,122.9L97.1,124.6L97.8,126.3L98.6,128.0L99.4,129.7L100.2,131.3L101.0,133.0L101.8,134.7L102.6,136.4L103.4,138.1L104.2,139.7L105.0,141.4L105.9,143.1L106.7,144.7L107.5,146.4L108.4,148.1L109.2,149.7L110.0,151.4L110.9,153.1L111.7,154.7L112.5,156.4L113.4,158.1L114.2,159.7L115.1,161.4L116.0,163.0L116.8,164.7L117.7,166.3L118.6,167.9L119.5,169.6L120.5,171.2L121.4,172.8L122.3,174.4L123.3,176.0L124.3,177.6L125.2,179.2L126.2,180.8L127.2,182.3L128.2,183.9L129.2,185.5L130.2,187.0L131.3,188.6L132.3,190.1L133.3,191.7L134.4,193.2L135.5,194.7L136.5,196.2L137.6,197.8L138.7,199.3L139.9,200.7L141.0,202.2L142.1,203.7L143.3,205.2L144.5,206.6L145.6,208.0L146.8,209.5L148.0,210.9L149.3,212.3L150.5,213.7L151.8,215.0L153.0,216.4L154.3,217.8L155.6,219.1L156.9,220.4L158.2,221.8L159.5,223.1L160.8,224.4L162.2,225.7L163.5,227.0L164.8,228.3L166.2,229.5L167.6,230.8L169.0,232.0L170.4,233.3L171.8,234.5L173.2,235.7L174.7,236.8L176.1,238.0L177.6,239.1L179.1,240.3L180.6,241.4L182.1,242.4L183.6,243.5L185.2,244.6L186.7,245.6L188.3,246.6L189.9,247.6L191.5,248.5L193.1,249.5L194.7,250.4L196.3,251.3L197.9,252.2L199.6,253.1L201.2,253.9L202.9,254.7L204.6,255.5L206.3,256.3L208.0,257.1L209.7,257.9L211.4,258.6L213.1,259.4L214.8,260.1L216.5,260.8L218.3,261.4L220.0,262.1L221.7,262.7L223.5,263.4L225.2,264.0L227.0,264.6L228.8,265.2L230.6,265.7L232.3,266.3L234.1,266.8L235.9,267.3L237.7,267.8L239.5,268.3L241.3,268.8L243.1,269.2L244.9,269.6L246.7,270.0L248.6,270.4L250.4,270.8L252.2,271.1L254.1,271.4L255.9,271.7L257.7,272.0L259.6,272.2L261.4,272.5L263.3,272.6L265.1,272.8L267.0,273.0L268.8,273.1L270.7,273.2L272.6,273.2L274.4,273.3L276.3,273.4L278.1,273.4L280.0,273.4L281.9,273.4L283.7,273.4L285.6,273.4L287.5,273.4L289.3,273.4L291.2,273.4L293.1,273.4L294.9,273.4L296.8,273.3L298.7,273.3L300.5,273.3L302.4,273.3L304.2,273.3L306.1,273.3L308.0,273.3L309.8,273.2L311.7,273.2L313.6,273.2L315.4,273.2L317.3,273.2L317.3,273.8L315.4,273.8L313.6,273.8L311.7,273.8L309.8,273.8L308.0,273.9L306.1,273.9L304.2,273.9L302.4,273.9L300.5,273.9L298.7,273.9L296.8,273.9L294.9,274.0L293.1,274.0L291.2,274.0L289.3,274.0L287.5,274.0L285.6,274.0L283.7,274.0L281.9,274.0L280.0,274.0L278.1,274.0L276.3,274.0L274.4,273.9L272.5,273.8L270.7,273.8L268.8,273.7L266.9,273.6L265.1,273.4L263.2,273.2L261.4,273.0L259.5,272.8L257.7,272.6L255.8,272.3L254.0,272.0L252.1,271.7L250.3,271.4L248.4,271.0L246.6,270.6L244.8,270.2L243.0,269.8L241.2,269.4L239.4,268.9L237.5,268.4L235.7,267.9L234.0,267.4L232.2,266.9L230.4,266.3L228.6,265.7L226.8,265.2L225.1,264.6L223.3,263.9L221.5,263.3L219.8,262.7L218.0,262.0L216.3,261.3L214.6,260.6L212.8,259.9L211.1,259.2L209.4,258.4L207.7,257.7L206.0,256.9L204.3,256.1L202.6,255.3L201.0,254.4L199.3,253.6L197.7,252.7L196.0,251.8L194.4,250.9L192.7,250.0L191.1,249.1L189.5,248.1L187.9,247.1L186.4,246.1L184.8,245.1L183.3,244.0L181.7,243.0L180.2,241.9L178.7,240.8L177.2,239.6L175.7,238.5L174.3,237.3L172.8,236.2L171.4,235.0L170.0,233.8L168.5,232.5L167.1,231.3L165.8,230.0L164.4,228.8L163.0,227.5L161.7,226.2L160.3,224.9L159.0,223.6L157.7,222.3L156.4,220.9L155.1,219.6L153.8,218.2L152.5,216.9L151.3,215.5L150.0,214.1L148.7,212.7L147.5,211.3L146.3,209.9L145.1,208.5L143.9,207.1L142.7,205.6L141.5,204.2L140.4,202.7L139.3,201.2L138.1,199.7L137.0,198.2L135.9,196.7L134.8,195.2L133.8,193.6L132.7,192.1L131.6,190.6L130.6,189.0L129.6,187.5L128.5,185.9L127.5,184.3L126.5,182.8L125.5,181.2L124.5,179.6L123.6,178.0L122.6,176.4L121.6,174.8L120.7,173.2L119.7,171.6L118.8,170.0L117.9,168.4L117.0,166.7L116.1,165.1L115.2,163.4L114.3,161.8L113.5,160.1L112.6,158.5L111.8,156.8L110.9,155.1L110.1,153.5L109.2,151.8L108.4,150.1L107.6,148.5L106.7,146.8L105.9,145.1L105.1,143.5L104.2,141.8L103.4,140.1L102.6,138.5L101.7,136.8L100.9,135.1L100.1,133.4L99.3,131.7L98.5,130.1L97.7,128.4L96.9,126.7L96.2,125.0L95.4,123.3L94.6,121.6L93.8,119.9L93.1,118.2L92.3,116.5L91.6,114.8L90.9,113.0L90.1,111.3L89.4,109.6L88.7,107.9L88.0,106.2L87.3,104.4L86.5,102.7L85.8,101.0L85.2,99.2L84.5,97.5L83.8,95.8L83.1,94.0L82.4,92.3L81.8,90.5L81.1,88.8L80.5,87.0L79.8,85.3L79.2,83.5L78.5,81.8L77.9,80.0L77.3,78.3L76.7,76.5L76.0,74.8L75.4,73.0L74.8,71.2L74.2,69.5L73.6,67.7L73.0,65.9L72.5,64.1L71.9,62.4L71.3,60.6L70.7,58.8L70.2,57.0L69.6,55.3L69.0,53.5L68.5,51.7L68.0,49.9L67.4,48.1L66.9,46.3L66.3,44.5L65.8,42.8L65.3,41.0L64.8,39.2L64.3,37.4L63.8,35.6L63.3,33.8L62.8,32.0L62.3,30.2L61.8,28.4L61.3,26.6L60.8,24.8L60.3,23.0L59.9,21.2L59.4,19.4L58.9,17.6L58.5,15.7L58.0,13.9L57.6,12.1L57.1,10.3L56.7,8.5L56.2,6.7L55.8,4.9L55.4,3.1L54.9,1.2L54.5,-0.6L54.1,-2.4L53.7,-4.2L53.3,-6.0L52.9,-7.9L52.5,-9.7L52.1,-11.5L51.7,-13.3L51.3,-15.1L50.9,-17.0L50.5,-18.8L50.1,-20.6L49.7,-22.5L49.4,-24.3Z" fill="#000"/>
<path d="M50.0,-24.4L50.4,-22.6L50.8,-20.8L51.1,-18.9L51.5,-17.1L51.9,-15.3L52.3,-13.5L52.7,-11.6L53.1,-9.8L53.5,-8.0L53.9,-6.2L54.3,-4.4L54.7,-2.5L55.2,-0.7L55.6,1.1L56.0,2.9L56.4,4.7L56.9,6.5L57.3,8.3L57.7,10.2L58.2,12.0L58.6,13.8L59.1,15.6L59.6,17.4L60.0,19.2L60.5,21.0L60.9,22.8L61.4,24.6L61.9,26.4L62.4,28.2L62.9,30.0L63.4,31.8L63.9,33.6L64.4,35.4L64.9,37.2L65.4,39.0L65.9,40.8L66.4,42.6L66.9,44.4L67.5,46.2L68.0,47.9L68.5,49.7L69.1,51.5L69.6,53.3L70.2,55.1L70.7,56.9L71.3,58.6L71.9,60.4L72.4,62.2L73.0,64.0L73.6,65.7L74.2,67.5L74.8,69.3L75.4,71.0L76.0,72.8L76.6,74.6L77.2,76.3L77.8,78.1L78.4,79.8L79.1,81.6L79.7,83.3L80.3,85.1L81.0,86.8L81.6,88.6L82.3,90.3L83.0,92.1L83.6,93.8L84.3,95.6L85.0,97.3L85.7,99.0L86.4,100.8L87.0,102.5L87.7,104.2L88.5,106.0L89.2,107.7L89.9,109.4L90.6,111.1L91.3,112.8L92.1,114.5L92.8,116.3L93.6,118.0L94.3,119.7L95.1,121.4L95.8,123.1L96.6,124.8L97.4,126.5L98.2,128.2L98.9,129.9L99.7,131.5L100.5,133.2L101.3,134.9L102.2,136.6L103.0,138.3L103.8,139.9L104.6,141.6L105.5,143.3L106.3,144.9L107.1,146.6L108.0,148.3L108.8,149.9L109.6,151.6L110.5,153.3L111.3,154.9L112.2,156.6L113.0,158.3L113.9,159.9L114.7,161.6L115.6,163.2L116.5,164.9L117.3,166.5L118.2,168.2L119.2,169.8L120.1,171.4L121.0,173.0L122.0,174.6L122.9,176.2L123.9,177.8L124.9,179.4L125.9,181.0L126.9,182.5L127.9,184.1L128.9,185.7L129.9,187.2L130.9,188.8L132.0,190.4L133.0,191.9L134.1,193.4L135.2,194.9L136.2,196.5L137.3,198.0L138.4,199.5L139.6,201.0L140.7,202.5L141.8,203.9L143.0,205.4L144.2,206.8L145.4,208.3L146.6,209.7L147.8,211.1L149.0,212.5L150.3,213.9L151.5,215.3L152.8,216.6L154.1,218.0L155.3,219.3L156.6,220.7L157.9,222.0L159.3,223.3L160.6,224.7L161.9,226.0L163.3,227.2L164.6,228.5L166.0,229.8L167.4,231.0L168.8,232.3L170.2,233.5L171.6,234.7L173.0,235.9L174.5,237.1L175.9,238.2L177.4,239.4L178.9,240.5L180.4,241.6L181.9,242.7L183.4,243.8L185.0,244.8L186.5,245.8L188.1,246.8L189.7,247.8L191.3,248.8L192.9,249.7L194.5,250.7L196.2,251.6L197.8,252.5L199.4,253.3L201.1,254.2L202.8,255.0L204.5,255.8L206.1,256.6L207.8,257.4L209.5,258.2L211.2,258.9L213.0,259.6L214.7,260.3L216.4,261.0L218.1,261.7L219.9,262.4L221.6,263.0L223.4,263.7L225.2,264.3L226.9,264.9L228.7,265.5L230.5,266.0L232.2,266.6L234.0,267.1L235.8,267.6L237.6,268.1L239.4,268.6L241.2,269.1L243.0,269.5L244.9,269.9L246.7,270.3L248.5,270.7L250.3,271.1L252.2,271.4L254.0,271.7L255.8,272.0L257.7,272.3L259.5,272.5L261.4,272.8L263.2,272.9L265.1,273.1L267.0,273.3L268.8,273.4L270.7,273.5L272.5,273.5L274.4,273.6L276.3,273.7L278.1,273.7L280.0,273.7L281.9,273.7L283.7,273.7L285.6,273.7L287.5,273.7L289.3,273.7L291.2,273.7L293.1,273.7L294.9,273.7L296.8,273.6L298.7,273.6L300.5,273.6L302.4,273.6L304.2,273.6L306.1,273.6L308.0,273.6L309.8,273.5L311.7,273.5L313.6,273.5L315.4,273.5L317.3,273.5" fill="none" stroke="#4a6cf0" stroke-width="0.87" stroke-dasharray="1.1,1.7" opacity="0.7"/>
</g>
</g>
<path d="M58.40,273.50L58.40,266.10M58.40,17.50L58.40,25.70M78.39,273.50L78.39,270.00M78.39,17.50L78.39,21.50M90.08,273.50L90.08,270.00M90.08,17.50L90.08,21.50M98.38,273.50L98.38,270.00M98.38,17.50L98.38,21.50M104.81,273.50L104.81,270.00M104.81,17.50L104.81,21.50M110.07,273.50L110.07,270.00M110.07,17.50L110.07,21.50M114.51,273.50L114.51,270.00M114.51,17.50L114.51,21.50M118.37,273.50L118.37,270.00M118.37,17.50L118.37,21.50M121.76,273.50L121.76,270.00M121.76,17.50L121.76,21.50M124.80,273.50L124.80,266.10M124.80,17.50L124.80,25.70M144.79,273.50L144.79,270.00M144.79,17.50L144.79,21.50M156.48,273.50L156.48,270.00M156.48,17.50L156.48,21.50M164.78,273.50L164.78,270.00M164.78,17.50L164.78,21.50M171.21,273.50L171.21,270.00M171.21,17.50L171.21,21.50M176.47,273.50L176.47,270.00M176.47,17.50L176.47,21.50M180.91,273.50L180.91,270.00M180.91,17.50L180.91,21.50M184.77,273.50L184.77,270.00M184.77,17.50L184.77,21.50M188.16,273.50L188.16,270.00M188.16,17.50L188.16,21.50M191.20,273.50L191.20,266.10M191.20,17.50L191.20,25.70M211.19,273.50L211.19,270.00M211.19,17.50L211.19,21.50M222.88,273.50L222.88,270.00M222.88,17.50L222.88,21.50M231.18,273.50L231.18,270.00M231.18,17.50L231.18,21.50M237.61,273.50L237.61,270.00M237.61,17.50L237.61,21.50M242.87,273.50L242.87,270.00M242.87,17.50L242.87,21.50M247.31,273.50L247.31,270.00M247.31,17.50L247.31,21.50M251.17,273.50L251.17,270.00M251.17,17.50L251.17,21.50M254.56,273.50L254.56,270.00M254.56,17.50L254.56,21.50M257.60,273.50L257.60,266.10M257.60,17.50L257.60,25.70M277.59,273.50L277.59,270.00M277.59,17.50L277.59,21.50M289.28,273.50L289.28,270.00M289.28,17.50L289.28,21.50M297.58,273.50L297.58,270.00M297.58,17.50L297.58,21.50M304.01,273.50L304.01,270.00M304.01,17.50L304.01,21.50M309.27,273.50L309.27,270.00M309.27,17.50L309.27,21.50M313.71,273.50L313.71,270.00M313.71,17.50L313.71,21.50M55.50,258.53L60.00,258.53M317.50,258.53L313.00,258.53M55.50,242.45L60.00,242.45M317.50,242.45L313.00,242.45M55.50,226.38L60.00,226.38M317.50,226.38L313.00,226.38M55.50,210.30L63.80,210.30M317.50,210.30L309.20,210.30M55.50,194.23L60.00,194.23M317.50,194.23L313.00,194.23M55.50,178.15L60.00,178.15M317.50,178.15L313.00,178.15M55.50,162.08L60.00,162.08M317.50,162.08L313.00,162.08M55.50,146.00L63.80,146.00M317.50,146.00L309.20,146.00M55.50,129.93L60.00,129.93M317.50,129.93L313.00,129.93M55.50,113.85L60.00,113.85M317.50,113.85L313.00,113.85M55.50,97.78L60.00,97.78M317.50,97.78L313.00,97.78M55.50,81.70L63.80,81.70M317.50,81.70L309.20,81.70M55.50,65.63L60.00,65.63M317.50,65.63L313.00,65.63M55.50,49.55L60.00,49.55M317.50,49.55L313.00,49.55M55.50,33.48L60.00,33.48M317.50,33.48L313.00,33.48M55.50,17.40L63.80,17.40M317.50,17.40L309.20,17.40" stroke="#222" stroke-width="0.65" fill="none"/>
<rect x="55.5" y="17.5" width="262.0" height="256.0" fill="none" stroke="#303030" stroke-width="0.95"/>
<path d="M134.8,46.8H146.5" stroke="#222" stroke-width="0.7"/>
<rect x="134.8" y="54.3" width="12.2" height="7.5" fill="#ff3333"/>
<rect x="134.8" y="65.0" width="12.2" height="7.6" fill="#ffff33"/>
<rect x="134.8" y="76.0" width="12.2" height="7.8" fill="#00ff00"/>
<path d="M135,91H146.8" stroke="#8fb8ff" stroke-width="1.3" stroke-dasharray="1.4,1.6"/>
<text x="48.9" y="24.1" font-size="19.3" text-anchor="end">0.8</text>
<text x="48.9" y="88.4" font-size="19.3" text-anchor="end">0.6</text>
<text x="48.9" y="152.7" font-size="19.3" text-anchor="end">0.4</text>
<text x="48.9" y="217.0" font-size="19.3" text-anchor="end">0.2</text>
<text x="48.9" y="281.3" font-size="19.3" text-anchor="end">0</text>
<text x="44.1" y="299.1" font-size="19">10<tspan font-size="12.5" dy="-9" dx="-1">-4</tspan></text>
<text x="110.5" y="299.1" font-size="19">10<tspan font-size="12.5" dy="-9" dx="-1">-3</tspan></text>
<text x="176.9" y="299.1" font-size="19">10<tspan font-size="12.5" dy="-9" dx="-1">-2</tspan></text>
<text x="243.3" y="299.1" font-size="19">10<tspan font-size="12.5" dy="-9" dx="-1">-1</tspan></text>
<text x="317.8" y="307.8" font-size="20" text-anchor="end">x</text>
<text transform="translate(20.1,57.8) rotate(-90)" font-size="20">xf(x)</text>
<text x="316.3" y="13.7" font-size="13.2" text-anchor="end">H1 Collaboration</text>
<text x="136.6" y="36.8" font-size="10.3">Q<tspan font-size="7" dy="-4.2">2</tspan><tspan dy="4.2"> = 6464 GeV</tspan><tspan font-size="7" dy="-4.2">2</tspan></text>
<text x="150.1" y="50.0" font-size="9.62">H1PDF 2012</text>
<text x="150.1" y="60.6" font-size="9.62">experimental uncertainty</text>
<text x="150.1" y="71.3" font-size="9.62">+ model uncertainty</text>
<text x="150.1" y="82.0" font-size="9.62">+ parametrisation unc.</text>
<text x="150.1" y="92.8" font-size="9.62">f<tspan font-size="6.5" dy="2">s</tspan><tspan dy="-2">=0.5 fit</tspan></text>
<text x="101.8" y="132.7" font-size="16">xg<tspan font-size="10.6">(</tspan><tspan font-size="13" dy="0.6">×</tspan><tspan font-size="10.6" dy="-0.6" dx="-0.9"> 0.01)</tspan></text>
<text x="64.3" y="175.4" font-size="16">xS<tspan font-size="10.8">(</tspan><tspan font-size="13.2" dy="0.6">×</tspan><tspan font-size="10.8" dy="-0.6" dx="-0.9"> 0.01)</tspan></text>
<text x="253.2" y="104.9" font-size="16">xu<tspan font-size="10.3" dy="3.1" dx="-0.3">v</tspan></text>
<text x="246.0" y="170.9" font-size="16">xd<tspan font-size="10.3" dy="3.2" dx="-0.3">v</tspan></text>
</svg>
</body></html>
